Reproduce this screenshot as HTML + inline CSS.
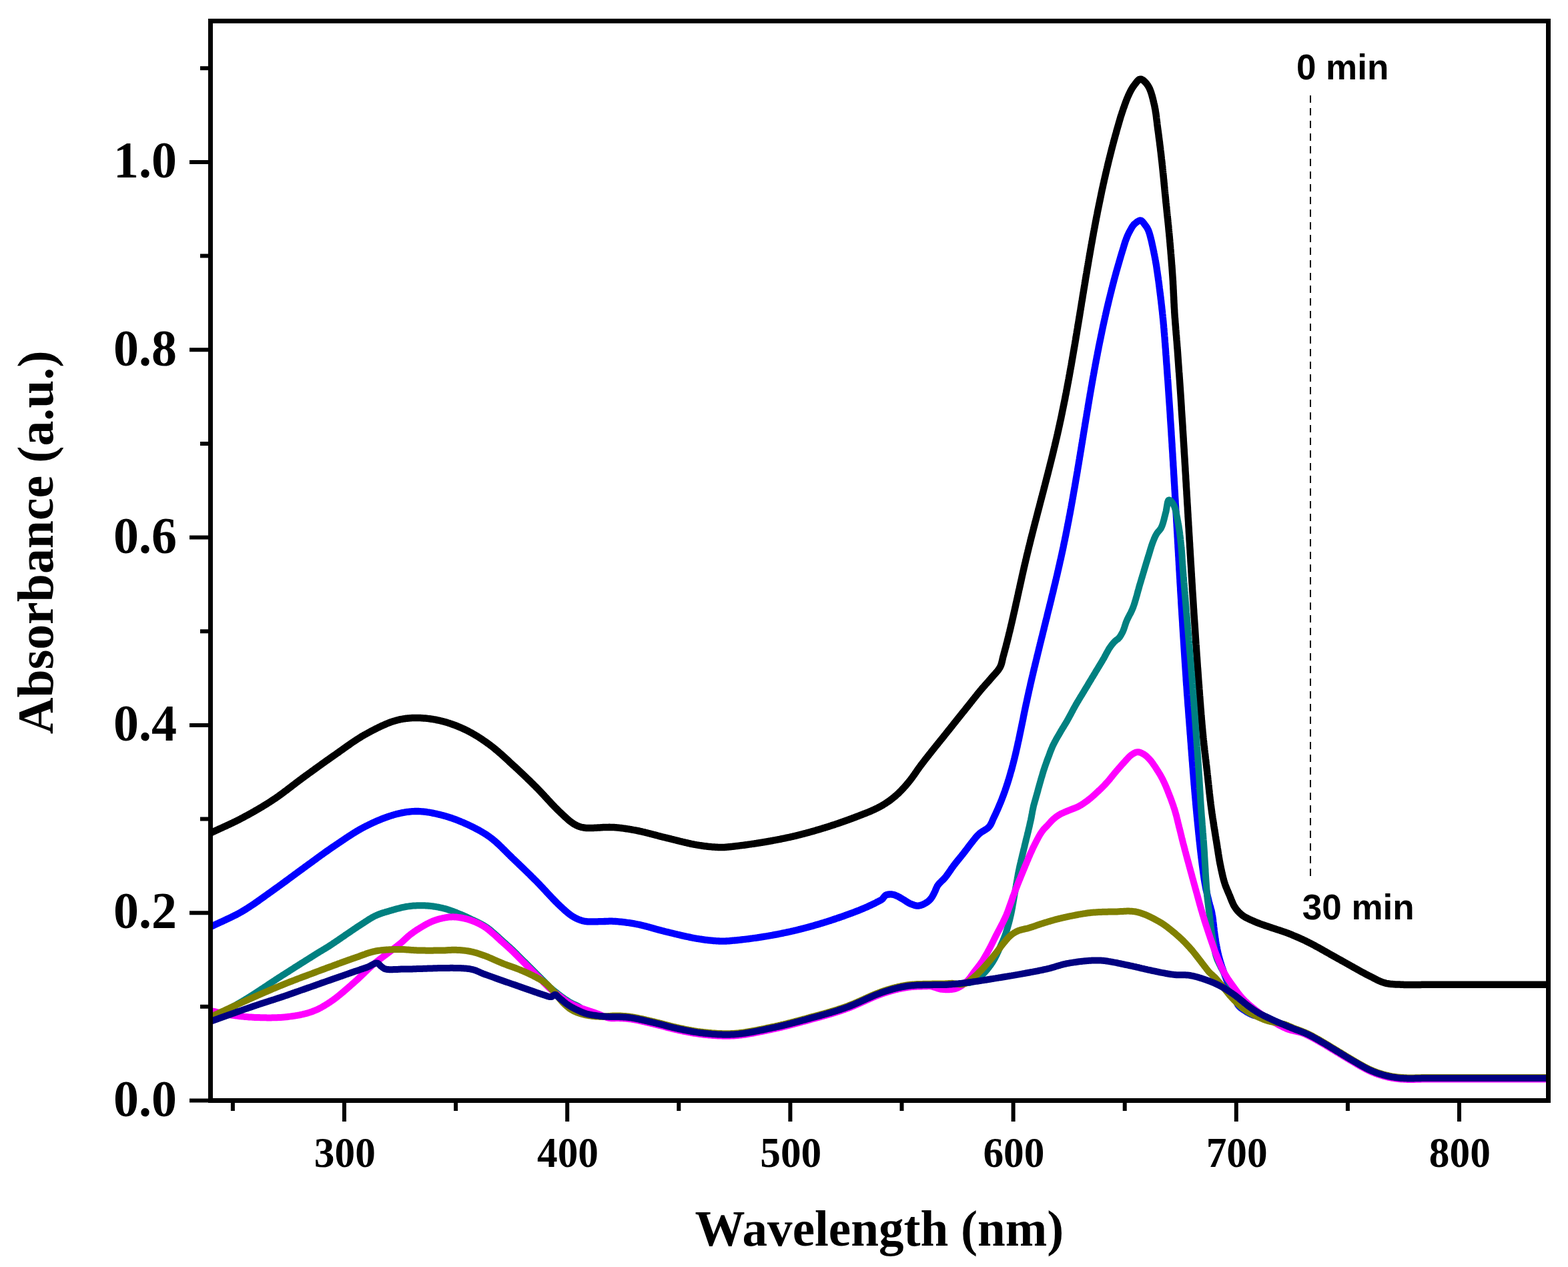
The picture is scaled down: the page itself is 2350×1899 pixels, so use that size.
<!DOCTYPE html>
<html><head><meta charset="utf-8"><title>Absorbance spectra</title>
<style>html,body{margin:0;padding:0;background:#fff;}svg{display:block;}</style>
</head><body>
<svg xmlns="http://www.w3.org/2000/svg" width="2350" height="1899" viewBox="0 0 2350 1899"><defs><clipPath id="pc"><rect x="316" y="32" width="2004" height="1617"/></clipPath></defs><g clip-path="url(#pc)" fill="none" stroke-linejoin="round" stroke-linecap="butt"><path d="M316.0 1248.4L317.3 1247.8 318.7 1247.1 320.0 1246.5 321.4 1245.9 322.7 1245.2 324.1 1244.6 325.4 1244.0 326.8 1243.4 328.1 1242.7 329.5 1242.1 330.8 1241.5 332.2 1240.9 333.5 1240.3 334.9 1239.6 336.2 1239.0 337.6 1238.4 338.9 1237.8 340.3 1237.2 341.6 1236.5 343.0 1235.9 344.3 1235.3 345.7 1234.6 347.0 1234.0 348.3 1233.4 349.7 1232.7 351.0 1232.1 352.4 1231.4 353.7 1230.8 355.0 1230.1 356.4 1229.4 357.7 1228.8 359.0 1228.1 360.4 1227.4 361.7 1226.7 363.0 1226.0 364.3 1225.3 365.6 1224.6 366.9 1223.9 368.2 1223.2 369.5 1222.5 370.8 1221.8 372.1 1221.1 373.4 1220.4 374.6 1219.7 375.9 1219.0 377.2 1218.3 378.5 1217.5 379.8 1216.8 381.1 1216.1 382.4 1215.3 383.6 1214.6 384.9 1213.9 386.2 1213.1 387.5 1212.4 388.7 1211.6 390.0 1210.9 391.3 1210.1 392.6 1209.4 393.8 1208.6 395.1 1207.8 396.4 1207.0 397.6 1206.3 398.9 1205.5 400.2 1204.7 401.4 1203.9 402.7 1203.1 404.0 1202.3 405.2 1201.5 406.5 1200.6 407.7 1199.8 409.0 1199.0 410.2 1198.2 411.4 1197.4 412.6 1196.6 413.8 1195.8 415.0 1194.9 416.2 1194.1 417.4 1193.3 418.5 1192.4 419.7 1191.6 420.9 1190.7 422.1 1189.8 423.3 1189.0 424.4 1188.1 425.6 1187.2 426.8 1186.3 428.0 1185.4 429.2 1184.6 430.3 1183.7 431.5 1182.8 432.7 1181.9 433.8 1181.0 435.0 1180.1 436.2 1179.2 437.4 1178.3 438.5 1177.4 439.7 1176.5 440.9 1175.6 442.1 1174.7 443.2 1173.8 444.4 1172.9 445.6 1172.0 446.8 1171.1 447.9 1170.2 449.1 1169.4 450.3 1168.5 451.5 1167.6 452.6 1166.7 453.8 1165.9 455.0 1165.0 456.2 1164.1 457.4 1163.2 458.6 1162.4 459.8 1161.5 461.0 1160.6 462.2 1159.7 463.5 1158.8 464.7 1158.0 465.9 1157.1 467.1 1156.2 468.3 1155.3 469.5 1154.5 470.7 1153.6 471.9 1152.7 473.1 1151.8 474.3 1151.0 475.5 1150.1 476.7 1149.2 478.0 1148.3 479.2 1147.5 480.4 1146.6 481.6 1145.7 482.8 1144.9 484.0 1144.0 485.2 1143.1 486.4 1142.3 487.6 1141.4 488.9 1140.5 490.1 1139.7 491.3 1138.8 492.5 1138.0 493.7 1137.1 494.9 1136.3 496.1 1135.4 497.4 1134.5 498.6 1133.7 499.8 1132.8 501.0 1132.0 502.2 1131.1 503.5 1130.3 504.7 1129.4 505.9 1128.5 507.2 1127.7 508.4 1126.8 509.6 1125.9 510.9 1125.0 512.1 1124.1 513.3 1123.3 514.6 1122.4 515.8 1121.5 517.0 1120.6 518.3 1119.7 519.5 1118.9 520.7 1118.0 522.0 1117.1 523.2 1116.3 524.5 1115.4 525.7 1114.5 526.9 1113.7 528.2 1112.8 529.4 1112.0 530.7 1111.1 531.9 1110.3 533.1 1109.5 534.4 1108.7 535.6 1107.9 536.9 1107.1 538.2 1106.3 539.4 1105.5 540.7 1104.7 541.9 1103.9 543.2 1103.2 544.5 1102.5 545.7 1101.7 547.0 1101.0 548.3 1100.3 549.7 1099.5 551.0 1098.8 552.4 1098.0 553.7 1097.3 555.1 1096.6 556.4 1095.8 557.8 1095.1 559.2 1094.4 560.6 1093.7 561.9 1093.0 563.3 1092.3 564.7 1091.6 566.1 1090.9 567.5 1090.2 568.9 1089.5 570.2 1088.9 571.6 1088.2 573.0 1087.6 574.4 1087.0 575.7 1086.4 577.1 1085.8 578.5 1085.2 579.8 1084.6 581.2 1084.1 582.5 1083.5 583.9 1083.0 585.2 1082.5 586.5 1082.1 587.8 1081.6 589.1 1081.2 590.4 1080.8 591.7 1080.4 593.0 1080.0 594.5 1079.6 596.0 1079.2 597.5 1078.8 598.9 1078.5 600.4 1078.2 601.8 1077.9 603.3 1077.7 604.7 1077.4 606.1 1077.2 607.5 1077.0 608.9 1076.8 610.3 1076.7 611.7 1076.5 613.1 1076.4 614.5 1076.3 615.9 1076.2 617.4 1076.1 618.8 1076.1 620.2 1076.0 621.6 1076.0 623.1 1076.0 624.5 1076.0 626.0 1076.0 627.4 1076.0 628.9 1076.1 630.3 1076.1 631.8 1076.2 633.3 1076.3 634.8 1076.4 636.2 1076.5 637.7 1076.6 639.2 1076.7 640.7 1076.9 642.2 1077.1 643.7 1077.3 645.2 1077.5 646.7 1077.7 648.2 1077.9 649.7 1078.2 651.2 1078.4 652.7 1078.7 654.1 1079.0 655.6 1079.3 657.1 1079.6 658.6 1079.9 660.1 1080.3 661.5 1080.6 663.0 1081.0 664.4 1081.4 665.8 1081.7 667.2 1082.1 668.6 1082.5 670.0 1082.9 671.4 1083.4 672.7 1083.8 674.1 1084.3 675.5 1084.7 676.9 1085.2 678.3 1085.7 679.7 1086.2 681.1 1086.7 682.4 1087.2 683.8 1087.8 685.2 1088.3 686.6 1088.9 687.9 1089.5 689.3 1090.0 690.6 1090.6 692.0 1091.2 693.3 1091.8 694.7 1092.4 696.0 1093.1 697.4 1093.7 698.7 1094.3 700.0 1095.0 701.3 1095.6 702.6 1096.3 703.8 1097.0 705.1 1097.7 706.4 1098.3 707.7 1099.1 708.9 1099.8 710.2 1100.5 711.4 1101.2 712.7 1102.0 713.9 1102.7 715.1 1103.5 716.4 1104.2 717.6 1105.0 718.8 1105.8 720.1 1106.6 721.3 1107.4 722.5 1108.2 723.7 1109.1 724.9 1109.9 726.2 1110.7 727.4 1111.6 728.6 1112.4 729.8 1113.3 731.0 1114.2 732.2 1115.0 733.4 1115.9 734.6 1116.8 735.7 1117.7 736.9 1118.5 738.0 1119.4 739.2 1120.3 740.3 1121.2 741.4 1122.1 742.5 1123.0 743.6 1124.0 744.8 1124.9 745.9 1125.9 747.0 1126.8 748.1 1127.8 749.2 1128.8 750.3 1129.7 751.4 1130.7 752.5 1131.7 753.6 1132.7 754.7 1133.7 755.8 1134.7 756.9 1135.7 758.0 1136.7 759.1 1137.7 760.2 1138.7 761.3 1139.7 762.4 1140.7 763.5 1141.8 764.6 1142.8 765.7 1143.8 766.8 1144.8 767.9 1145.8 769.0 1146.8 770.1 1147.8 771.1 1148.7 772.2 1149.7 773.2 1150.7 774.3 1151.7 775.4 1152.7 776.4 1153.6 777.5 1154.6 778.5 1155.6 779.6 1156.6 780.6 1157.6 781.7 1158.6 782.8 1159.6 783.8 1160.6 784.9 1161.6 785.9 1162.6 787.0 1163.6 788.0 1164.6 789.1 1165.6 790.1 1166.6 791.2 1167.7 792.2 1168.7 793.3 1169.7 794.3 1170.7 795.4 1171.7 796.4 1172.8 797.5 1173.8 798.5 1174.8 799.5 1175.9 800.6 1176.9 801.6 1177.9 802.7 1179.0 803.7 1180.0 804.7 1181.0 805.8 1182.1 806.8 1183.1 807.8 1184.2 808.8 1185.3 809.9 1186.4 810.9 1187.5 812.0 1188.6 813.0 1189.7 814.0 1190.8 815.1 1191.9 816.1 1193.0 817.1 1194.2 818.2 1195.3 819.2 1196.4 820.2 1197.5 821.2 1198.6 822.3 1199.7 823.3 1200.8 824.3 1201.9 825.3 1203.0 826.3 1204.1 827.3 1205.2 828.3 1206.2 829.3 1207.3 830.3 1208.3 831.3 1209.4 832.3 1210.4 833.3 1211.3 834.2 1212.3 835.2 1213.3 836.1 1214.2 837.1 1215.1 838.0 1216.0 839.2 1217.1 840.3 1218.2 841.5 1219.3 842.6 1220.4 843.8 1221.5 844.9 1222.5 846.0 1223.6 847.2 1224.6 848.3 1225.6 849.4 1226.6 850.5 1227.6 851.6 1228.6 852.6 1229.5 853.7 1230.4 854.8 1231.2 855.8 1232.0 856.9 1232.8 857.9 1233.5 859.0 1234.2 860.0 1234.9 861.0 1235.5 862.4 1236.3 863.8 1237.0 865.1 1237.6 866.3 1238.2 867.6 1238.7 868.9 1239.1 870.2 1239.5 871.7 1239.9 873.3 1240.2 875.0 1240.5 876.1 1240.7 877.2 1240.8 878.4 1240.9 879.6 1241.0 880.9 1241.0 882.3 1241.0 883.7 1241.0 885.1 1241.0 886.5 1241.0 888.0 1241.0 889.5 1240.9 891.1 1240.8 892.6 1240.8 894.2 1240.7 895.8 1240.6 897.4 1240.5 899.0 1240.4 900.6 1240.3 902.2 1240.2 903.8 1240.1 905.4 1240.1 907.0 1240.0 908.6 1239.9 910.2 1239.9 911.7 1239.9 913.2 1239.8 914.7 1239.9 916.2 1239.9 917.6 1239.9 919.0 1240.0 920.5 1240.1 922.0 1240.2 923.5 1240.3 925.0 1240.4 926.4 1240.6 927.8 1240.7 929.2 1240.9 930.7 1241.0 932.1 1241.2 933.5 1241.4 934.8 1241.6 936.2 1241.8 937.6 1242.0 939.0 1242.2 940.4 1242.4 941.8 1242.6 943.2 1242.8 944.7 1243.1 946.1 1243.3 947.5 1243.6 949.0 1243.9 950.5 1244.1 952.0 1244.4 953.5 1244.7 954.8 1245.0 956.2 1245.2 957.6 1245.5 959.0 1245.8 960.3 1246.1 961.7 1246.4 963.1 1246.8 964.6 1247.1 966.0 1247.4 967.4 1247.8 968.8 1248.1 970.3 1248.5 971.7 1248.9 973.2 1249.2 974.6 1249.6 976.1 1250.0 977.6 1250.4 979.0 1250.8 980.5 1251.2 982.0 1251.5 983.4 1251.9 984.9 1252.3 986.4 1252.7 987.8 1253.1 989.3 1253.5 990.8 1253.8 992.2 1254.2 993.7 1254.6 995.2 1254.9 996.6 1255.3 998.1 1255.7 999.5 1256.0 1000.9 1256.3 1002.4 1256.7 1003.8 1257.0 1005.3 1257.4 1006.8 1257.8 1008.2 1258.1 1009.7 1258.5 1011.2 1258.9 1012.6 1259.2 1014.1 1259.6 1015.6 1260.0 1017.1 1260.3 1018.5 1260.7 1020.0 1261.1 1021.5 1261.4 1022.9 1261.8 1024.4 1262.1 1025.9 1262.5 1027.3 1262.8 1028.8 1263.2 1030.2 1263.5 1031.7 1263.8 1033.1 1264.2 1034.5 1264.5 1035.9 1264.8 1037.3 1265.1 1038.7 1265.3 1040.1 1265.6 1041.5 1265.9 1042.9 1266.1 1044.3 1266.4 1045.6 1266.6 1047.1 1266.8 1048.7 1267.1 1050.2 1267.3 1051.7 1267.5 1053.2 1267.8 1054.7 1268.0 1056.2 1268.2 1057.8 1268.3 1059.2 1268.5 1060.7 1268.7 1062.2 1268.9 1063.7 1269.0 1065.1 1269.1 1066.6 1269.3 1068.0 1269.4 1069.4 1269.5 1070.8 1269.6 1072.2 1269.7 1073.5 1269.8 1074.9 1269.8 1076.2 1269.9 1077.5 1269.9 1078.7 1270.0 1080.0 1270.0 1081.6 1270.0 1083.1 1270.0 1084.5 1270.0 1085.9 1269.9 1087.2 1269.8 1088.5 1269.7 1089.8 1269.6 1091.1 1269.5 1092.5 1269.3 1093.9 1269.2 1095.3 1269.0 1096.8 1268.9 1098.3 1268.7 1100.0 1268.5 1101.2 1268.4 1102.4 1268.2 1103.7 1268.1 1105.0 1267.9 1106.4 1267.8 1107.7 1267.6 1109.1 1267.4 1110.5 1267.2 1112.0 1267.1 1113.5 1266.9 1114.9 1266.7 1116.5 1266.5 1118.0 1266.3 1119.5 1266.1 1121.1 1265.8 1122.6 1265.6 1124.2 1265.4 1125.8 1265.2 1127.3 1264.9 1128.9 1264.7 1130.5 1264.5 1132.1 1264.2 1133.7 1264.0 1135.3 1263.7 1136.8 1263.5 1138.4 1263.3 1139.9 1263.0 1141.5 1262.8 1143.0 1262.5 1144.5 1262.3 1146.0 1262.0 1147.4 1261.8 1148.9 1261.5 1150.3 1261.3 1151.8 1261.0 1153.2 1260.7 1154.6 1260.5 1156.1 1260.2 1157.5 1260.0 1159.0 1259.7 1160.4 1259.4 1161.8 1259.2 1163.3 1258.9 1164.7 1258.6 1166.2 1258.3 1167.6 1258.1 1169.0 1257.8 1170.5 1257.5 1171.9 1257.2 1173.4 1256.9 1174.8 1256.6 1176.2 1256.3 1177.7 1256.0 1179.1 1255.7 1180.5 1255.4 1182.0 1255.1 1183.4 1254.8 1184.8 1254.5 1186.3 1254.1 1187.7 1253.8 1189.1 1253.5 1190.6 1253.1 1192.0 1252.8 1193.4 1252.5 1194.9 1252.1 1196.3 1251.7 1197.8 1251.4 1199.2 1251.0 1200.7 1250.7 1202.1 1250.3 1203.5 1249.9 1205.0 1249.5 1206.4 1249.2 1207.9 1248.8 1209.3 1248.4 1210.7 1248.0 1212.2 1247.6 1213.6 1247.2 1215.1 1246.8 1216.5 1246.4 1217.9 1246.0 1219.4 1245.6 1220.8 1245.2 1222.2 1244.8 1223.7 1244.3 1225.1 1243.9 1226.5 1243.5 1228.0 1243.1 1229.4 1242.6 1230.8 1242.2 1232.3 1241.8 1233.7 1241.3 1235.1 1240.9 1236.6 1240.4 1238.0 1240.0 1239.4 1239.6 1240.8 1239.1 1242.2 1238.7 1243.6 1238.2 1245.1 1237.8 1246.5 1237.3 1247.9 1236.8 1249.3 1236.4 1250.8 1235.9 1252.2 1235.4 1253.6 1234.9 1255.0 1234.5 1256.5 1234.0 1257.9 1233.5 1259.3 1233.0 1260.7 1232.5 1262.2 1232.0 1263.6 1231.5 1265.0 1231.0 1266.4 1230.5 1267.8 1230.0 1269.2 1229.5 1270.6 1229.0 1272.0 1228.5 1273.3 1228.0 1274.7 1227.5 1276.1 1227.0 1277.4 1226.5 1278.7 1226.0 1280.1 1225.5 1281.4 1225.0 1282.7 1224.5 1284.0 1224.0 1285.4 1223.4 1286.9 1222.9 1288.3 1222.3 1289.8 1221.8 1291.2 1221.2 1292.6 1220.7 1294.0 1220.1 1295.5 1219.6 1296.9 1219.0 1298.3 1218.5 1299.6 1217.9 1301.0 1217.4 1302.4 1216.8 1303.7 1216.2 1305.1 1215.7 1306.4 1215.1 1307.7 1214.5 1309.1 1213.9 1310.4 1213.3 1311.6 1212.7 1312.9 1212.1 1314.2 1211.5 1315.4 1210.9 1316.6 1210.3 1317.8 1209.6 1319.0 1209.0 1320.4 1208.2 1321.7 1207.5 1323.0 1206.7 1324.3 1205.9 1325.6 1205.1 1326.9 1204.3 1328.1 1203.5 1329.3 1202.7 1330.5 1201.9 1331.7 1201.1 1332.9 1200.2 1334.0 1199.4 1335.2 1198.5 1336.3 1197.6 1337.5 1196.7 1338.6 1195.8 1339.8 1194.9 1340.9 1194.0 1342.0 1193.0 1343.1 1192.1 1344.1 1191.1 1345.2 1190.1 1346.3 1189.2 1347.3 1188.2 1348.3 1187.1 1349.4 1186.1 1350.4 1185.1 1351.4 1184.0 1352.4 1183.0 1353.4 1181.9 1354.3 1180.9 1355.3 1179.8 1356.3 1178.7 1357.3 1177.6 1358.2 1176.5 1359.2 1175.4 1360.1 1174.2 1361.1 1173.1 1362.0 1172.0 1362.9 1170.9 1363.8 1169.8 1364.7 1168.6 1365.6 1167.4 1366.5 1166.3 1367.3 1165.1 1368.2 1163.9 1369.1 1162.7 1369.9 1161.5 1370.8 1160.3 1371.6 1159.0 1372.5 1157.8 1373.3 1156.6 1374.1 1155.4 1375.0 1154.2 1375.8 1153.0 1376.6 1151.8 1377.5 1150.6 1378.3 1149.5 1379.2 1148.3 1380.0 1147.2 1380.9 1146.0 1381.8 1144.8 1382.7 1143.6 1383.6 1142.5 1384.5 1141.3 1385.4 1140.2 1386.2 1139.0 1387.1 1137.9 1388.0 1136.8 1388.9 1135.6 1389.8 1134.5 1390.7 1133.4 1391.5 1132.3 1392.4 1131.1 1393.3 1130.0 1394.3 1128.8 1395.2 1127.7 1396.1 1126.5 1397.0 1125.4 1397.9 1124.2 1398.8 1123.1 1399.7 1122.0 1400.6 1120.8 1401.5 1119.7 1402.5 1118.5 1403.4 1117.4 1404.3 1116.2 1405.3 1115.1 1406.2 1113.9 1407.1 1112.8 1408.1 1111.6 1409.0 1110.4 1409.9 1109.3 1410.9 1108.1 1411.8 1107.0 1412.7 1105.8 1413.7 1104.7 1414.6 1103.5 1415.5 1102.3 1416.4 1101.2 1417.4 1100.0 1418.3 1098.9 1419.2 1097.7 1420.1 1096.6 1421.0 1095.4 1422.0 1094.3 1422.9 1093.1 1423.8 1092.0 1424.7 1090.8 1425.6 1089.6 1426.6 1088.5 1427.5 1087.3 1428.4 1086.2 1429.3 1085.0 1430.2 1083.9 1431.2 1082.7 1432.1 1081.6 1433.0 1080.4 1433.9 1079.2 1434.8 1078.1 1435.8 1076.9 1436.7 1075.8 1437.6 1074.6 1438.5 1073.5 1439.4 1072.3 1440.4 1071.2 1441.3 1070.0 1442.2 1068.9 1443.1 1067.7 1444.0 1066.6 1445.0 1065.5 1445.9 1064.3 1446.8 1063.2 1447.7 1062.0 1448.6 1060.9 1449.6 1059.7 1450.5 1058.6 1451.4 1057.4 1452.3 1056.2 1453.3 1055.1 1454.2 1053.9 1455.1 1052.7 1456.0 1051.6 1457.0 1050.4 1457.9 1049.2 1458.8 1048.0 1459.8 1046.8 1460.7 1045.7 1461.6 1044.5 1462.6 1043.3 1463.5 1042.2 1464.4 1041.0 1465.3 1039.9 1466.3 1038.7 1467.2 1037.6 1468.1 1036.5 1469.0 1035.4 1469.9 1034.3 1470.9 1033.2 1471.8 1032.0 1472.8 1030.9 1473.8 1029.8 1474.8 1028.7 1475.7 1027.6 1476.7 1026.5 1477.6 1025.4 1478.6 1024.4 1479.6 1023.3 1480.5 1022.2 1481.4 1021.2 1482.4 1020.1 1483.3 1019.1 1484.2 1018.0 1485.1 1017.0 1486.0 1015.9 1487.0 1014.7 1488.0 1013.6 1489.0 1012.4 1490.1 1011.3 1491.1 1010.2 1492.1 1009.0 1493.1 1007.9 1494.0 1006.8 1495.0 1005.7 1495.9 1004.5 1496.7 1003.4 1497.5 1002.2 1498.2 1001.0 1498.9 999.8 1499.5 998.5 1500.1 997.2 1500.5 995.9 1501.0 994.6 1501.3 993.2 1501.7 991.9 1502.0 990.5 1502.3 989.1 1502.6 987.8 1502.9 986.4 1503.2 985.0 1503.6 983.6 1504.0 982.2 1504.4 980.9 1504.7 979.5 1505.1 978.1 1505.5 976.7 1505.9 975.3 1506.2 973.9 1506.6 972.5 1507.0 971.1 1507.4 969.6 1507.8 968.2 1508.1 966.7 1508.5 965.2 1508.9 963.8 1509.2 962.5 1509.6 961.1 1509.9 959.6 1510.3 958.2 1510.7 956.8 1511.0 955.3 1511.4 953.9 1511.7 952.4 1512.1 951.0 1512.4 949.5 1512.8 948.0 1513.2 946.6 1513.5 945.1 1513.9 943.6 1514.2 942.2 1514.6 940.8 1514.9 939.3 1515.2 937.9 1515.6 936.4 1515.9 935.0 1516.3 933.5 1516.6 932.1 1516.9 930.6 1517.3 929.1 1517.6 927.7 1517.9 926.2 1518.3 924.8 1518.6 923.3 1518.9 921.9 1519.2 920.4 1519.6 919.0 1519.9 917.6 1520.2 916.1 1520.6 914.6 1520.9 913.2 1521.2 911.7 1521.5 910.2 1521.9 908.8 1522.2 907.3 1522.5 905.8 1522.8 904.4 1523.1 903.0 1523.5 901.5 1523.8 900.1 1524.1 898.8 1524.4 897.4 1524.7 896.1 1525.0 894.5 1525.3 893.0 1525.7 891.5 1526.0 890.0 1526.3 888.6 1526.6 887.2 1526.9 885.7 1527.2 884.3 1527.6 882.9 1527.9 881.5 1528.2 880.0 1528.5 878.7 1528.8 877.3 1529.1 876.0 1529.4 874.6 1529.7 873.3 1530.0 872.0 1530.3 870.6 1530.6 869.3 1530.9 867.9 1531.2 866.5 1531.5 865.1 1531.8 863.7 1532.1 862.4 1532.4 861.1 1532.7 859.7 1533.0 858.3 1533.3 857.0 1533.6 855.6 1534.0 854.2 1534.3 852.7 1534.6 851.3 1534.9 849.9 1535.3 848.5 1535.6 847.1 1535.9 845.7 1536.2 844.3 1536.6 842.9 1536.9 841.5 1537.2 840.1 1537.5 838.8 1537.9 837.4 1538.2 836.0 1538.5 834.6 1538.8 833.2 1539.2 831.9 1539.5 830.5 1539.8 829.1 1540.2 827.7 1540.5 826.3 1540.8 825.0 1541.2 823.6 1541.5 822.2 1541.8 820.8 1542.2 819.4 1542.5 818.1 1542.9 816.7 1543.2 815.3 1543.6 813.9 1543.9 812.5 1544.2 811.2 1544.6 809.8 1544.9 808.4 1545.3 807.0 1545.6 805.6 1546.0 804.3 1546.3 802.9 1546.7 801.5 1547.0 800.1 1547.4 798.7 1547.7 797.3 1548.1 796.0 1548.4 794.6 1548.8 793.2 1549.1 791.8 1549.5 790.4 1549.9 789.0 1550.2 787.6 1550.6 786.2 1550.9 784.9 1551.3 783.5 1551.6 782.1 1552.0 780.7 1552.4 779.3 1552.7 778.0 1553.1 776.6 1553.4 775.2 1553.8 773.9 1554.1 772.5 1554.5 771.2 1554.8 769.8 1555.2 768.5 1555.5 767.1 1555.9 765.7 1556.3 764.3 1556.6 762.9 1557.0 761.5 1557.4 760.0 1557.7 758.7 1558.1 757.4 1558.4 756.0 1558.8 754.7 1559.1 753.3 1559.5 751.9 1559.9 750.5 1560.2 749.1 1560.6 747.7 1561.0 746.3 1561.3 744.9 1561.7 743.5 1562.1 742.1 1562.4 740.7 1562.8 739.3 1563.2 737.8 1563.6 736.4 1563.9 735.0 1564.3 733.6 1564.6 732.2 1565.0 730.9 1565.4 729.5 1565.7 728.1 1566.1 726.7 1566.4 725.3 1566.8 724.0 1567.1 722.6 1567.5 721.2 1567.9 719.8 1568.2 718.4 1568.6 717.0 1568.9 715.6 1569.3 714.2 1569.7 712.8 1570.0 711.4 1570.4 710.1 1570.7 708.7 1571.1 707.3 1571.4 705.9 1571.8 704.4 1572.2 703.0 1572.5 701.5 1572.9 700.1 1573.3 698.6 1573.6 697.2 1574.0 695.7 1574.4 694.3 1574.7 692.8 1575.1 691.4 1575.5 689.9 1575.8 688.5 1576.2 687.0 1576.5 685.6 1576.9 684.1 1577.3 682.7 1577.6 681.2 1578.0 679.8 1578.3 678.3 1578.7 676.8 1579.0 675.4 1579.4 673.9 1579.7 672.5 1580.1 671.0 1580.4 669.6 1580.8 668.1 1581.1 666.6 1581.5 665.2 1581.8 663.7 1582.2 662.3 1582.5 660.8 1582.8 659.4 1583.2 657.9 1583.5 656.4 1583.9 655.0 1584.2 653.5 1584.5 652.1 1584.9 650.6 1585.2 649.1 1585.5 647.7 1585.9 646.2 1586.2 644.8 1586.5 643.3 1586.8 641.9 1587.1 640.4 1587.5 639.0 1587.8 637.5 1588.1 636.1 1588.4 634.6 1588.7 633.2 1589.0 631.7 1589.4 630.3 1589.7 628.8 1590.0 627.4 1590.3 625.9 1590.6 624.5 1590.9 623.0 1591.2 621.5 1591.5 620.1 1591.8 618.6 1592.1 617.1 1592.4 615.7 1592.7 614.2 1593.0 612.7 1593.3 611.3 1593.6 609.8 1593.9 608.3 1594.2 606.9 1594.5 605.4 1594.8 603.9 1595.1 602.5 1595.4 601.0 1595.7 599.6 1596.0 598.2 1596.3 596.7 1596.5 595.3 1596.8 593.8 1597.1 592.3 1597.4 590.9 1597.7 589.4 1598.0 588.0 1598.2 586.5 1598.5 585.1 1598.8 583.7 1599.1 582.2 1599.3 580.8 1599.6 579.4 1599.9 577.9 1600.1 576.5 1600.4 575.0 1600.7 573.6 1601.0 572.1 1601.2 570.6 1601.5 569.2 1601.8 567.8 1602.0 566.3 1602.3 564.9 1602.6 563.4 1602.8 562.0 1603.1 560.5 1603.3 559.0 1603.6 557.6 1603.9 556.1 1604.1 554.6 1604.4 553.2 1604.7 551.7 1604.9 550.2 1605.2 548.8 1605.5 547.3 1605.7 545.8 1606.0 544.4 1606.2 542.9 1606.5 541.4 1606.7 540.0 1607.0 538.5 1607.2 537.1 1607.5 535.6 1607.7 534.2 1608.0 532.7 1608.2 531.3 1608.5 529.8 1608.7 528.4 1609.0 526.9 1609.2 525.5 1609.5 524.0 1609.7 522.6 1610.0 521.1 1610.2 519.7 1610.5 518.2 1610.7 516.8 1611.0 515.3 1611.2 513.8 1611.5 512.4 1611.7 510.9 1612.0 509.5 1612.2 508.0 1612.4 506.6 1612.7 505.1 1612.9 503.6 1613.2 502.2 1613.4 500.7 1613.7 499.3 1613.9 497.8 1614.1 496.3 1614.4 494.9 1614.6 493.4 1614.9 492.0 1615.1 490.5 1615.3 489.1 1615.6 487.6 1615.8 486.1 1616.1 484.7 1616.3 483.2 1616.6 481.6 1616.8 480.1 1617.1 478.6 1617.3 477.1 1617.6 475.6 1617.8 474.1 1618.1 472.6 1618.3 471.1 1618.5 469.6 1618.8 468.1 1619.0 466.7 1619.2 465.3 1619.5 463.9 1619.7 462.6 1619.9 461.3 1620.1 460.0 1620.4 458.4 1620.6 457.0 1620.8 455.6 1621.0 454.3 1621.2 453.0 1621.4 451.7 1621.7 450.4 1621.9 449.1 1622.1 447.6 1622.4 446.1 1622.6 444.4 1622.8 443.3 1623.0 442.1 1623.2 440.8 1623.4 439.5 1623.7 438.2 1623.9 436.8 1624.1 435.4 1624.3 434.0 1624.6 432.6 1624.8 431.1 1625.1 429.6 1625.3 428.0 1625.6 426.5 1625.8 424.9 1626.1 423.4 1626.4 421.8 1626.6 420.2 1626.9 418.6 1627.1 417.0 1627.4 415.4 1627.7 413.8 1627.9 412.2 1628.2 410.7 1628.5 409.1 1628.7 407.5 1629.0 406.0 1629.2 404.5 1629.5 403.0 1629.7 401.6 1630.0 400.1 1630.2 398.7 1630.5 397.2 1630.7 395.7 1631.0 394.3 1631.2 392.8 1631.5 391.3 1631.7 389.8 1632.0 388.3 1632.2 386.8 1632.5 385.4 1632.8 383.9 1633.0 382.4 1633.3 380.9 1633.5 379.5 1633.8 378.0 1634.0 376.6 1634.3 375.1 1634.5 373.7 1634.8 372.3 1635.0 370.9 1635.3 369.5 1635.5 368.1 1635.7 366.7 1636.0 365.4 1636.2 364.1 1636.5 362.8 1636.7 361.5 1637.0 359.9 1637.3 358.3 1637.5 356.7 1637.8 355.2 1638.1 353.7 1638.4 352.2 1638.6 350.8 1638.9 349.3 1639.1 347.9 1639.4 346.5 1639.7 345.1 1639.9 343.7 1640.2 342.2 1640.5 340.8 1640.7 339.4 1641.0 337.9 1641.3 336.5 1641.6 335.0 1641.8 333.6 1642.1 332.1 1642.4 330.7 1642.7 329.2 1642.9 327.8 1643.2 326.3 1643.5 324.9 1643.8 323.4 1644.1 322.0 1644.4 320.5 1644.6 319.0 1644.9 317.6 1645.2 316.1 1645.5 314.7 1645.8 313.2 1646.1 311.8 1646.4 310.3 1646.7 308.9 1647.0 307.4 1647.3 305.9 1647.6 304.5 1647.9 303.0 1648.2 301.6 1648.5 300.1 1648.8 298.7 1649.1 297.2 1649.4 295.7 1649.7 294.3 1650.0 292.8 1650.3 291.4 1650.6 289.9 1650.9 288.4 1651.2 287.0 1651.5 285.5 1651.8 284.1 1652.1 282.6 1652.5 281.2 1652.8 279.7 1653.1 278.2 1653.4 276.8 1653.7 275.3 1654.1 273.9 1654.4 272.4 1654.7 270.9 1655.0 269.5 1655.4 268.0 1655.7 266.6 1656.0 265.1 1656.4 263.7 1656.7 262.2 1657.0 260.7 1657.4 259.3 1657.7 257.8 1658.1 256.4 1658.4 254.9 1658.7 253.5 1659.1 252.0 1659.4 250.5 1659.8 249.1 1660.1 247.6 1660.5 246.2 1660.8 244.7 1661.2 243.3 1661.5 241.8 1661.9 240.4 1662.2 238.9 1662.6 237.5 1663.0 236.0 1663.3 234.6 1663.7 233.1 1664.1 231.7 1664.4 230.2 1664.8 228.8 1665.2 227.3 1665.5 225.9 1665.9 224.4 1666.3 223.0 1666.6 221.6 1667.0 220.3 1667.3 218.9 1667.7 217.5 1668.1 216.1 1668.4 214.7 1668.8 213.4 1669.2 212.0 1669.5 210.6 1669.9 209.2 1670.3 207.8 1670.7 206.5 1671.0 205.1 1671.4 203.7 1671.8 202.3 1672.2 200.9 1672.6 199.6 1673.0 198.2 1673.3 196.8 1673.7 195.4 1674.1 194.0 1674.5 192.6 1674.9 191.3 1675.3 189.9 1675.7 188.5 1676.1 187.1 1676.5 185.7 1676.9 184.3 1677.3 182.9 1677.7 181.5 1678.1 180.2 1678.5 178.8 1678.9 177.4 1679.3 176.0 1679.7 174.6 1680.2 173.2 1680.6 171.9 1681.1 170.5 1681.5 169.1 1682.0 167.7 1682.5 166.3 1683.0 164.8 1683.4 163.4 1683.9 161.9 1684.5 160.5 1685.0 159.0 1685.5 157.6 1686.0 156.1 1686.5 154.7 1687.1 153.2 1687.6 151.8 1688.1 150.4 1688.7 149.0 1689.2 147.7 1689.7 146.4 1690.3 145.1 1690.8 143.9 1691.4 142.7 1691.9 141.5 1692.6 140.0 1693.3 138.6 1694.0 137.2 1694.7 135.8 1695.4 134.5 1696.1 133.3 1696.9 132.0 1697.6 130.9 1698.4 129.7 1699.2 128.6 1700.0 127.5 1700.9 126.3 1701.9 125.0 1702.9 123.7 1703.9 122.4 1704.9 121.3 1706.0 120.2 1707.0 119.4 1708.1 118.9 1709.2 118.7 1710.3 118.8 1711.4 119.2 1712.6 119.9 1713.8 120.7 1715.0 121.8 1716.2 123.0 1717.4 124.2 1718.5 125.6 1719.5 127.0 1720.5 128.4 1721.1 129.4 1721.7 130.5 1722.3 131.6 1722.9 132.8 1723.4 134.0 1723.9 135.3 1724.4 136.6 1724.9 138.0 1725.4 139.4 1725.8 140.8 1726.3 142.3 1726.7 143.8 1727.1 145.3 1727.5 146.8 1727.9 148.3 1728.2 149.9 1728.6 151.4 1729.0 152.9 1729.3 154.5 1729.7 156.0 1730.0 157.3 1730.3 158.7 1730.6 160.0 1730.8 161.4 1731.1 162.8 1731.4 164.1 1731.6 165.5 1731.8 167.0 1732.0 168.4 1732.3 169.8 1732.5 171.3 1732.7 172.7 1732.9 174.2 1733.1 175.7 1733.2 177.1 1733.4 178.6 1733.6 180.1 1733.8 181.6 1734.0 183.1 1734.2 184.6 1734.3 186.1 1734.5 187.6 1734.7 189.1 1734.9 190.7 1735.1 192.2 1735.3 193.7 1735.5 195.2 1735.7 196.6 1735.9 198.1 1736.1 199.5 1736.3 200.9 1736.5 202.4 1736.6 203.8 1736.8 205.2 1737.0 206.7 1737.2 208.1 1737.4 209.6 1737.6 211.1 1737.8 212.5 1738.0 214.0 1738.1 215.5 1738.3 216.9 1738.5 218.4 1738.7 219.9 1738.9 221.4 1739.1 222.9 1739.2 224.4 1739.4 225.9 1739.6 227.4 1739.8 228.9 1740.0 230.5 1740.1 232.0 1740.3 233.5 1740.5 235.1 1740.7 236.6 1740.8 238.2 1741.0 239.7 1741.2 241.3 1741.4 242.7 1741.5 244.1 1741.7 245.5 1741.8 246.9 1742.0 248.4 1742.1 249.8 1742.3 251.3 1742.4 252.7 1742.6 254.2 1742.7 255.6 1742.9 257.1 1743.0 258.6 1743.2 260.1 1743.3 261.5 1743.5 263.0 1743.6 264.5 1743.8 266.0 1743.9 267.5 1744.1 269.0 1744.2 270.5 1744.4 272.0 1744.5 273.5 1744.6 275.0 1744.8 276.5 1744.9 278.0 1745.1 279.5 1745.2 281.0 1745.4 282.5 1745.5 284.1 1745.7 285.6 1745.8 287.1 1746.0 288.6 1746.1 290.1 1746.3 291.6 1746.4 293.1 1746.6 294.5 1746.7 296.0 1746.9 297.5 1747.0 299.0 1747.1 300.5 1747.3 302.0 1747.4 303.4 1747.6 304.9 1747.8 306.4 1747.9 307.9 1748.1 309.3 1748.2 310.8 1748.4 312.3 1748.5 313.7 1748.7 315.2 1748.8 316.7 1749.0 318.2 1749.1 319.6 1749.3 321.1 1749.4 322.6 1749.6 324.1 1749.7 325.5 1749.9 327.0 1750.1 328.5 1750.2 330.0 1750.4 331.4 1750.5 332.9 1750.7 334.4 1750.8 335.9 1751.0 337.3 1751.1 338.8 1751.3 340.3 1751.4 341.8 1751.5 343.2 1751.7 344.7 1751.8 346.2 1752.0 347.7 1752.1 349.1 1752.3 350.6 1752.4 352.1 1752.5 353.6 1752.7 355.0 1752.8 356.5 1752.9 358.0 1753.1 359.4 1753.2 360.9 1753.3 362.4 1753.5 363.9 1753.6 365.4 1753.7 366.8 1753.8 368.3 1754.0 369.8 1754.1 371.3 1754.2 372.7 1754.4 374.2 1754.5 375.7 1754.6 377.2 1754.7 378.6 1754.8 380.1 1755.0 381.6 1755.1 383.1 1755.2 384.6 1755.3 386.0 1755.4 387.5 1755.6 389.0 1755.7 390.5 1755.8 391.9 1755.9 393.4 1756.0 394.9 1756.1 396.4 1756.2 397.8 1756.4 399.3 1756.5 400.8 1756.6 402.3 1756.7 403.7 1756.8 405.2 1756.9 406.7 1757.0 408.1 1757.1 409.6 1757.2 411.1 1757.3 412.5 1757.4 414.0 1757.5 415.5 1757.6 417.0 1757.7 418.5 1757.8 419.9 1757.9 421.4 1758.0 422.9 1758.0 424.4 1758.1 425.9 1758.2 427.4 1758.3 428.9 1758.4 430.4 1758.4 431.8 1758.5 433.3 1758.6 434.8 1758.7 436.3 1758.7 437.8 1758.8 439.3 1758.9 440.8 1758.9 442.2 1759.0 443.7 1759.1 445.2 1759.2 446.7 1759.2 448.2 1759.3 449.6 1759.4 451.1 1759.4 452.6 1759.5 454.0 1759.6 455.5 1759.7 457.0 1759.7 458.4 1759.8 459.9 1759.9 461.3 1760.0 462.8 1760.1 464.2 1760.2 465.7 1760.2 467.1 1760.3 468.6 1760.4 470.0 1760.5 471.5 1760.6 473.0 1760.7 474.5 1760.8 476.0 1761.0 477.5 1761.1 479.0 1761.2 480.5 1761.3 482.0 1761.4 483.5 1761.5 485.0 1761.6 486.5 1761.8 488.0 1761.9 489.4 1762.0 490.9 1762.1 492.4 1762.2 493.9 1762.4 495.3 1762.5 496.8 1762.6 498.3 1762.7 499.7 1762.8 501.2 1763.0 502.7 1763.1 504.1 1763.2 505.6 1763.3 507.0 1763.4 508.5 1763.5 509.9 1763.7 511.4 1763.8 512.8 1763.9 514.3 1764.0 515.7 1764.1 517.1 1764.2 518.6 1764.3 520.0 1764.4 521.5 1764.6 523.0 1764.7 524.4 1764.8 525.9 1764.9 527.3 1765.0 528.8 1765.1 530.2 1765.2 531.6 1765.3 533.1 1765.4 534.5 1765.5 535.9 1765.6 537.3 1765.7 538.8 1765.8 540.2 1765.9 541.6 1766.0 543.0 1766.1 544.4 1766.2 545.9 1766.3 547.3 1766.4 548.7 1766.5 550.2 1766.6 551.6 1766.7 553.0 1766.8 554.5 1766.9 556.0 1767.0 557.4 1767.2 558.9 1767.3 560.4 1767.4 561.9 1767.5 563.5 1767.6 565.0 1767.7 566.4 1767.8 567.8 1767.9 569.2 1768.0 570.6 1768.1 572.1 1768.2 573.5 1768.3 574.9 1768.4 576.4 1768.5 577.8 1768.6 579.3 1768.7 580.8 1768.8 582.3 1768.9 583.7 1769.0 585.2 1769.1 586.7 1769.2 588.2 1769.3 589.7 1769.4 591.2 1769.5 592.7 1769.6 594.2 1769.7 595.7 1769.8 597.2 1769.9 598.7 1770.0 600.2 1770.1 601.8 1770.2 603.3 1770.3 604.8 1770.4 606.3 1770.5 607.8 1770.6 609.3 1770.7 610.8 1770.7 612.3 1770.8 613.8 1770.9 615.3 1771.0 616.8 1771.1 618.3 1771.2 619.8 1771.3 621.3 1771.4 622.8 1771.5 624.3 1771.6 625.8 1771.7 627.2 1771.8 628.7 1771.9 630.2 1772.0 631.7 1772.1 633.1 1772.2 634.6 1772.3 636.1 1772.4 637.6 1772.5 639.1 1772.6 640.5 1772.6 642.0 1772.7 643.5 1772.8 645.0 1772.9 646.4 1773.0 647.9 1773.1 649.4 1773.2 650.9 1773.3 652.3 1773.4 653.8 1773.5 655.3 1773.6 656.8 1773.7 658.2 1773.7 659.7 1773.8 661.2 1773.9 662.7 1774.0 664.2 1774.1 665.6 1774.2 667.1 1774.3 668.6 1774.4 670.1 1774.5 671.5 1774.6 673.0 1774.7 674.5 1774.7 676.0 1774.8 677.4 1774.9 678.9 1775.0 680.4 1775.1 681.9 1775.2 683.4 1775.3 684.8 1775.4 686.3 1775.5 687.8 1775.6 689.3 1775.6 690.7 1775.7 692.2 1775.8 693.7 1775.9 695.2 1776.0 696.6 1776.1 698.1 1776.2 699.6 1776.3 701.1 1776.4 702.6 1776.4 704.0 1776.5 705.5 1776.6 707.0 1776.7 708.5 1776.8 709.9 1776.9 711.4 1777.0 712.9 1777.1 714.4 1777.1 715.8 1777.2 717.3 1777.3 718.8 1777.4 720.3 1777.5 721.8 1777.6 723.2 1777.7 724.7 1777.8 726.2 1777.8 727.7 1777.9 729.1 1778.0 730.6 1778.1 732.1 1778.2 733.6 1778.3 735.0 1778.4 736.5 1778.5 738.0 1778.5 739.5 1778.6 741.0 1778.7 742.4 1778.8 743.9 1778.9 745.4 1779.0 746.9 1779.1 748.4 1779.2 749.8 1779.2 751.3 1779.3 752.8 1779.4 754.3 1779.5 755.8 1779.6 757.3 1779.7 758.7 1779.8 760.2 1779.9 761.7 1779.9 763.2 1780.0 764.7 1780.1 766.2 1780.2 767.6 1780.3 769.1 1780.4 770.6 1780.5 772.1 1780.5 773.6 1780.6 775.0 1780.7 776.5 1780.8 778.0 1780.9 779.5 1781.0 780.9 1781.1 782.4 1781.2 783.9 1781.2 785.4 1781.3 786.8 1781.4 788.3 1781.5 789.8 1781.6 791.2 1781.7 792.7 1781.8 794.1 1781.8 795.6 1781.9 797.1 1782.0 798.6 1782.1 800.1 1782.2 801.5 1782.3 803.0 1782.4 804.5 1782.5 805.9 1782.5 807.4 1782.6 808.9 1782.7 810.3 1782.8 811.8 1782.9 813.2 1783.0 814.7 1783.1 816.1 1783.1 817.6 1783.2 819.1 1783.3 820.5 1783.4 822.0 1783.5 823.4 1783.6 824.9 1783.7 826.3 1783.7 827.8 1783.8 829.2 1783.9 830.7 1784.0 832.2 1784.1 833.6 1784.2 835.1 1784.3 836.6 1784.4 838.0 1784.4 839.5 1784.5 841.0 1784.6 842.5 1784.7 844.0 1784.8 845.5 1784.9 847.0 1785.0 848.5 1785.1 850.0 1785.2 851.4 1785.3 852.8 1785.3 854.2 1785.4 855.7 1785.5 857.1 1785.6 858.5 1785.7 859.8 1785.8 861.2 1785.8 862.6 1785.9 864.0 1786.0 865.4 1786.1 866.8 1786.2 868.2 1786.3 869.6 1786.3 871.0 1786.4 872.4 1786.5 873.8 1786.6 875.2 1786.7 876.6 1786.8 878.0 1786.9 879.5 1787.0 880.9 1787.0 882.3 1787.1 883.8 1787.2 885.2 1787.3 886.7 1787.4 888.2 1787.5 889.6 1787.6 891.1 1787.7 892.6 1787.8 894.1 1787.9 895.7 1788.0 897.2 1788.1 898.8 1788.2 900.3 1788.3 901.9 1788.4 903.5 1788.5 905.1 1788.6 906.7 1788.7 908.4 1788.8 910.0 1788.9 911.7 1789.0 913.0 1789.1 914.3 1789.2 915.6 1789.2 916.9 1789.3 918.2 1789.4 919.6 1789.5 921.0 1789.6 922.3 1789.7 923.7 1789.8 925.1 1789.9 926.5 1790.0 928.0 1790.1 929.4 1790.2 930.8 1790.3 932.3 1790.4 933.8 1790.5 935.2 1790.6 936.7 1790.7 938.2 1790.8 939.7 1790.9 941.2 1791.0 942.7 1791.1 944.2 1791.2 945.8 1791.3 947.3 1791.4 948.8 1791.5 950.4 1791.6 951.9 1791.7 953.5 1791.8 955.1 1791.9 956.6 1792.0 958.2 1792.1 959.8 1792.2 961.3 1792.3 962.9 1792.4 964.5 1792.5 966.1 1792.7 967.7 1792.8 969.2 1792.9 970.8 1793.0 972.4 1793.1 974.0 1793.2 975.6 1793.3 977.1 1793.4 978.7 1793.5 980.3 1793.6 981.9 1793.7 983.4 1793.9 985.0 1794.0 986.6 1794.1 988.1 1794.2 989.7 1794.3 991.3 1794.4 992.8 1794.5 994.3 1794.6 995.9 1794.7 997.4 1794.8 998.9 1794.9 1000.5 1795.1 1002.0 1795.2 1003.5 1795.3 1005.0 1795.4 1006.5 1795.5 1007.9 1795.6 1009.4 1795.7 1010.9 1795.8 1012.3 1795.9 1013.7 1796.0 1015.2 1796.1 1016.6 1796.2 1018.0 1796.3 1019.4 1796.4 1020.8 1796.5 1022.1 1796.6 1023.5 1796.7 1025.1 1796.9 1026.7 1797.0 1028.3 1797.1 1029.9 1797.2 1031.5 1797.3 1033.1 1797.5 1034.6 1797.6 1036.2 1797.7 1037.8 1797.8 1039.3 1797.9 1040.9 1798.0 1042.4 1798.2 1043.9 1798.3 1045.5 1798.4 1047.0 1798.5 1048.5 1798.6 1050.0 1798.7 1051.5 1798.8 1053.0 1799.0 1054.5 1799.1 1056.0 1799.2 1057.5 1799.3 1059.0 1799.4 1060.5 1799.5 1062.0 1799.7 1063.4 1799.8 1064.9 1799.9 1066.4 1800.0 1067.8 1800.1 1069.3 1800.2 1070.7 1800.4 1072.1 1800.5 1073.6 1800.6 1075.0 1800.7 1076.4 1800.8 1077.9 1800.9 1079.3 1801.1 1080.7 1801.2 1082.1 1801.3 1083.5 1801.4 1084.9 1801.5 1086.3 1801.7 1087.7 1801.8 1089.1 1801.9 1090.4 1802.0 1091.8 1802.2 1093.2 1802.3 1094.6 1802.4 1095.9 1802.5 1097.3 1802.7 1098.6 1802.8 1100.0 1803.0 1101.6 1803.1 1103.1 1803.3 1104.7 1803.4 1106.2 1803.6 1107.7 1803.7 1109.2 1803.9 1110.7 1804.1 1112.2 1804.2 1113.7 1804.4 1115.2 1804.5 1116.7 1804.7 1118.1 1804.9 1119.6 1805.0 1121.0 1805.2 1122.5 1805.3 1123.9 1805.5 1125.4 1805.7 1126.8 1805.8 1128.2 1806.0 1129.6 1806.2 1131.1 1806.3 1132.5 1806.5 1133.9 1806.7 1135.3 1806.8 1136.7 1807.0 1138.1 1807.2 1139.6 1807.3 1141.0 1807.5 1142.4 1807.7 1143.8 1807.8 1145.2 1808.0 1146.7 1808.2 1148.1 1808.3 1149.5 1808.5 1151.0 1808.7 1152.4 1808.8 1153.8 1809.0 1155.3 1809.2 1156.8 1809.3 1158.2 1809.5 1159.7 1809.6 1161.1 1809.8 1162.6 1810.0 1164.0 1810.1 1165.5 1810.3 1166.9 1810.4 1168.4 1810.6 1169.8 1810.7 1171.3 1810.9 1172.7 1811.1 1174.2 1811.2 1175.6 1811.4 1177.1 1811.5 1178.5 1811.7 1180.0 1811.8 1181.5 1812.0 1182.9 1812.2 1184.4 1812.3 1185.8 1812.5 1187.3 1812.6 1188.7 1812.8 1190.2 1813.0 1191.6 1813.1 1193.1 1813.3 1194.5 1813.5 1196.0 1813.6 1197.5 1813.8 1198.9 1814.0 1200.4 1814.2 1201.8 1814.4 1203.3 1814.5 1204.7 1814.7 1206.2 1814.9 1207.7 1815.1 1209.1 1815.3 1210.6 1815.5 1212.1 1815.7 1213.5 1815.9 1215.0 1816.1 1216.5 1816.3 1218.0 1816.5 1219.5 1816.8 1221.1 1817.0 1222.6 1817.2 1224.1 1817.4 1225.7 1817.7 1227.2 1817.9 1228.8 1818.2 1230.3 1818.4 1231.9 1818.6 1233.4 1818.9 1234.9 1819.1 1236.5 1819.3 1238.0 1819.6 1239.6 1819.8 1241.1 1820.1 1242.6 1820.3 1244.1 1820.6 1245.6 1820.8 1247.1 1821.0 1248.6 1821.3 1250.1 1821.5 1251.5 1821.7 1253.0 1822.0 1254.4 1822.2 1255.8 1822.4 1257.2 1822.6 1258.6 1822.9 1259.9 1823.1 1261.3 1823.3 1262.6 1823.5 1263.9 1823.7 1265.1 1823.9 1266.4 1824.1 1267.6 1824.4 1269.3 1824.6 1270.9 1824.9 1272.5 1825.1 1274.1 1825.4 1275.6 1825.6 1277.1 1825.8 1278.5 1826.0 1280.0 1826.3 1281.4 1826.5 1282.8 1826.7 1284.2 1826.9 1285.5 1827.2 1286.9 1827.4 1288.3 1827.6 1289.7 1827.9 1291.0 1828.1 1292.4 1828.4 1293.9 1828.7 1295.3 1829.0 1296.8 1829.3 1298.2 1829.6 1299.7 1829.9 1301.2 1830.2 1302.7 1830.5 1304.2 1830.9 1305.7 1831.2 1307.2 1831.5 1308.7 1831.9 1310.2 1832.2 1311.7 1832.5 1313.2 1832.9 1314.6 1833.3 1316.1 1833.6 1317.5 1834.0 1318.9 1834.4 1320.2 1834.8 1321.6 1835.2 1322.9 1835.7 1324.4 1836.1 1325.8 1836.6 1327.1 1837.1 1328.5 1837.6 1329.8 1838.2 1331.1 1838.7 1332.4 1839.2 1333.7 1839.8 1335.0 1840.3 1336.3 1840.8 1337.5 1841.4 1338.8 1841.9 1340.1 1842.5 1341.4 1843.1 1342.7 1843.6 1344.1 1844.1 1345.5 1844.7 1346.8 1845.2 1348.2 1845.8 1349.6 1846.3 1350.9 1846.9 1352.3 1847.5 1353.6 1848.1 1354.9 1848.7 1356.2 1849.4 1357.5 1850.1 1358.7 1850.8 1359.8 1851.7 1361.1 1852.6 1362.3 1853.5 1363.5 1854.4 1364.6 1855.4 1365.8 1856.4 1366.9 1857.4 1367.9 1858.5 1368.9 1859.6 1369.9 1860.7 1370.9 1861.9 1371.8 1863.1 1372.6 1864.3 1373.5 1865.5 1374.2 1866.8 1375.0 1868.2 1375.7 1869.5 1376.4 1870.9 1377.0 1872.3 1377.7 1873.6 1378.3 1875.0 1378.9 1876.3 1379.5 1877.6 1380.1 1879.0 1380.7 1880.4 1381.3 1881.7 1381.9 1883.1 1382.5 1884.4 1383.0 1885.8 1383.5 1887.2 1384.0 1888.6 1384.6 1890.0 1385.1 1891.4 1385.6 1892.7 1386.1 1894.0 1386.5 1895.4 1387.0 1896.7 1387.5 1898.1 1387.9 1899.4 1388.4 1900.8 1388.8 1902.2 1389.3 1903.6 1389.7 1905.1 1390.2 1906.5 1390.7 1908.0 1391.2 1909.3 1391.6 1910.6 1392.1 1911.9 1392.5 1913.2 1392.9 1914.6 1393.4 1915.9 1393.8 1917.3 1394.2 1918.6 1394.7 1920.0 1395.1 1921.4 1395.6 1922.8 1396.1 1924.2 1396.6 1925.7 1397.1 1927.1 1397.6 1928.5 1398.1 1930.0 1398.7 1931.3 1399.2 1932.5 1399.7 1933.8 1400.2 1935.1 1400.7 1936.4 1401.2 1937.7 1401.8 1939.0 1402.3 1940.3 1402.8 1941.6 1403.4 1942.9 1404.0 1944.2 1404.5 1945.6 1405.1 1946.9 1405.7 1948.3 1406.3 1949.7 1407.0 1951.1 1407.6 1952.5 1408.2 1953.9 1408.9 1955.3 1409.6 1956.8 1410.3 1958.2 1411.0 1959.7 1411.7 1960.9 1412.3 1962.0 1412.9 1963.2 1413.5 1964.4 1414.1 1965.7 1414.7 1966.9 1415.4 1968.1 1416.0 1969.4 1416.7 1970.7 1417.4 1971.9 1418.1 1973.2 1418.8 1974.5 1419.5 1975.8 1420.2 1977.1 1420.9 1978.4 1421.6 1979.7 1422.4 1981.0 1423.1 1982.4 1423.9 1983.7 1424.6 1985.0 1425.4 1986.3 1426.1 1987.7 1426.9 1989.0 1427.6 1990.3 1428.4 1991.7 1429.1 1993.0 1429.9 1994.3 1430.7 1995.7 1431.4 1997.0 1432.2 1998.3 1432.9 1999.7 1433.7 2001.0 1434.4 2002.3 1435.1 2003.6 1435.9 2004.9 1436.6 2006.2 1437.3 2007.5 1438.0 2008.8 1438.7 2010.1 1439.5 2011.5 1440.2 2012.8 1441.0 2014.1 1441.7 2015.5 1442.5 2016.8 1443.2 2018.2 1444.0 2019.6 1444.8 2020.9 1445.6 2022.3 1446.3 2023.7 1447.1 2025.0 1447.9 2026.4 1448.6 2027.8 1449.4 2029.1 1450.2 2030.5 1450.9 2031.8 1451.7 2033.1 1452.4 2034.5 1453.2 2035.8 1453.9 2037.1 1454.6 2038.4 1455.4 2039.7 1456.1 2041.0 1456.8 2042.2 1457.5 2043.5 1458.1 2044.7 1458.8 2045.9 1459.4 2047.1 1460.1 2048.3 1460.7 2049.5 1461.3 2050.6 1461.9 2051.7 1462.5 2052.8 1463.0 2054.4 1463.8 2055.9 1464.5 2057.3 1465.3 2058.7 1466.0 2060.1 1466.7 2061.5 1467.4 2062.8 1468.1 2064.1 1468.8 2065.4 1469.4 2066.7 1470.0 2068.0 1470.6 2069.3 1471.1 2070.6 1471.6 2071.9 1472.1 2073.3 1472.6 2074.6 1473.0 2076.0 1473.4 2077.4 1473.8 2078.8 1474.1 2080.2 1474.3 2081.5 1474.5 2082.9 1474.7 2084.3 1474.9 2085.6 1475.0 2087.0 1475.1 2088.4 1475.2 2089.9 1475.3 2091.3 1475.4 2092.8 1475.4 2094.4 1475.5 2095.9 1475.6 2097.6 1475.6 2099.3 1475.7 2100.5 1475.8 2101.7 1475.8 2103.0 1475.8 2104.2 1475.9 2105.4 1475.9 2106.7 1475.9 2108.0 1476.0 2109.2 1476.0 2110.5 1476.0 2111.9 1476.0 2113.2 1476.0 2114.5 1476.0 2115.9 1476.0 2117.3 1476.0 2118.7 1476.0 2120.1 1476.0 2121.6 1476.0 2123.0 1475.9 2124.5 1475.9 2126.0 1475.9 2127.5 1475.9 2129.1 1475.9 2130.7 1475.8 2132.3 1475.8 2133.9 1475.8 2135.6 1475.8 2137.3 1475.8 2139.0 1475.8 2140.8 1475.7 2142.5 1475.7 2144.4 1475.7 2146.2 1475.7 2148.1 1475.7 2150.0 1475.7 2151.1 1475.7 2152.1 1475.7 2153.2 1475.7 2154.3 1475.7 2155.5 1475.7 2156.6 1475.7 2157.7 1475.7 2158.9 1475.7 2160.1 1475.7 2161.3 1475.7 2162.5 1475.7 2163.7 1475.7 2164.9 1475.7 2166.2 1475.7 2167.4 1475.7 2168.7 1475.7 2170.0 1475.7 2171.2 1475.7 2172.6 1475.7 2173.9 1475.7 2175.2 1475.7 2176.5 1475.7 2177.9 1475.7 2179.2 1475.7 2180.6 1475.7 2182.0 1475.7 2183.4 1475.7 2184.8 1475.7 2186.2 1475.7 2187.6 1475.7 2189.0 1475.7 2190.5 1475.7 2191.9 1475.7 2193.4 1475.7 2194.8 1475.7 2196.3 1475.7 2197.8 1475.7 2199.3 1475.7 2200.8 1475.7 2202.3 1475.7 2203.8 1475.7 2205.3 1475.7 2206.8 1475.7 2208.4 1475.7 2209.9 1475.7 2211.5 1475.7 2213.0 1475.7 2214.6 1475.7 2216.1 1475.7 2217.7 1475.7 2219.3 1475.7 2220.9 1475.7 2222.4 1475.7 2224.0 1475.7 2225.6 1475.7 2227.2 1475.7 2228.8 1475.7 2230.4 1475.7 2232.0 1475.7 2233.7 1475.7 2235.3 1475.7 2236.9 1475.7 2238.5 1475.7 2240.1 1475.7 2241.8 1475.7 2243.4 1475.7 2245.0 1475.7 2246.7 1475.7 2248.3 1475.7 2249.9 1475.7 2251.6 1475.7 2253.2 1475.7 2254.9 1475.7 2256.5 1475.7 2258.2 1475.7 2259.8 1475.7 2261.4 1475.7 2263.1 1475.7 2264.7 1475.7 2266.4 1475.7 2268.0 1475.7 2269.7 1475.7 2271.3 1475.7 2272.9 1475.7 2274.6 1475.7 2276.2 1475.7 2277.8 1475.7 2279.5 1475.7 2281.1 1475.7 2282.7 1475.7 2284.3 1475.7 2286.0 1475.7 2287.6 1475.7 2289.2 1475.7 2290.8 1475.7 2292.4 1475.7 2294.0 1475.7 2295.6 1475.7 2297.2 1475.7 2298.8 1475.7 2300.4 1475.7 2302.0 1475.7 2303.6 1475.7 2305.1 1475.7 2306.7 1475.7 2308.3 1475.7 2309.8 1475.7 2311.4 1475.7 2312.9 1475.7 2314.4 1475.7 2316.0 1475.7 2317.5 1475.7 2319.0 1475.7 2320.5 1475.7 2322.0 1475.7" stroke="#000000" stroke-width="10.5"/><path d="M316.0 1389.0L317.3 1388.3 318.7 1387.7 320.0 1387.1 321.4 1386.4 322.7 1385.8 324.1 1385.1 325.4 1384.5 326.8 1383.9 328.1 1383.3 329.5 1382.6 330.9 1382.0 332.2 1381.4 333.6 1380.8 334.9 1380.2 336.3 1379.5 337.6 1378.9 339.0 1378.3 340.3 1377.6 341.7 1377.0 343.0 1376.4 344.4 1375.7 345.7 1375.1 347.1 1374.4 348.4 1373.8 349.7 1373.1 351.1 1372.4 352.4 1371.8 353.8 1371.1 355.1 1370.4 356.4 1369.7 357.7 1369.0 359.1 1368.2 360.4 1367.5 361.7 1366.8 363.0 1366.0 364.2 1365.3 365.5 1364.5 366.7 1363.8 368.0 1363.0 369.2 1362.3 370.4 1361.5 371.6 1360.7 372.9 1359.9 374.1 1359.1 375.3 1358.3 376.5 1357.5 377.7 1356.7 378.9 1355.9 380.2 1355.1 381.4 1354.3 382.6 1353.4 383.8 1352.6 385.0 1351.7 386.2 1350.9 387.4 1350.1 388.6 1349.2 389.8 1348.3 391.0 1347.5 392.2 1346.6 393.4 1345.8 394.6 1344.9 395.8 1344.1 397.0 1343.2 398.2 1342.3 399.4 1341.5 400.6 1340.6 401.8 1339.7 403.0 1338.9 404.2 1338.0 405.4 1337.2 406.6 1336.3 407.8 1335.5 409.0 1334.6 410.2 1333.7 411.4 1332.9 412.6 1332.0 413.9 1331.1 415.1 1330.3 416.3 1329.4 417.5 1328.5 418.7 1327.6 419.9 1326.8 421.1 1325.9 422.3 1325.0 423.6 1324.1 424.8 1323.2 426.0 1322.3 427.2 1321.4 428.4 1320.6 429.6 1319.7 430.8 1318.8 432.0 1317.9 433.2 1317.0 434.4 1316.1 435.6 1315.2 436.9 1314.3 438.1 1313.4 439.3 1312.5 440.5 1311.6 441.7 1310.7 442.9 1309.9 444.1 1309.0 445.3 1308.1 446.5 1307.2 447.7 1306.3 448.9 1305.4 450.2 1304.5 451.4 1303.6 452.6 1302.8 453.8 1301.9 455.0 1301.0 456.2 1300.1 457.4 1299.2 458.6 1298.4 459.8 1297.5 461.0 1296.6 462.2 1295.7 463.5 1294.8 464.7 1294.0 465.9 1293.1 467.1 1292.2 468.3 1291.3 469.5 1290.4 470.7 1289.5 471.9 1288.7 473.1 1287.8 474.3 1286.9 475.5 1286.0 476.7 1285.1 477.9 1284.3 479.1 1283.4 480.3 1282.5 481.6 1281.6 482.8 1280.8 484.0 1279.9 485.2 1279.0 486.4 1278.1 487.6 1277.3 488.8 1276.4 490.0 1275.6 491.3 1274.7 492.5 1273.9 493.7 1273.0 494.9 1272.2 496.1 1271.3 497.3 1270.5 498.6 1269.7 499.8 1268.8 501.0 1268.0 502.2 1267.2 503.5 1266.3 504.7 1265.5 505.9 1264.7 507.2 1263.8 508.4 1263.0 509.6 1262.2 510.8 1261.3 512.1 1260.5 513.3 1259.7 514.5 1258.8 515.8 1258.0 517.0 1257.2 518.2 1256.3 519.5 1255.5 520.7 1254.7 521.9 1253.9 523.2 1253.1 524.4 1252.3 525.7 1251.5 526.9 1250.7 528.1 1249.9 529.4 1249.1 530.6 1248.3 531.9 1247.6 533.1 1246.8 534.4 1246.0 535.6 1245.3 536.9 1244.6 538.1 1243.8 539.4 1243.1 540.7 1242.4 541.9 1241.7 543.2 1241.0 544.5 1240.3 545.7 1239.7 547.0 1239.0 548.3 1238.3 549.7 1237.7 551.0 1237.0 552.4 1236.3 553.7 1235.7 555.1 1235.0 556.4 1234.4 557.8 1233.7 559.2 1233.1 560.6 1232.5 562.0 1231.8 563.3 1231.2 564.7 1230.6 566.1 1230.0 567.5 1229.4 568.9 1228.9 570.3 1228.3 571.6 1227.7 573.0 1227.2 574.4 1226.7 575.8 1226.1 577.1 1225.6 578.5 1225.1 579.9 1224.6 581.2 1224.1 582.6 1223.7 583.9 1223.2 585.2 1222.8 586.6 1222.4 587.9 1222.0 589.2 1221.6 590.5 1221.2 591.7 1220.8 593.0 1220.5 594.5 1220.1 596.0 1219.7 597.5 1219.4 599.0 1219.0 600.4 1218.7 601.9 1218.4 603.3 1218.1 604.7 1217.8 606.1 1217.6 607.5 1217.3 608.9 1217.1 610.4 1216.9 611.8 1216.8 613.2 1216.6 614.6 1216.5 616.0 1216.3 617.4 1216.2 618.8 1216.1 620.2 1216.1 621.6 1216.0 623.1 1216.0 624.5 1216.0 626.0 1216.0 627.4 1216.0 628.9 1216.1 630.4 1216.2 631.8 1216.3 633.3 1216.4 634.8 1216.5 636.2 1216.7 637.7 1216.9 639.2 1217.0 640.7 1217.3 642.2 1217.5 643.7 1217.7 645.2 1218.0 646.7 1218.3 648.2 1218.6 649.7 1218.9 651.2 1219.2 652.6 1219.5 654.1 1219.8 655.6 1220.2 657.1 1220.5 658.6 1220.9 660.1 1221.2 661.5 1221.6 663.0 1222.0 664.4 1222.4 665.8 1222.7 667.2 1223.1 668.6 1223.5 669.9 1224.0 671.3 1224.4 672.7 1224.8 674.1 1225.3 675.5 1225.7 676.9 1226.2 678.3 1226.7 679.6 1227.2 681.0 1227.7 682.4 1228.2 683.8 1228.7 685.2 1229.2 686.5 1229.7 687.9 1230.3 689.3 1230.8 690.6 1231.4 692.0 1232.0 693.3 1232.5 694.7 1233.1 696.0 1233.7 697.3 1234.3 698.7 1234.9 700.0 1235.5 701.3 1236.1 702.7 1236.7 704.0 1237.4 705.3 1238.0 706.6 1238.6 707.9 1239.3 709.2 1239.9 710.5 1240.5 711.8 1241.2 713.1 1241.9 714.4 1242.6 715.7 1243.2 717.0 1243.9 718.3 1244.6 719.6 1245.4 720.8 1246.1 722.1 1246.8 723.4 1247.6 724.6 1248.3 725.9 1249.1 727.2 1249.9 728.4 1250.7 729.7 1251.5 730.9 1252.4 732.1 1253.2 733.4 1254.1 734.6 1255.0 735.7 1255.8 736.8 1256.7 738.0 1257.6 739.1 1258.5 740.2 1259.4 741.3 1260.3 742.4 1261.2 743.4 1262.2 744.5 1263.1 745.6 1264.1 746.7 1265.1 747.8 1266.1 748.8 1267.1 749.9 1268.2 751.0 1269.2 752.0 1270.2 753.1 1271.3 754.1 1272.3 755.2 1273.4 756.3 1274.4 757.3 1275.5 758.4 1276.5 759.4 1277.6 760.5 1278.7 761.6 1279.7 762.6 1280.8 763.7 1281.8 764.7 1282.9 765.8 1283.9 766.9 1284.9 767.9 1286.0 769.0 1287.0 770.1 1288.0 771.1 1289.0 772.2 1290.0 773.2 1291.0 774.3 1292.0 775.3 1293.0 776.4 1294.0 777.4 1295.0 778.5 1296.1 779.6 1297.1 780.6 1298.1 781.7 1299.1 782.7 1300.1 783.8 1301.1 784.8 1302.1 785.9 1303.2 786.9 1304.2 788.0 1305.2 789.0 1306.2 790.1 1307.2 791.2 1308.3 792.2 1309.3 793.3 1310.3 794.3 1311.4 795.3 1312.4 796.4 1313.4 797.4 1314.5 798.5 1315.5 799.5 1316.5 800.6 1317.6 801.6 1318.6 802.7 1319.7 803.7 1320.7 804.7 1321.7 805.8 1322.8 806.8 1323.8 807.8 1324.9 808.9 1326.0 809.9 1327.1 810.9 1328.2 812.0 1329.3 813.0 1330.4 814.1 1331.5 815.1 1332.7 816.2 1333.8 817.2 1334.9 818.3 1336.0 819.3 1337.2 820.3 1338.3 821.4 1339.4 822.4 1340.5 823.4 1341.6 824.5 1342.7 825.5 1343.8 826.5 1344.9 827.5 1345.9 828.5 1347.0 829.5 1348.0 830.5 1349.0 831.4 1350.0 832.4 1351.0 833.4 1352.0 834.3 1352.9 835.3 1353.9 836.2 1354.8 837.1 1355.6 838.0 1356.5 839.2 1357.6 840.4 1358.8 841.6 1359.9 842.8 1361.0 843.9 1362.0 845.1 1363.1 846.2 1364.1 847.3 1365.1 848.4 1366.1 849.5 1367.0 850.6 1367.9 851.7 1368.8 852.8 1369.7 853.9 1370.5 855.0 1371.3 856.1 1372.1 857.2 1372.8 858.3 1373.5 859.6 1374.3 860.8 1375.0 862.1 1375.7 863.3 1376.3 864.5 1376.9 865.8 1377.5 867.0 1378.0 868.3 1378.5 869.6 1379.0 870.9 1379.4 872.2 1379.8 873.6 1380.2 875.0 1380.5 876.3 1380.8 877.7 1381.0 879.1 1381.1 880.6 1381.3 882.0 1381.3 883.5 1381.4 885.1 1381.4 886.6 1381.4 888.1 1381.4 889.7 1381.4 891.2 1381.4 892.7 1381.3 894.2 1381.3 895.7 1381.3 897.2 1381.2 898.6 1381.2 900.0 1381.2 901.5 1381.2 903.0 1381.2 904.4 1381.1 905.9 1381.0 907.2 1381.0 908.6 1380.9 910.0 1380.8 911.4 1380.8 912.8 1380.7 914.3 1380.7 915.8 1380.7 917.4 1380.7 919.0 1380.8 920.2 1380.9 921.5 1380.9 922.8 1381.0 924.1 1381.1 925.4 1381.2 926.8 1381.3 928.2 1381.5 929.6 1381.6 931.0 1381.7 932.4 1381.9 933.9 1382.0 935.3 1382.2 936.8 1382.4 938.3 1382.6 939.8 1382.8 941.3 1383.0 942.8 1383.2 944.3 1383.4 945.8 1383.7 947.4 1383.9 948.9 1384.2 950.4 1384.4 952.0 1384.7 953.5 1385.0 954.8 1385.3 956.2 1385.5 957.6 1385.8 959.0 1386.1 960.3 1386.4 961.7 1386.8 963.2 1387.1 964.6 1387.5 966.0 1387.8 967.4 1388.2 968.9 1388.6 970.3 1389.0 971.7 1389.3 973.2 1389.7 974.6 1390.1 976.1 1390.5 977.6 1390.9 979.0 1391.3 980.5 1391.8 982.0 1392.2 983.4 1392.6 984.9 1393.0 986.4 1393.4 987.8 1393.8 989.3 1394.2 990.8 1394.6 992.2 1395.0 993.7 1395.3 995.2 1395.7 996.6 1396.1 998.1 1396.5 999.5 1396.8 1000.9 1397.1 1002.4 1397.5 1003.8 1397.8 1005.3 1398.2 1006.8 1398.5 1008.2 1398.9 1009.7 1399.3 1011.2 1399.6 1012.6 1400.0 1014.1 1400.3 1015.6 1400.7 1017.1 1401.0 1018.5 1401.4 1020.0 1401.7 1021.5 1402.1 1022.9 1402.4 1024.4 1402.7 1025.9 1403.1 1027.3 1403.4 1028.8 1403.7 1030.2 1404.0 1031.7 1404.3 1033.1 1404.6 1034.5 1404.9 1035.9 1405.2 1037.3 1405.5 1038.7 1405.8 1040.1 1406.0 1041.5 1406.3 1042.9 1406.5 1044.3 1406.8 1045.6 1407.0 1047.1 1407.2 1048.7 1407.5 1050.2 1407.7 1051.7 1407.9 1053.2 1408.2 1054.7 1408.4 1056.3 1408.6 1057.8 1408.8 1059.2 1408.9 1060.7 1409.1 1062.2 1409.3 1063.7 1409.4 1065.1 1409.6 1066.6 1409.7 1068.0 1409.9 1069.4 1410.0 1070.8 1410.1 1072.2 1410.2 1073.5 1410.3 1074.9 1410.4 1076.2 1410.4 1077.5 1410.5 1078.7 1410.6 1080.0 1410.6 1081.6 1410.6 1083.1 1410.6 1084.5 1410.6 1085.9 1410.6 1087.2 1410.6 1088.5 1410.5 1089.8 1410.4 1091.1 1410.4 1092.5 1410.3 1093.9 1410.1 1095.3 1410.0 1096.8 1409.9 1098.3 1409.7 1100.0 1409.6 1101.2 1409.5 1102.4 1409.4 1103.7 1409.3 1105.0 1409.1 1106.4 1409.0 1107.7 1408.8 1109.1 1408.7 1110.5 1408.5 1112.0 1408.4 1113.5 1408.2 1114.9 1408.0 1116.5 1407.8 1118.0 1407.7 1119.5 1407.5 1121.1 1407.3 1122.6 1407.1 1124.2 1406.9 1125.8 1406.7 1127.4 1406.5 1128.9 1406.2 1130.5 1406.0 1132.1 1405.8 1133.7 1405.6 1135.3 1405.4 1136.8 1405.1 1138.4 1404.9 1139.9 1404.7 1141.5 1404.4 1143.0 1404.2 1144.5 1403.9 1146.0 1403.7 1147.4 1403.5 1148.9 1403.2 1150.3 1403.0 1151.8 1402.7 1153.2 1402.5 1154.6 1402.2 1156.1 1402.0 1157.5 1401.7 1159.0 1401.4 1160.4 1401.2 1161.8 1400.9 1163.3 1400.6 1164.7 1400.4 1166.2 1400.1 1167.6 1399.8 1169.0 1399.5 1170.5 1399.2 1171.9 1398.9 1173.4 1398.6 1174.8 1398.3 1176.2 1398.0 1177.7 1397.7 1179.1 1397.4 1180.5 1397.1 1182.0 1396.8 1183.4 1396.5 1184.8 1396.2 1186.3 1395.8 1187.7 1395.5 1189.1 1395.2 1190.6 1394.8 1192.0 1394.5 1193.4 1394.2 1194.9 1393.8 1196.3 1393.5 1197.8 1393.1 1199.2 1392.7 1200.7 1392.4 1202.1 1392.0 1203.5 1391.6 1205.0 1391.3 1206.4 1390.9 1207.9 1390.5 1209.3 1390.1 1210.7 1389.7 1212.2 1389.4 1213.6 1389.0 1215.1 1388.6 1216.5 1388.2 1217.9 1387.8 1219.4 1387.4 1220.8 1386.9 1222.2 1386.5 1223.7 1386.1 1225.1 1385.7 1226.5 1385.3 1228.0 1384.9 1229.4 1384.4 1230.8 1384.0 1232.3 1383.6 1233.7 1383.1 1235.1 1382.7 1236.6 1382.2 1238.0 1381.8 1239.4 1381.4 1240.8 1380.9 1242.3 1380.4 1243.7 1380.0 1245.2 1379.5 1246.6 1379.0 1248.1 1378.5 1249.6 1378.0 1251.1 1377.5 1252.6 1377.0 1254.0 1376.5 1255.5 1376.0 1257.0 1375.5 1258.5 1375.0 1260.0 1374.5 1261.4 1374.0 1262.9 1373.5 1264.4 1373.0 1265.8 1372.4 1267.2 1371.9 1268.6 1371.4 1270.0 1370.9 1271.4 1370.4 1272.8 1369.9 1274.1 1369.4 1275.5 1368.9 1276.8 1368.5 1278.0 1368.0 1279.3 1367.5 1280.5 1367.0 1281.7 1366.6 1282.9 1366.1 1284.0 1365.7 1285.6 1365.1 1287.1 1364.5 1288.5 1363.9 1290.0 1363.3 1291.4 1362.7 1292.8 1362.2 1294.1 1361.6 1295.4 1361.0 1296.7 1360.5 1297.9 1359.9 1299.1 1359.4 1300.3 1358.9 1301.5 1358.3 1302.7 1357.8 1303.8 1357.3 1304.9 1356.8 1306.3 1356.1 1307.7 1355.5 1309.0 1354.8 1310.3 1354.2 1311.6 1353.6 1312.8 1352.9 1313.9 1352.3 1315.0 1351.8 1316.1 1351.2 1317.4 1350.5 1318.7 1349.9 1319.8 1349.3 1320.9 1348.7 1322.0 1347.9 1322.9 1347.0 1323.7 1345.9 1324.5 1344.8 1325.4 1343.7 1326.2 1342.7 1327.2 1341.9 1328.4 1341.3 1329.8 1340.9 1331.1 1340.6 1332.6 1340.5 1334.0 1340.4 1335.3 1340.4 1336.6 1340.5 1338.0 1340.8 1339.3 1341.1 1340.7 1341.4 1342.1 1341.9 1343.3 1342.4 1344.5 1342.9 1345.7 1343.5 1347.0 1344.2 1348.3 1344.9 1349.5 1345.7 1350.8 1346.4 1352.1 1347.2 1353.3 1347.9 1354.5 1348.6 1355.8 1349.4 1357.0 1350.2 1358.2 1351.0 1359.5 1351.8 1360.7 1352.6 1362.0 1353.3 1363.2 1354.0 1364.5 1354.6 1365.9 1355.2 1367.3 1355.7 1368.7 1356.2 1370.1 1356.7 1371.5 1357.1 1373.0 1357.4 1374.3 1357.6 1375.7 1357.6 1377.1 1357.5 1378.5 1357.2 1379.9 1356.9 1381.3 1356.4 1382.7 1355.9 1384.0 1355.2 1385.3 1354.6 1386.5 1354.0 1387.7 1353.2 1388.9 1352.5 1390.1 1351.7 1391.2 1350.8 1392.3 1349.9 1393.3 1348.9 1394.3 1347.9 1395.2 1346.8 1396.0 1345.7 1396.8 1344.5 1397.5 1343.3 1398.2 1342.0 1398.9 1340.8 1399.5 1339.5 1400.2 1338.2 1400.8 1337.0 1401.4 1335.8 1401.9 1334.5 1402.4 1333.3 1402.9 1332.0 1403.5 1330.7 1404.1 1329.5 1404.7 1328.2 1405.5 1327.0 1406.3 1325.9 1407.2 1324.8 1408.1 1323.8 1409.1 1322.7 1410.2 1321.7 1411.2 1320.7 1412.3 1319.6 1413.4 1318.6 1414.5 1317.5 1415.6 1316.3 1416.6 1315.1 1417.4 1314.1 1418.3 1313.0 1419.1 1311.9 1419.9 1310.8 1420.7 1309.6 1421.6 1308.4 1422.4 1307.3 1423.2 1306.0 1424.1 1304.8 1424.9 1303.6 1425.7 1302.4 1426.6 1301.2 1427.4 1300.0 1428.3 1298.8 1429.1 1297.6 1430.0 1296.5 1430.9 1295.3 1431.8 1294.1 1432.8 1292.9 1433.7 1291.8 1434.6 1290.6 1435.6 1289.4 1436.5 1288.3 1437.5 1287.1 1438.4 1286.0 1439.3 1284.8 1440.3 1283.7 1441.2 1282.5 1442.1 1281.3 1443.1 1280.2 1444.0 1279.0 1444.9 1277.8 1445.8 1276.6 1446.8 1275.4 1447.7 1274.2 1448.6 1273.0 1449.5 1271.8 1450.4 1270.6 1451.3 1269.4 1452.2 1268.2 1453.1 1267.0 1454.0 1265.8 1454.9 1264.7 1455.8 1263.5 1456.6 1262.5 1457.5 1261.4 1458.4 1260.2 1459.3 1259.1 1460.2 1258.0 1461.1 1256.9 1461.9 1255.8 1462.8 1254.8 1463.7 1253.8 1464.6 1252.8 1465.5 1251.8 1466.5 1250.8 1467.5 1249.8 1468.5 1248.9 1469.6 1248.1 1470.8 1247.3 1472.0 1246.5 1473.3 1245.7 1474.5 1245.0 1475.8 1244.2 1477.0 1243.4 1478.2 1242.7 1479.4 1241.8 1480.5 1241.0 1481.5 1240.1 1482.4 1239.1 1483.3 1238.0 1484.1 1236.8 1484.8 1235.6 1485.5 1234.4 1486.1 1233.1 1486.7 1231.8 1487.2 1230.5 1487.8 1229.2 1488.3 1227.9 1488.9 1226.6 1489.5 1225.3 1490.1 1224.1 1490.7 1222.8 1491.3 1221.6 1491.9 1220.3 1492.5 1219.0 1493.1 1217.8 1493.6 1216.5 1494.2 1215.3 1494.8 1214.0 1495.3 1212.8 1495.9 1211.5 1496.4 1210.2 1496.9 1209.0 1497.5 1207.7 1498.0 1206.5 1498.5 1205.2 1499.1 1203.9 1499.6 1202.7 1500.1 1201.4 1500.6 1200.1 1501.1 1198.9 1501.6 1197.6 1502.1 1196.2 1502.6 1194.8 1503.2 1193.5 1503.7 1192.1 1504.2 1190.7 1504.7 1189.3 1505.2 1187.9 1505.7 1186.6 1506.2 1185.2 1506.6 1183.8 1507.1 1182.4 1507.6 1181.1 1508.0 1179.8 1508.5 1178.4 1508.9 1177.1 1509.4 1175.7 1509.8 1174.4 1510.3 1173.0 1510.7 1171.5 1511.2 1170.0 1511.6 1168.7 1512.0 1167.4 1512.4 1166.1 1512.8 1164.7 1513.2 1163.4 1513.6 1162.0 1514.0 1160.5 1514.4 1159.1 1514.8 1157.7 1515.2 1156.2 1515.7 1154.8 1516.1 1153.3 1516.5 1151.9 1516.9 1150.4 1517.2 1149.0 1517.6 1147.6 1518.0 1146.2 1518.3 1144.8 1518.7 1143.4 1519.1 1142.0 1519.4 1140.6 1519.8 1139.2 1520.1 1137.8 1520.5 1136.4 1520.8 1135.0 1521.1 1133.6 1521.5 1132.2 1521.8 1130.8 1522.2 1129.3 1522.5 1127.9 1522.8 1126.5 1523.2 1125.1 1523.5 1123.6 1523.8 1122.2 1524.1 1120.8 1524.5 1119.3 1524.8 1117.9 1525.1 1116.5 1525.4 1115.0 1525.7 1113.6 1526.0 1112.1 1526.4 1110.7 1526.7 1109.3 1527.0 1107.8 1527.3 1106.4 1527.6 1104.9 1527.9 1103.5 1528.2 1102.1 1528.5 1100.6 1528.8 1099.2 1529.1 1097.7 1529.4 1096.3 1529.7 1094.8 1530.0 1093.4 1530.3 1092.0 1530.6 1090.5 1530.9 1089.1 1531.2 1087.6 1531.5 1086.2 1531.8 1084.7 1532.1 1083.3 1532.4 1081.8 1532.7 1080.4 1533.0 1079.0 1533.3 1077.5 1533.6 1076.1 1533.8 1074.6 1534.1 1073.2 1534.4 1071.7 1534.7 1070.3 1535.0 1068.8 1535.3 1067.4 1535.6 1066.0 1535.9 1064.5 1536.2 1063.1 1536.5 1061.6 1536.8 1060.2 1537.1 1058.7 1537.4 1057.3 1537.7 1055.9 1538.0 1054.4 1538.4 1053.0 1538.7 1051.5 1539.0 1050.1 1539.3 1048.7 1539.6 1047.2 1539.9 1045.8 1540.2 1044.4 1540.5 1042.9 1540.9 1041.5 1541.2 1040.0 1541.5 1038.6 1541.8 1037.2 1542.1 1035.7 1542.4 1034.3 1542.8 1032.9 1543.1 1031.4 1543.4 1030.0 1543.8 1028.5 1544.1 1027.1 1544.4 1025.6 1544.7 1024.2 1545.1 1022.7 1545.4 1021.3 1545.7 1019.9 1546.1 1018.4 1546.4 1017.0 1546.7 1015.5 1547.1 1014.1 1547.4 1012.6 1547.8 1011.2 1548.1 1009.8 1548.4 1008.3 1548.8 1006.9 1549.1 1005.4 1549.5 1004.0 1549.8 1002.6 1550.1 1001.1 1550.5 999.7 1550.8 998.3 1551.2 996.8 1551.5 995.4 1551.9 993.9 1552.2 992.5 1552.6 991.1 1552.9 989.6 1553.3 988.2 1553.6 986.8 1554.0 985.3 1554.3 983.9 1554.7 982.4 1555.0 981.0 1555.4 979.6 1555.7 978.1 1556.1 976.7 1556.4 975.3 1556.8 973.8 1557.1 972.4 1557.5 970.9 1557.8 969.5 1558.2 968.1 1558.5 966.6 1558.9 965.2 1559.2 963.8 1559.6 962.4 1559.9 961.0 1560.3 959.6 1560.6 958.3 1560.9 956.9 1561.3 955.6 1561.6 954.2 1562.0 952.8 1562.3 951.4 1562.7 950.0 1563.0 948.5 1563.4 947.0 1563.8 945.5 1564.2 943.9 1564.6 942.2 1564.9 941.0 1565.2 939.7 1565.5 938.4 1565.9 937.0 1566.2 935.6 1566.6 934.2 1566.9 932.7 1567.3 931.2 1567.7 929.7 1568.1 928.1 1568.5 926.6 1568.9 925.0 1569.3 923.4 1569.6 921.8 1570.0 920.2 1570.4 918.6 1570.8 917.0 1571.2 915.4 1571.6 913.8 1572.0 912.3 1572.4 910.7 1572.8 909.2 1573.1 907.7 1573.5 906.2 1573.9 904.8 1574.2 903.4 1574.5 902.1 1574.9 900.7 1575.2 899.5 1575.5 898.3 1575.7 897.1 1576.0 896.0 1576.4 894.2 1576.8 892.6 1577.2 891.0 1577.6 889.6 1577.9 888.2 1578.3 886.8 1578.6 885.5 1578.9 884.2 1579.2 882.8 1579.5 881.4 1579.9 880.0 1580.2 878.7 1580.5 877.3 1580.8 876.0 1581.2 874.7 1581.5 873.3 1581.8 872.0 1582.1 870.6 1582.4 869.3 1582.8 867.9 1583.1 866.5 1583.4 865.1 1583.8 863.7 1584.1 862.4 1584.4 861.1 1584.7 859.7 1585.0 858.3 1585.3 857.0 1585.6 855.6 1586.0 854.2 1586.3 852.8 1586.6 851.3 1586.9 849.9 1587.3 848.5 1587.6 847.1 1587.9 845.7 1588.2 844.3 1588.5 842.9 1588.8 841.5 1589.1 840.1 1589.5 838.8 1589.8 837.4 1590.1 836.0 1590.4 834.6 1590.7 833.2 1591.0 831.9 1591.3 830.5 1591.6 829.1 1591.9 827.7 1592.2 826.3 1592.5 825.0 1592.8 823.6 1593.1 822.2 1593.4 820.8 1593.7 819.4 1593.9 818.1 1594.2 816.7 1594.5 815.3 1594.8 813.9 1595.1 812.5 1595.4 811.2 1595.7 809.8 1596.0 808.4 1596.2 807.0 1596.5 805.6 1596.8 804.3 1597.1 802.9 1597.4 801.5 1597.6 800.1 1597.9 798.7 1598.2 797.3 1598.5 796.0 1598.7 794.6 1599.0 793.2 1599.3 791.8 1599.6 790.4 1599.8 789.0 1600.1 787.6 1600.4 786.2 1600.6 784.9 1600.9 783.5 1601.2 782.1 1601.5 780.7 1601.7 779.3 1602.0 778.0 1602.2 776.6 1602.5 775.2 1602.7 773.9 1603.0 772.5 1603.3 771.2 1603.5 769.8 1603.8 768.5 1604.0 767.1 1604.3 765.7 1604.5 764.3 1604.8 762.9 1605.1 761.5 1605.3 760.0 1605.6 758.6 1605.8 757.2 1606.1 755.8 1606.3 754.4 1606.6 752.9 1606.9 751.5 1607.1 750.0 1607.4 748.5 1607.7 747.0 1607.9 745.6 1608.2 744.1 1608.5 742.6 1608.7 741.1 1609.0 739.6 1609.2 738.1 1609.5 736.6 1609.8 735.1 1610.0 733.6 1610.3 732.2 1610.5 730.7 1610.8 729.3 1611.0 727.8 1611.3 726.4 1611.5 724.9 1611.8 723.4 1612.0 722.0 1612.3 720.5 1612.5 719.1 1612.8 717.6 1613.0 716.1 1613.3 714.7 1613.5 713.2 1613.8 711.7 1614.0 710.3 1614.3 708.8 1614.5 707.4 1614.8 705.9 1615.0 704.4 1615.2 703.0 1615.5 701.5 1615.7 700.1 1616.0 698.6 1616.2 697.2 1616.5 695.7 1616.7 694.3 1616.9 692.8 1617.2 691.4 1617.4 689.9 1617.7 688.5 1617.9 687.0 1618.1 685.6 1618.4 684.1 1618.6 682.7 1618.9 681.2 1619.1 679.8 1619.3 678.3 1619.6 676.8 1619.8 675.4 1620.1 673.9 1620.3 672.5 1620.5 671.0 1620.8 669.6 1621.0 668.1 1621.2 666.6 1621.5 665.2 1621.7 663.7 1622.0 662.3 1622.2 660.8 1622.4 659.3 1622.7 657.9 1622.9 656.4 1623.2 655.0 1623.4 653.5 1623.6 652.1 1623.9 650.6 1624.1 649.1 1624.3 647.7 1624.6 646.2 1624.8 644.8 1625.1 643.3 1625.3 641.9 1625.5 640.4 1625.8 639.0 1626.0 637.5 1626.2 636.1 1626.5 634.6 1626.7 633.2 1627.0 631.7 1627.2 630.3 1627.4 628.8 1627.7 627.4 1627.9 625.9 1628.2 624.5 1628.4 623.0 1628.6 621.5 1628.9 620.1 1629.1 618.6 1629.4 617.1 1629.6 615.7 1629.9 614.2 1630.1 612.7 1630.4 611.3 1630.6 609.8 1630.8 608.3 1631.1 606.9 1631.3 605.4 1631.6 603.9 1631.8 602.5 1632.1 601.0 1632.3 599.6 1632.6 598.1 1632.8 596.7 1633.0 595.3 1633.3 593.8 1633.5 592.3 1633.8 590.9 1634.0 589.4 1634.3 588.0 1634.5 586.5 1634.8 585.1 1635.0 583.7 1635.3 582.2 1635.5 580.8 1635.8 579.4 1636.0 577.9 1636.3 576.5 1636.5 575.0 1636.8 573.6 1637.1 572.1 1637.3 570.6 1637.6 569.2 1637.8 567.7 1638.1 566.3 1638.3 564.9 1638.6 563.4 1638.9 562.0 1639.1 560.5 1639.4 559.0 1639.7 557.6 1639.9 556.1 1640.2 554.6 1640.5 553.2 1640.7 551.7 1641.0 550.2 1641.3 548.8 1641.5 547.3 1641.8 545.8 1642.1 544.4 1642.4 542.9 1642.6 541.4 1642.9 540.0 1643.2 538.5 1643.5 537.1 1643.7 535.6 1644.0 534.2 1644.3 532.7 1644.6 531.3 1644.8 529.8 1645.1 528.4 1645.4 526.9 1645.7 525.5 1646.0 524.0 1646.3 522.6 1646.5 521.1 1646.8 519.7 1647.1 518.2 1647.4 516.8 1647.7 515.3 1648.0 513.8 1648.3 512.4 1648.6 510.9 1648.9 509.5 1649.2 508.0 1649.5 506.6 1649.8 505.1 1650.1 503.6 1650.4 502.2 1650.7 500.7 1651.0 499.3 1651.3 497.8 1651.6 496.3 1651.9 494.9 1652.2 493.4 1652.5 492.0 1652.8 490.5 1653.1 489.1 1653.4 487.6 1653.8 486.1 1654.1 484.7 1654.4 483.2 1654.7 481.6 1655.1 480.1 1655.4 478.6 1655.8 477.1 1656.1 475.6 1656.4 474.1 1656.8 472.6 1657.1 471.1 1657.4 469.6 1657.8 468.1 1658.1 466.7 1658.4 465.3 1658.7 463.9 1659.0 462.6 1659.4 461.3 1659.6 460.0 1660.0 458.4 1660.4 456.9 1660.7 455.4 1661.1 454.0 1661.4 452.6 1661.7 451.3 1662.0 449.9 1662.4 448.6 1662.7 447.2 1663.0 445.8 1663.4 444.4 1663.7 443.0 1664.1 441.6 1664.4 440.2 1664.8 438.8 1665.2 437.3 1665.5 435.9 1665.9 434.5 1666.2 433.0 1666.6 431.6 1667.0 430.2 1667.3 428.8 1667.7 427.5 1668.0 426.1 1668.4 424.6 1668.8 423.3 1669.1 421.9 1669.5 420.5 1669.8 419.2 1670.2 417.8 1670.6 416.4 1670.9 415.1 1671.3 413.7 1671.7 412.3 1672.1 410.9 1672.5 409.5 1672.8 408.1 1673.2 406.7 1673.6 405.4 1674.0 404.0 1674.4 402.6 1674.8 401.2 1675.2 399.8 1675.6 398.4 1676.0 397.0 1676.4 395.7 1676.8 394.3 1677.2 392.9 1677.6 391.5 1678.0 390.1 1678.4 388.8 1678.8 387.4 1679.2 386.0 1679.6 384.6 1680.0 383.2 1680.4 381.9 1680.8 380.5 1681.3 379.1 1681.7 377.7 1682.1 376.3 1682.5 375.0 1683.0 373.6 1683.4 372.2 1683.8 370.8 1684.2 369.4 1684.6 368.0 1685.0 366.7 1685.5 365.3 1685.9 363.9 1686.3 362.5 1686.8 361.1 1687.3 359.8 1687.8 358.4 1688.3 357.1 1688.8 355.8 1689.4 354.5 1689.9 353.2 1690.5 351.9 1691.1 350.6 1691.7 349.3 1692.3 348.1 1693.0 346.9 1693.6 345.7 1694.2 344.6 1695.0 343.2 1695.7 341.9 1696.5 340.6 1697.3 339.3 1698.1 338.2 1699.0 337.0 1700.0 336.0 1701.0 335.1 1702.2 334.1 1703.4 333.1 1704.6 332.2 1705.9 331.5 1707.1 330.9 1708.3 330.5 1709.4 330.5 1710.5 330.8 1711.5 331.5 1712.5 332.4 1713.4 333.5 1714.3 334.7 1715.2 335.9 1716.0 337.0 1716.9 338.2 1717.8 339.3 1718.6 340.5 1719.4 341.8 1720.1 343.2 1720.8 344.6 1721.3 345.8 1721.8 347.1 1722.2 348.4 1722.7 349.8 1723.1 351.2 1723.5 352.6 1723.9 354.1 1724.3 355.6 1724.6 357.0 1725.0 358.4 1725.4 359.8 1725.7 361.2 1726.0 362.5 1726.3 363.9 1726.6 365.3 1726.9 366.7 1727.2 368.1 1727.5 369.4 1727.8 370.8 1728.1 372.2 1728.4 373.6 1728.7 375.0 1729.0 376.3 1729.3 377.7 1729.5 379.1 1729.8 380.5 1730.1 381.9 1730.4 383.2 1730.6 384.6 1730.9 386.0 1731.2 387.4 1731.4 388.8 1731.7 390.1 1731.9 391.5 1732.1 392.9 1732.4 394.3 1732.6 395.7 1732.9 397.0 1733.1 398.4 1733.3 399.8 1733.5 401.2 1733.7 402.6 1733.9 404.0 1734.1 405.4 1734.3 406.7 1734.5 408.1 1734.7 409.5 1734.9 410.9 1735.1 412.3 1735.3 413.7 1735.5 415.0 1735.7 416.3 1735.9 417.6 1736.0 418.8 1736.2 420.0 1736.4 421.3 1736.6 422.7 1736.8 424.2 1737.0 425.8 1737.2 427.5 1737.3 428.5 1737.5 429.6 1737.6 430.6 1737.7 431.8 1737.9 432.9 1738.0 434.1 1738.2 435.4 1738.3 436.6 1738.5 437.9 1738.7 439.3 1738.8 440.6 1739.0 442.0 1739.2 443.4 1739.4 444.9 1739.5 446.3 1739.7 447.8 1739.9 449.3 1740.1 450.8 1740.3 452.4 1740.4 453.9 1740.6 455.5 1740.8 457.1 1741.0 458.7 1741.2 460.3 1741.3 461.9 1741.5 463.6 1741.7 465.2 1741.9 466.8 1742.1 468.5 1742.2 470.1 1742.4 471.8 1742.6 473.4 1742.7 475.1 1742.9 476.7 1743.1 478.4 1743.2 480.0 1743.4 481.3 1743.5 482.7 1743.6 484.0 1743.7 485.4 1743.9 486.7 1744.0 488.1 1744.1 489.5 1744.2 490.9 1744.4 492.4 1744.5 493.8 1744.6 495.2 1744.7 496.7 1744.8 498.2 1745.0 499.6 1745.1 501.1 1745.2 502.6 1745.3 504.1 1745.5 505.6 1745.6 507.1 1745.7 508.7 1745.8 510.2 1745.9 511.7 1746.0 513.2 1746.2 514.8 1746.3 516.3 1746.4 517.9 1746.5 519.4 1746.6 521.0 1746.8 522.5 1746.9 524.1 1747.0 525.7 1747.1 527.2 1747.2 528.8 1747.3 530.3 1747.4 531.9 1747.6 533.4 1747.7 535.0 1747.8 536.5 1747.9 538.1 1748.0 539.6 1748.1 541.2 1748.2 542.7 1748.3 544.3 1748.4 545.8 1748.6 547.3 1748.7 548.8 1748.8 550.3 1748.9 551.8 1749.0 553.3 1749.1 554.8 1749.2 556.3 1749.3 557.8 1749.4 559.3 1749.5 560.7 1749.6 562.1 1749.7 563.6 1749.8 565.0 1749.9 566.5 1750.0 568.1 1750.2 569.6 1750.3 571.1 1750.4 572.7 1750.5 574.2 1750.6 575.7 1750.7 577.2 1750.8 578.7 1750.9 580.2 1751.0 581.7 1751.1 583.2 1751.2 584.7 1751.3 586.2 1751.4 587.6 1751.5 589.1 1751.6 590.6 1751.7 592.1 1751.8 593.5 1751.9 595.0 1752.0 596.4 1752.1 597.9 1752.2 599.4 1752.3 600.8 1752.4 602.3 1752.5 603.7 1752.6 605.2 1752.7 606.6 1752.8 608.1 1752.9 609.5 1753.0 611.0 1753.1 612.4 1753.2 613.9 1753.3 615.3 1753.4 616.8 1753.5 618.2 1753.6 619.7 1753.7 621.1 1753.8 622.6 1753.8 624.0 1753.9 625.5 1754.0 627.0 1754.1 628.4 1754.2 629.9 1754.3 631.4 1754.4 632.8 1754.5 634.3 1754.6 635.8 1754.7 637.2 1754.8 638.7 1754.9 640.2 1755.0 641.7 1755.1 643.1 1755.2 644.6 1755.3 646.1 1755.4 647.6 1755.5 649.0 1755.5 650.5 1755.6 652.0 1755.7 653.4 1755.8 654.9 1755.9 656.4 1756.0 657.9 1756.1 659.3 1756.2 660.8 1756.3 662.3 1756.4 663.8 1756.5 665.2 1756.6 666.7 1756.6 668.2 1756.7 669.6 1756.8 671.1 1756.9 672.6 1757.0 674.1 1757.1 675.5 1757.2 677.0 1757.3 678.5 1757.4 679.9 1757.5 681.4 1757.5 682.9 1757.6 684.4 1757.7 685.8 1757.8 687.3 1757.9 688.8 1758.0 690.3 1758.1 691.7 1758.2 693.2 1758.3 694.7 1758.3 696.1 1758.4 697.6 1758.5 699.1 1758.6 700.6 1758.7 702.0 1758.8 703.5 1758.9 705.0 1759.0 706.4 1759.0 707.9 1759.1 709.4 1759.2 710.9 1759.3 712.4 1759.4 713.9 1759.5 715.3 1759.6 716.8 1759.7 718.3 1759.7 719.8 1759.8 721.3 1759.9 722.8 1760.0 724.3 1760.1 725.8 1760.2 727.3 1760.3 728.8 1760.4 730.3 1760.4 731.7 1760.5 733.2 1760.6 734.7 1760.7 736.2 1760.8 737.7 1760.9 739.2 1761.0 740.7 1761.0 742.2 1761.1 743.6 1761.2 745.1 1761.3 746.6 1761.4 748.1 1761.5 749.6 1761.6 751.0 1761.6 752.5 1761.7 754.0 1761.8 755.4 1761.9 756.9 1762.0 758.3 1762.1 759.8 1762.1 761.2 1762.2 762.7 1762.3 764.1 1762.4 765.5 1762.5 766.9 1762.6 768.4 1762.6 769.8 1762.7 771.2 1762.8 772.6 1762.9 774.1 1763.0 775.7 1763.1 777.2 1763.1 778.7 1763.2 780.1 1763.3 781.6 1763.4 783.1 1763.5 784.6 1763.6 786.0 1763.6 787.4 1763.7 788.9 1763.8 790.3 1763.9 791.8 1764.0 793.2 1764.0 794.6 1764.1 796.0 1764.2 797.4 1764.3 798.9 1764.4 800.3 1764.5 801.7 1764.5 803.1 1764.6 804.6 1764.7 806.0 1764.8 807.4 1764.9 808.9 1764.9 810.3 1765.0 811.8 1765.1 813.2 1765.2 814.7 1765.3 816.2 1765.4 817.7 1765.4 819.2 1765.5 820.7 1765.6 822.2 1765.7 823.7 1765.8 825.3 1765.9 826.8 1766.0 828.4 1766.1 830.0 1766.1 831.4 1766.2 832.7 1766.3 834.1 1766.4 835.5 1766.5 836.8 1766.5 838.2 1766.6 839.6 1766.7 841.0 1766.8 842.4 1766.9 843.8 1766.9 845.2 1767.0 846.6 1767.1 848.0 1767.2 849.5 1767.3 850.9 1767.3 852.3 1767.4 853.8 1767.5 855.2 1767.6 856.7 1767.7 858.1 1767.8 859.6 1767.8 861.0 1767.9 862.5 1768.0 864.0 1768.1 865.4 1768.2 866.9 1768.3 868.4 1768.4 869.9 1768.4 871.4 1768.5 872.9 1768.6 874.4 1768.7 875.9 1768.8 877.4 1768.9 878.9 1769.0 880.4 1769.1 882.0 1769.1 883.5 1769.2 885.0 1769.3 886.6 1769.4 888.1 1769.5 889.7 1769.6 891.2 1769.7 892.8 1769.8 894.3 1769.9 895.9 1770.0 897.4 1770.1 899.0 1770.2 900.6 1770.2 902.2 1770.3 903.7 1770.4 905.3 1770.5 906.9 1770.6 908.5 1770.7 910.1 1770.8 911.7 1770.9 913.1 1771.0 914.5 1771.1 915.9 1771.2 917.3 1771.3 918.7 1771.3 920.1 1771.4 921.5 1771.5 923.0 1771.6 924.4 1771.7 925.9 1771.8 927.4 1771.9 928.8 1772.0 930.3 1772.1 931.8 1772.2 933.3 1772.3 934.8 1772.3 936.3 1772.4 937.8 1772.5 939.3 1772.6 940.8 1772.7 942.3 1772.8 943.9 1772.9 945.4 1773.0 946.9 1773.1 948.5 1773.2 950.0 1773.3 951.5 1773.4 953.1 1773.5 954.6 1773.6 956.2 1773.7 957.7 1773.8 959.3 1773.9 960.8 1774.0 962.4 1774.1 963.9 1774.2 965.5 1774.3 967.1 1774.4 968.6 1774.5 970.2 1774.6 971.7 1774.7 973.3 1774.8 974.8 1774.9 976.4 1775.0 977.9 1775.1 979.5 1775.2 981.0 1775.3 982.6 1775.4 984.1 1775.5 985.6 1775.6 987.2 1775.7 988.7 1775.8 990.2 1775.9 991.7 1776.0 993.2 1776.1 994.7 1776.2 996.3 1776.3 997.8 1776.4 999.2 1776.5 1000.7 1776.6 1002.2 1776.7 1003.7 1776.8 1005.2 1776.9 1006.6 1777.0 1008.1 1777.1 1009.5 1777.2 1011.0 1777.3 1012.4 1777.4 1013.8 1777.5 1015.2 1777.6 1016.6 1777.6 1018.0 1777.7 1019.4 1777.8 1020.8 1777.9 1022.1 1778.0 1023.5 1778.1 1025.1 1778.2 1026.7 1778.4 1028.3 1778.5 1029.9 1778.6 1031.4 1778.7 1033.0 1778.8 1034.5 1778.9 1036.1 1779.0 1037.6 1779.1 1039.1 1779.2 1040.6 1779.3 1042.1 1779.5 1043.6 1779.6 1045.1 1779.7 1046.6 1779.8 1048.1 1779.9 1049.5 1780.0 1051.0 1780.1 1052.4 1780.2 1053.9 1780.3 1055.4 1780.4 1056.8 1780.5 1058.2 1780.7 1059.7 1780.8 1061.1 1780.9 1062.6 1781.0 1064.0 1781.1 1065.4 1781.2 1066.8 1781.3 1068.3 1781.4 1069.7 1781.5 1071.1 1781.6 1072.5 1781.7 1074.0 1781.8 1075.4 1782.0 1076.8 1782.1 1078.2 1782.2 1079.7 1782.3 1081.1 1782.4 1082.5 1782.5 1084.0 1782.6 1085.4 1782.7 1086.8 1782.8 1088.3 1783.0 1089.7 1783.1 1091.2 1783.2 1092.6 1783.3 1094.1 1783.4 1095.6 1783.5 1097.0 1783.6 1098.5 1783.7 1100.0 1783.9 1101.5 1784.0 1102.9 1784.1 1104.4 1784.2 1105.9 1784.3 1107.4 1784.4 1108.9 1784.5 1110.4 1784.6 1111.9 1784.8 1113.4 1784.9 1114.9 1785.0 1116.4 1785.1 1117.9 1785.2 1119.4 1785.3 1120.9 1785.4 1122.4 1785.6 1123.9 1785.7 1125.4 1785.8 1127.0 1785.9 1128.5 1786.0 1130.0 1786.1 1131.5 1786.3 1133.0 1786.4 1134.5 1786.5 1136.1 1786.6 1137.6 1786.7 1139.1 1786.8 1140.6 1787.0 1142.1 1787.1 1143.6 1787.2 1145.1 1787.3 1146.6 1787.4 1148.1 1787.5 1149.6 1787.7 1151.1 1787.8 1152.6 1787.9 1154.1 1788.0 1155.6 1788.1 1157.1 1788.2 1158.6 1788.4 1160.0 1788.5 1161.5 1788.6 1163.0 1788.7 1164.4 1788.8 1165.9 1788.9 1167.3 1789.1 1168.8 1789.2 1170.2 1789.3 1171.6 1789.4 1173.0 1789.5 1174.4 1789.6 1175.8 1789.8 1177.2 1789.9 1178.6 1790.0 1180.0 1790.1 1181.6 1790.3 1183.1 1790.4 1184.7 1790.5 1186.2 1790.7 1187.8 1790.8 1189.3 1790.9 1190.8 1791.1 1192.3 1791.2 1193.9 1791.3 1195.4 1791.5 1196.9 1791.6 1198.4 1791.7 1199.9 1791.9 1201.3 1792.0 1202.8 1792.1 1204.3 1792.2 1205.8 1792.4 1207.2 1792.5 1208.7 1792.6 1210.2 1792.8 1211.6 1792.9 1213.1 1793.0 1214.5 1793.2 1215.9 1793.3 1217.4 1793.4 1218.8 1793.6 1220.3 1793.7 1221.7 1793.8 1223.1 1794.0 1224.5 1794.1 1225.9 1794.3 1227.4 1794.4 1228.8 1794.5 1230.2 1794.7 1231.6 1794.8 1233.0 1794.9 1234.4 1795.1 1235.8 1795.2 1237.2 1795.4 1238.6 1795.5 1240.0 1795.7 1241.5 1795.8 1243.1 1796.0 1244.6 1796.1 1246.1 1796.3 1247.7 1796.4 1249.2 1796.6 1250.7 1796.8 1252.3 1796.9 1253.8 1797.1 1255.3 1797.2 1256.8 1797.4 1258.3 1797.5 1259.9 1797.7 1261.4 1797.9 1262.9 1798.0 1264.4 1798.2 1265.8 1798.4 1267.3 1798.5 1268.8 1798.7 1270.3 1798.8 1271.7 1799.0 1273.2 1799.2 1274.7 1799.3 1276.1 1799.5 1277.5 1799.7 1279.0 1799.8 1280.4 1800.0 1281.8 1800.2 1283.2 1800.3 1284.6 1800.5 1285.9 1800.7 1287.3 1800.8 1288.7 1801.0 1290.0 1801.2 1291.6 1801.4 1293.2 1801.6 1294.7 1801.8 1296.3 1802.0 1297.8 1802.2 1299.3 1802.4 1300.9 1802.6 1302.4 1802.8 1303.9 1803.0 1305.3 1803.2 1306.8 1803.4 1308.3 1803.6 1309.7 1803.8 1311.2 1804.0 1312.6 1804.2 1314.0 1804.4 1315.4 1804.6 1316.8 1804.8 1318.2 1805.1 1319.6 1805.3 1321.0 1805.5 1322.3 1805.8 1323.7 1806.0 1325.0 1806.3 1326.5 1806.6 1328.0 1806.8 1329.5 1807.1 1330.9 1807.4 1332.4 1807.7 1333.8 1808.1 1335.2 1808.4 1336.6 1808.7 1338.0 1809.0 1339.4 1809.3 1340.7 1809.6 1342.1 1809.9 1343.4 1810.2 1344.8 1810.6 1346.1 1810.9 1347.4 1811.2 1348.7 1811.5 1350.0 1811.8 1351.4 1812.2 1352.8 1812.6 1354.1 1812.9 1355.4 1813.3 1356.7 1813.6 1357.9 1814.0 1359.2 1814.4 1360.4 1814.7 1361.7 1815.1 1363.1 1815.4 1364.4 1815.8 1365.9 1816.1 1367.3 1816.4 1368.9 1816.6 1370.1 1816.8 1371.4 1817.1 1372.6 1817.3 1374.0 1817.5 1375.3 1817.7 1376.7 1817.9 1378.2 1818.1 1379.6 1818.2 1381.1 1818.4 1382.6 1818.6 1384.1 1818.8 1385.7 1819.0 1387.2 1819.1 1388.7 1819.3 1390.3 1819.5 1391.8 1819.7 1393.4 1819.8 1394.9 1820.0 1396.4 1820.2 1397.9 1820.4 1399.4 1820.6 1400.9 1820.8 1402.3 1821.0 1403.8 1821.2 1405.1 1821.4 1406.5 1821.6 1407.8 1821.9 1409.4 1822.1 1410.9 1822.4 1412.4 1822.6 1413.9 1822.9 1415.4 1823.2 1416.8 1823.4 1418.3 1823.7 1419.7 1824.0 1421.1 1824.2 1422.5 1824.5 1423.9 1824.8 1425.3 1825.1 1426.7 1825.4 1428.1 1825.8 1429.5 1826.1 1430.9 1826.4 1432.3 1826.8 1433.7 1827.2 1435.1 1827.5 1436.5 1827.9 1437.8 1828.3 1439.2 1828.7 1440.6 1829.1 1442.0 1829.6 1443.4 1830.0 1444.8 1830.4 1446.2 1830.9 1447.6 1831.3 1449.0 1831.8 1450.3 1832.3 1451.7 1832.7 1453.0 1833.2 1454.4 1833.6 1455.7 1834.1 1457.0 1834.5 1458.3 1835.0 1459.6 1835.5 1461.0 1836.0 1462.5 1836.6 1463.9 1837.1 1465.3 1837.6 1466.8 1838.1 1468.2 1838.7 1469.5 1839.2 1470.9 1839.7 1472.3 1840.3 1473.6 1840.8 1474.9 1841.4 1476.2 1841.9 1477.5 1842.5 1478.8 1843.0 1480.0 1843.6 1481.4 1844.3 1482.7 1844.9 1484.0 1845.6 1485.3 1846.2 1486.6 1846.9 1487.8 1847.5 1489.1 1848.1 1490.3 1848.8 1491.5 1849.4 1492.8 1850.0 1494.0 1850.6 1495.3 1851.2 1496.7 1851.7 1498.1 1852.2 1499.5 1852.7 1500.8 1853.3 1502.2 1853.9 1503.5 1854.5 1504.7 1855.2 1505.9 1856.0 1507.0 1856.9 1508.1 1857.9 1509.1 1858.9 1510.0 1860.0 1510.9 1861.2 1511.8 1862.3 1512.6 1863.5 1513.4 1864.8 1514.2 1866.0 1515.0 1867.2 1515.7 1868.3 1516.5 1869.5 1517.2 1870.8 1517.9 1872.1 1518.6 1873.3 1519.3 1874.7 1519.9 1876.0 1520.5 1877.3 1521.1 1878.7 1521.6 1880.0 1522.0 1881.4 1522.3 1882.8 1522.6 1884.3 1522.7 1885.8 1522.8 1887.3 1522.9 1888.8 1522.9 1890.3 1523.0 1891.8 1523.1 1893.2 1523.2 1894.6 1523.4 1895.9 1523.7 1897.3 1524.1 1898.5 1524.6 1899.8 1525.2 1900.9 1525.8 1902.1 1526.4 1903.3 1527.0 1904.4 1527.6 1905.6 1528.3 1906.9 1528.8 1908.2 1529.4 1909.5 1530.0 1910.8 1530.6 1912.2 1531.2 1913.5 1531.8 1914.9 1532.4 1916.2 1533.0 1917.6 1533.6 1918.9 1534.2 1920.3 1534.8 1921.6 1535.4 1923.0 1535.9 1924.3 1536.5 1925.7 1537.1 1927.0 1537.7 1928.4 1538.2 1929.8 1538.8 1931.1 1539.3 1932.5 1539.9 1933.8 1540.4 1935.2 1541.0 1936.6 1541.5 1937.9 1542.1 1939.3 1542.6 1940.7 1543.1 1942.0 1543.7 1943.4 1544.2 1944.7 1544.7 1946.1 1545.2 1947.5 1545.7 1948.9 1546.2 1950.2 1546.8 1951.6 1547.3 1952.9 1547.8 1954.3 1548.3 1955.6 1548.9 1957.0 1549.5 1958.3 1550.1 1959.7 1550.7 1961.0 1551.4 1962.3 1552.0 1963.6 1552.7 1964.9 1553.3 1966.2 1554.0 1967.5 1554.7 1968.8 1555.4 1970.1 1556.1 1971.4 1556.8 1972.7 1557.5 1974.0 1558.3 1975.3 1559.0 1976.6 1559.8 1977.9 1560.5 1979.1 1561.3 1980.4 1562.0 1981.7 1562.7 1982.9 1563.4 1984.1 1564.2 1985.4 1564.9 1986.6 1565.6 1987.9 1566.4 1989.1 1567.1 1990.3 1567.8 1991.6 1568.6 1992.8 1569.3 1994.0 1570.1 1995.2 1570.8 1996.4 1571.6 1997.7 1572.3 1998.9 1573.0 2000.1 1573.8 2001.3 1574.5 2002.5 1575.3 2003.8 1576.0 2005.0 1576.8 2006.2 1577.5 2007.4 1578.2 2008.7 1579.0 2009.9 1579.7 2011.1 1580.5 2012.3 1581.2 2013.5 1582.0 2014.8 1582.7 2016.0 1583.4 2017.2 1584.2 2018.4 1584.9 2019.7 1585.7 2020.9 1586.4 2022.1 1587.2 2023.3 1587.9 2024.6 1588.6 2025.8 1589.4 2027.1 1590.1 2028.3 1590.8 2029.6 1591.6 2030.9 1592.3 2032.1 1593.0 2033.4 1593.8 2034.6 1594.5 2035.9 1595.2 2037.2 1596.0 2038.5 1596.7 2039.8 1597.5 2041.1 1598.2 2042.4 1599.0 2043.6 1599.7 2045.0 1600.4 2046.3 1601.1 2047.6 1601.8 2048.9 1602.4 2050.2 1603.0 2051.5 1603.7 2052.8 1604.3 2054.2 1604.9 2055.5 1605.5 2056.8 1606.0 2058.2 1606.6 2059.5 1607.1 2060.9 1607.7 2062.3 1608.2 2063.6 1608.7 2065.0 1609.2 2066.4 1609.6 2067.7 1610.1 2069.1 1610.5 2070.5 1610.9 2071.9 1611.4 2073.2 1611.8 2074.6 1612.1 2076.0 1612.5 2077.4 1612.9 2078.7 1613.2 2080.1 1613.5 2081.5 1613.8 2082.9 1614.1 2084.4 1614.4 2085.8 1614.7 2087.3 1614.9 2088.7 1615.2 2090.2 1615.4 2091.6 1615.6 2093.1 1615.8 2094.5 1615.9 2095.9 1616.1 2097.3 1616.2 2098.6 1616.3 2100.0 1616.5 2101.3 1616.5 2102.6 1616.6 2104.0 1616.7 2105.3 1616.7 2106.6 1616.8 2108.0 1616.8 2109.3 1616.9 2110.6 1616.9 2112.0 1616.9 2113.3 1616.9 2114.7 1616.9 2116.0 1616.9 2117.4 1616.9 2118.7 1616.9 2120.1 1616.8 2121.5 1616.8 2122.8 1616.8 2124.2 1616.8 2125.5 1616.8 2126.9 1616.7 2128.2 1616.7 2129.6 1616.7 2130.9 1616.6 2132.3 1616.6 2133.6 1616.6 2135.0 1616.6 2136.3 1616.5 2137.6 1616.5 2139.0 1616.5 2140.3 1616.5 2141.7 1616.5 2143.0 1616.4 2144.4 1616.4 2145.7 1616.4 2147.1 1616.4 2148.4 1616.4 2149.8 1616.4 2151.2 1616.4 2152.5 1616.4 2153.9 1616.4 2155.2 1616.4 2156.6 1616.4 2157.9 1616.4 2159.3 1616.4 2160.6 1616.4 2161.9 1616.4 2163.3 1616.4 2164.6 1616.4 2166.0 1616.4 2167.3 1616.4 2168.7 1616.4 2170.1 1616.4 2171.6 1616.4 2173.1 1616.4 2174.6 1616.4 2176.1 1616.4 2177.5 1616.4 2179.0 1616.4 2180.5 1616.4 2182.0 1616.4 2183.4 1616.4 2184.9 1616.4 2186.3 1616.4 2187.7 1616.4 2189.2 1616.4 2190.6 1616.4 2192.0 1616.4 2193.4 1616.4 2194.8 1616.4 2196.2 1616.4 2197.5 1616.4 2198.9 1616.4 2200.2 1616.4 2201.5 1616.4 2202.8 1616.4 2204.2 1616.4 2205.5 1616.4 2206.8 1616.4 2208.2 1616.4 2209.6 1616.4 2211.0 1616.4 2212.3 1616.4 2213.7 1616.4 2215.1 1616.4 2216.5 1616.4 2217.9 1616.4 2219.3 1616.4 2220.7 1616.4 2222.1 1616.4 2223.5 1616.4 2224.9 1616.4 2226.4 1616.4 2227.8 1616.4 2229.2 1616.4 2230.6 1616.4 2232.0 1616.4 2233.5 1616.4 2234.9 1616.4 2236.4 1616.4 2237.8 1616.4 2239.3 1616.4 2240.7 1616.4 2242.1 1616.4 2243.6 1616.4 2245.0 1616.4 2246.5 1616.4 2247.9 1616.4 2249.4 1616.4 2250.9 1616.4 2252.3 1616.4 2253.8 1616.4 2255.2 1616.4 2256.7 1616.4 2258.2 1616.4 2259.6 1616.4 2261.1 1616.4 2262.5 1616.4 2264.0 1616.4 2265.5 1616.4 2266.9 1616.4 2268.4 1616.4 2269.8 1616.4 2271.3 1616.4 2272.7 1616.4 2274.2 1616.4 2275.7 1616.4 2277.1 1616.4 2278.6 1616.4 2280.0 1616.4 2281.5 1616.4 2282.9 1616.4 2284.3 1616.4 2285.8 1616.4 2287.2 1616.4 2288.7 1616.4 2290.1 1616.4 2291.5 1616.4 2292.9 1616.4 2294.4 1616.4 2295.8 1616.4 2297.2 1616.4 2298.6 1616.4 2300.0 1616.4 2301.4 1616.4 2302.8 1616.4 2304.2 1616.4 2305.6 1616.4 2307.0 1616.4 2308.4 1616.4 2309.8 1616.4 2311.2 1616.4 2312.5 1616.4 2313.9 1616.4 2315.2 1616.4 2316.6 1616.4 2317.9 1616.4 2319.3 1616.4 2320.6 1616.4 2322.0 1616.4" stroke="#0000FF" stroke-width="10.3"/><path d="M316.0 1527.0L317.3 1526.3 318.6 1525.6 319.8 1524.9 321.1 1524.2 322.4 1523.4 323.7 1522.7 325.0 1522.0 326.2 1521.3 327.5 1520.6 328.8 1520.0 330.1 1519.3 331.3 1518.6 332.6 1517.9 333.9 1517.2 335.2 1516.5 336.4 1515.8 337.7 1515.1 339.0 1514.4 340.3 1513.7 341.5 1513.0 342.8 1512.3 344.1 1511.6 345.4 1510.9 346.6 1510.2 347.9 1509.4 349.2 1508.7 350.5 1508.0 351.8 1507.3 353.1 1506.6 354.3 1505.8 355.6 1505.1 356.9 1504.3 358.2 1503.6 359.5 1502.8 360.8 1502.1 362.1 1501.3 363.4 1500.6 364.7 1499.8 366.0 1499.0 367.2 1498.3 368.4 1497.5 369.7 1496.8 370.9 1496.0 372.1 1495.3 373.3 1494.5 374.6 1493.7 375.8 1492.9 377.0 1492.2 378.2 1491.4 379.5 1490.6 380.7 1489.8 381.9 1489.0 383.2 1488.2 384.4 1487.4 385.6 1486.6 386.9 1485.8 388.1 1485.0 389.4 1484.2 390.6 1483.3 391.8 1482.5 393.1 1481.7 394.3 1480.9 395.6 1480.1 396.8 1479.2 398.1 1478.4 399.3 1477.6 400.5 1476.8 401.8 1475.9 403.0 1475.1 404.3 1474.3 405.5 1473.5 406.8 1472.6 408.0 1471.8 409.3 1471.0 410.5 1470.2 411.8 1469.4 413.0 1468.5 414.2 1467.7 415.5 1466.9 416.7 1466.1 418.0 1465.3 419.2 1464.5 420.5 1463.7 421.7 1462.9 422.9 1462.1 424.2 1461.3 425.5 1460.5 426.8 1459.7 428.1 1458.8 429.4 1458.0 430.7 1457.1 432.1 1456.3 433.4 1455.4 434.7 1454.6 436.1 1453.7 437.4 1452.8 438.8 1452.0 440.2 1451.1 441.5 1450.2 442.9 1449.4 444.3 1448.5 445.6 1447.6 447.0 1446.8 448.3 1445.9 449.7 1445.1 451.0 1444.2 452.4 1443.4 453.7 1442.5 455.0 1441.7 456.3 1440.9 457.6 1440.1 458.9 1439.2 460.2 1438.4 461.4 1437.7 462.6 1436.9 463.9 1436.1 465.1 1435.4 466.2 1434.6 467.4 1433.9 468.5 1433.2 469.6 1432.5 470.7 1431.8 471.8 1431.1 472.8 1430.5 473.9 1429.8 474.8 1429.2 475.8 1428.6 476.7 1428.1 477.6 1427.5 479.2 1426.5 480.6 1425.7 481.9 1424.9 483.1 1424.2 484.2 1423.5 485.4 1422.8 486.5 1422.2 487.6 1421.5 488.7 1420.8 489.9 1420.1 491.1 1419.3 492.5 1418.5 494.0 1417.5 494.9 1416.9 495.9 1416.3 496.9 1415.6 498.0 1414.9 499.0 1414.2 500.1 1413.4 501.3 1412.7 502.4 1411.9 503.6 1411.1 504.9 1410.3 506.1 1409.4 507.3 1408.6 508.6 1407.7 509.9 1406.8 511.2 1405.9 512.5 1405.0 513.8 1404.1 515.2 1403.2 516.5 1402.3 517.8 1401.3 519.2 1400.4 520.5 1399.5 521.8 1398.6 523.2 1397.7 524.5 1396.8 525.8 1395.9 527.1 1395.0 528.4 1394.1 529.6 1393.3 530.9 1392.4 532.1 1391.6 533.3 1390.8 534.5 1390.0 535.7 1389.2 536.8 1388.5 537.9 1387.8 539.0 1387.1 540.0 1386.4 541.4 1385.5 542.8 1384.6 544.1 1383.7 545.4 1382.9 546.7 1382.1 547.9 1381.2 549.2 1380.4 550.4 1379.7 551.6 1378.9 552.7 1378.1 553.9 1377.4 555.1 1376.7 556.3 1376.0 557.4 1375.3 558.6 1374.7 559.8 1374.0 561.0 1373.4 562.2 1372.8 563.5 1372.2 564.8 1371.6 566.2 1371.0 567.5 1370.5 568.8 1370.0 570.2 1369.5 571.5 1369.0 572.9 1368.5 574.2 1368.1 575.6 1367.7 577.0 1367.3 578.3 1366.9 579.7 1366.5 581.1 1366.1 582.4 1365.7 583.8 1365.3 585.1 1364.9 586.5 1364.5 587.9 1364.1 589.4 1363.7 590.8 1363.3 592.3 1362.8 593.8 1362.4 595.3 1362.0 596.7 1361.6 598.2 1361.3 599.7 1360.9 601.1 1360.5 602.6 1360.2 604.0 1359.9 605.4 1359.6 606.8 1359.3 608.2 1359.0 609.5 1358.8 611.0 1358.6 612.4 1358.4 613.8 1358.2 615.2 1358.0 616.5 1357.9 617.9 1357.7 619.2 1357.6 620.5 1357.5 621.9 1357.5 623.2 1357.4 624.6 1357.3 626.0 1357.3 627.4 1357.3 628.7 1357.2 630.1 1357.2 631.4 1357.2 632.8 1357.2 634.1 1357.2 635.5 1357.2 636.9 1357.3 638.3 1357.4 639.7 1357.4 641.1 1357.5 642.5 1357.7 644.0 1357.8 645.4 1357.9 646.8 1358.1 648.2 1358.3 649.6 1358.5 651.0 1358.7 652.5 1358.9 653.9 1359.2 655.4 1359.4 656.8 1359.7 658.3 1360.0 659.8 1360.3 661.2 1360.6 662.7 1360.9 664.1 1361.3 665.6 1361.6 667.0 1362.0 668.4 1362.4 669.8 1362.8 671.2 1363.2 672.6 1363.7 674.0 1364.1 675.4 1364.6 676.8 1365.1 678.2 1365.6 679.6 1366.2 680.9 1366.7 682.3 1367.2 683.6 1367.7 685.0 1368.3 686.3 1368.8 687.5 1369.3 688.8 1369.8 690.0 1370.3 691.5 1370.9 692.9 1371.5 694.3 1372.1 695.6 1372.7 696.9 1373.3 698.2 1373.9 699.5 1374.5 700.8 1375.1 702.1 1375.8 703.4 1376.4 704.7 1377.0 706.0 1377.6 707.2 1378.2 708.5 1378.8 709.8 1379.4 711.1 1380.0 712.4 1380.6 713.7 1381.2 714.9 1381.8 716.2 1382.4 717.4 1383.0 718.6 1383.6 719.8 1384.2 721.1 1385.0 722.4 1385.7 723.7 1386.4 724.9 1387.1 726.2 1387.9 727.4 1388.6 728.6 1389.4 729.8 1390.2 731.0 1391.0 732.2 1391.9 733.4 1392.8 734.5 1393.7 735.6 1394.6 736.8 1395.6 737.9 1396.6 739.0 1397.6 740.1 1398.5 741.2 1399.5 742.3 1400.5 743.4 1401.4 744.4 1402.4 745.5 1403.3 746.6 1404.3 747.6 1405.3 748.7 1406.2 749.8 1407.2 750.8 1408.2 751.9 1409.2 753.0 1410.1 754.1 1411.1 755.1 1412.1 756.2 1413.0 757.3 1414.0 758.4 1415.0 759.4 1415.9 760.5 1416.9 761.6 1417.9 762.6 1418.8 763.7 1419.8 764.8 1420.8 765.9 1421.7 766.9 1422.7 768.0 1423.7 769.1 1424.7 770.1 1425.7 771.1 1426.7 772.1 1427.6 773.2 1428.6 774.1 1429.6 775.1 1430.7 776.1 1431.7 777.1 1432.7 778.1 1433.7 779.1 1434.7 780.1 1435.7 781.1 1436.7 782.1 1437.7 783.1 1438.7 784.1 1439.7 785.1 1440.7 786.1 1441.6 787.1 1442.6 788.1 1443.6 789.1 1444.6 790.0 1445.6 791.0 1446.6 792.0 1447.6 793.0 1448.6 794.0 1449.5 795.0 1450.5 796.0 1451.5 797.0 1452.5 798.0 1453.5 799.0 1454.5 800.0 1455.5 801.0 1456.5 802.0 1457.5 803.0 1458.5 804.0 1459.5 805.0 1460.5 806.0 1461.5 807.0 1462.5 808.0 1463.5 809.0 1464.5 810.0 1465.5 811.0 1466.5 812.0 1467.5 813.0 1468.6 814.0 1469.6 815.0 1470.6 816.0 1471.6 817.0 1472.6 817.9 1473.6 818.9 1474.6 819.9 1475.6 820.9 1476.6 821.9 1477.6 822.9 1478.6 824.0 1479.6 825.1 1480.6 826.2 1481.5 827.3 1482.5 828.4 1483.5 829.6 1484.4 830.7 1485.3 831.9 1486.3 833.1 1487.2 834.2 1488.1 835.4 1489.0 836.5 1489.9 837.7 1490.8 838.8 1491.7 840.0 1492.6 841.1 1493.5 842.3 1494.3 843.5 1495.2 844.7 1496.0 845.8 1496.8 847.0 1497.6 848.2 1498.4 849.4 1499.2 850.6 1500.0 851.8 1500.8 853.0 1501.5 854.2 1502.2 855.4 1502.9 856.6 1503.6 857.9 1504.2 859.1 1504.8 860.3 1505.3 861.6 1505.9 862.9 1506.4 864.2 1507.1 865.5 1507.7 866.9 1508.5 868.0 1509.2 869.1 1509.9 870.2 1510.7 871.4 1511.6 872.5 1512.5 873.7 1513.4 874.9 1514.4 876.1 1515.3 877.4 1516.3 878.6 1517.2 879.8 1518.1 881.0 1518.9 882.2 1519.7 883.4 1520.3 884.5 1520.9 885.6 1521.4 887.1 1521.9 888.6 1522.3 890.1 1522.6 891.5 1522.8 892.9 1522.9 894.3 1523.0 895.8 1523.0 897.2 1523.1 898.6 1523.3 900.1 1523.4 901.6 1523.6 903.0 1523.7 904.5 1523.8 905.9 1524.0 907.4 1524.1 908.9 1524.2 910.3 1524.3 911.8 1524.3 913.3 1524.4 914.8 1524.4 916.3 1524.5 917.8 1524.5 919.3 1524.5 920.8 1524.5 922.3 1524.5 923.8 1524.5 925.3 1524.6 926.6 1524.6 928.0 1524.6 929.4 1524.7 930.7 1524.7 932.1 1524.7 933.4 1524.8 934.8 1524.9 936.1 1524.9 937.5 1525.1 938.9 1525.2 940.4 1525.3 941.9 1525.5 943.3 1525.7 944.8 1525.9 946.3 1526.1 947.7 1526.3 949.2 1526.6 950.6 1526.8 952.1 1527.1 953.5 1527.4 955.0 1527.6 956.4 1527.9 957.8 1528.2 959.3 1528.6 960.7 1528.9 962.1 1529.2 963.5 1529.5 965.0 1529.8 966.4 1530.2 967.8 1530.5 969.3 1530.8 970.7 1531.2 972.1 1531.5 973.6 1531.9 975.0 1532.2 976.4 1532.5 977.9 1532.9 979.3 1533.2 980.7 1533.6 982.2 1533.9 983.6 1534.3 985.0 1534.6 986.5 1535.0 987.9 1535.3 989.3 1535.7 990.8 1536.0 992.2 1536.4 993.6 1536.8 995.1 1537.2 996.5 1537.5 997.9 1537.9 999.4 1538.3 1000.8 1538.7 1002.2 1539.1 1003.7 1539.4 1005.1 1539.8 1006.5 1540.1 1008.0 1540.5 1009.4 1540.8 1010.9 1541.2 1012.3 1541.5 1013.7 1541.9 1015.2 1542.2 1016.6 1542.5 1018.0 1542.8 1019.4 1543.1 1020.8 1543.4 1022.2 1543.7 1023.6 1544.0 1025.1 1544.3 1026.5 1544.6 1027.9 1544.8 1029.3 1545.1 1030.7 1545.4 1032.1 1545.7 1033.5 1545.9 1034.9 1546.2 1036.3 1546.5 1037.8 1546.7 1039.2 1547.0 1040.6 1547.2 1042.0 1547.4 1043.5 1547.6 1045.0 1547.9 1046.4 1548.1 1047.9 1548.3 1049.4 1548.5 1050.9 1548.6 1052.3 1548.8 1053.8 1549.0 1055.2 1549.2 1056.7 1549.3 1058.1 1549.5 1059.5 1549.6 1061.0 1549.8 1062.4 1549.9 1063.8 1550.0 1065.3 1550.1 1066.7 1550.3 1068.2 1550.4 1069.7 1550.5 1071.2 1550.6 1072.7 1550.7 1074.2 1550.8 1075.6 1550.9 1077.1 1551.0 1078.6 1551.0 1080.1 1551.1 1081.4 1551.1 1082.8 1551.2 1084.2 1551.2 1085.5 1551.2 1086.9 1551.2 1088.2 1551.3 1089.6 1551.2 1090.9 1551.2 1092.3 1551.2 1093.6 1551.2 1094.9 1551.1 1096.2 1551.1 1097.6 1551.0 1098.9 1551.0 1100.2 1550.9 1101.6 1550.8 1102.9 1550.7 1104.2 1550.6 1105.7 1550.4 1107.1 1550.3 1108.6 1550.1 1110.1 1550.0 1111.5 1549.8 1113.0 1549.6 1114.4 1549.4 1115.9 1549.2 1117.3 1549.0 1118.6 1548.8 1120.0 1548.6 1121.3 1548.4 1122.6 1548.1 1123.9 1547.9 1125.2 1547.7 1126.5 1547.4 1127.8 1547.2 1129.2 1547.0 1130.5 1546.7 1131.8 1546.5 1133.1 1546.2 1134.5 1545.9 1135.8 1545.7 1137.1 1545.4 1138.4 1545.1 1139.8 1544.9 1141.1 1544.6 1142.4 1544.3 1143.7 1544.1 1145.0 1543.8 1146.3 1543.5 1147.7 1543.2 1149.0 1543.0 1150.3 1542.7 1151.6 1542.4 1153.0 1542.1 1154.4 1541.8 1155.8 1541.5 1157.3 1541.2 1158.7 1540.9 1160.2 1540.6 1161.6 1540.3 1163.1 1539.9 1164.5 1539.6 1166.0 1539.3 1167.4 1539.0 1168.8 1538.6 1170.3 1538.3 1171.7 1538.0 1173.1 1537.6 1174.6 1537.3 1176.0 1536.9 1177.4 1536.6 1178.8 1536.2 1180.3 1535.8 1181.7 1535.5 1183.1 1535.1 1184.6 1534.8 1186.0 1534.4 1187.4 1534.0 1188.9 1533.6 1190.3 1533.3 1191.7 1532.9 1193.1 1532.5 1194.6 1532.1 1196.0 1531.8 1197.4 1531.4 1198.9 1531.0 1200.3 1530.6 1201.7 1530.2 1203.1 1529.8 1204.6 1529.4 1206.0 1529.1 1207.4 1528.7 1208.9 1528.3 1210.3 1527.9 1211.7 1527.5 1213.2 1527.1 1214.6 1526.7 1216.0 1526.3 1217.4 1525.9 1218.9 1525.5 1220.3 1525.1 1221.8 1524.8 1223.2 1524.4 1224.6 1524.0 1226.1 1523.6 1227.5 1523.2 1229.0 1522.8 1230.4 1522.4 1231.8 1522.0 1233.3 1521.6 1234.7 1521.2 1236.1 1520.8 1237.6 1520.4 1239.0 1520.0 1240.5 1519.5 1241.9 1519.1 1243.3 1518.7 1244.8 1518.3 1246.2 1517.8 1247.7 1517.4 1249.1 1517.0 1250.5 1516.5 1252.0 1516.1 1253.4 1515.6 1254.8 1515.2 1256.2 1514.8 1257.5 1514.3 1258.8 1513.9 1260.0 1513.5 1261.3 1513.1 1262.5 1512.7 1263.8 1512.2 1265.1 1511.8 1266.3 1511.4 1267.6 1510.9 1269.0 1510.4 1270.4 1509.9 1271.8 1509.3 1273.2 1508.8 1274.6 1508.2 1276.0 1507.7 1277.4 1507.1 1278.8 1506.5 1280.1 1506.0 1281.4 1505.4 1282.7 1504.9 1283.9 1504.3 1285.2 1503.8 1286.4 1503.2 1287.7 1502.7 1288.9 1502.1 1290.1 1501.6 1291.4 1501.0 1292.6 1500.4 1293.8 1499.9 1295.1 1499.3 1296.3 1498.8 1297.5 1498.2 1298.7 1497.7 1300.0 1497.1 1301.2 1496.5 1302.5 1496.0 1303.8 1495.4 1305.1 1494.8 1306.5 1494.2 1307.8 1493.6 1309.2 1493.0 1310.5 1492.5 1311.9 1491.9 1313.2 1491.3 1314.6 1490.8 1315.9 1490.3 1317.2 1489.8 1318.6 1489.3 1319.9 1488.8 1321.2 1488.3 1322.6 1487.8 1323.9 1487.4 1325.2 1486.9 1326.6 1486.5 1327.9 1486.1 1329.1 1485.7 1330.4 1485.3 1331.7 1484.9 1333.0 1484.5 1334.3 1484.1 1335.6 1483.7 1336.9 1483.4 1338.2 1483.0 1339.6 1482.7 1340.9 1482.3 1342.3 1481.9 1343.7 1481.6 1345.1 1481.3 1346.5 1480.9 1347.9 1480.6 1349.3 1480.3 1350.7 1480.0 1352.2 1479.7 1353.6 1479.5 1355.0 1479.2 1356.5 1479.0 1357.9 1478.7 1359.3 1478.5 1360.8 1478.3 1362.2 1478.1 1363.6 1477.9 1365.0 1477.8 1366.3 1477.6 1367.7 1477.5 1369.0 1477.4 1370.3 1477.3 1371.7 1477.3 1373.0 1477.2 1374.4 1477.1 1375.7 1477.0 1377.0 1477.0 1378.4 1476.9 1379.7 1476.9 1381.1 1476.9 1382.4 1476.9 1383.8 1476.8 1385.1 1476.8 1386.5 1476.8 1387.8 1476.8 1389.2 1476.7 1390.5 1476.7 1391.9 1476.7 1393.2 1476.7 1394.6 1476.7 1395.9 1476.6 1397.3 1476.6 1398.6 1476.6 1400.0 1476.6 1401.4 1476.6 1402.8 1476.6 1404.2 1476.6 1405.6 1476.6 1407.0 1476.6 1408.4 1476.6 1409.9 1476.6 1411.3 1476.6 1412.7 1476.5 1414.1 1476.5 1415.5 1476.5 1416.9 1476.4 1418.3 1476.3 1419.7 1476.3 1421.1 1476.2 1422.5 1476.1 1423.9 1476.0 1425.3 1475.9 1426.8 1475.8 1428.3 1475.7 1429.8 1475.5 1431.2 1475.4 1432.7 1475.2 1434.2 1475.0 1435.7 1474.9 1437.2 1474.7 1438.7 1474.5 1440.1 1474.4 1441.6 1474.2 1443.2 1474.0 1444.7 1473.8 1446.2 1473.6 1447.6 1473.4 1448.9 1473.3 1450.1 1473.1 1451.1 1473.0 1452.2 1472.9 1453.1 1472.9 1454.2 1472.6 1455.0 1472.3 1455.9 1471.9 1457.0 1471.4 1458.1 1470.8 1459.4 1470.1 1460.6 1469.4 1462.0 1468.6 1463.3 1467.7 1464.7 1466.8 1466.1 1465.9 1467.4 1464.9 1468.7 1464.0 1469.9 1463.0 1471.1 1462.0 1472.1 1461.1 1473.1 1460.2 1474.1 1459.2 1475.0 1458.2 1476.0 1457.2 1477.0 1456.1 1477.9 1455.0 1478.9 1453.9 1479.8 1452.8 1480.7 1451.6 1481.6 1450.5 1482.5 1449.3 1483.4 1448.1 1484.3 1446.9 1485.1 1445.7 1485.9 1444.6 1486.7 1443.4 1487.5 1442.2 1488.3 1441.0 1489.0 1439.7 1489.8 1438.5 1490.5 1437.2 1491.2 1436.0 1491.8 1434.7 1492.5 1433.4 1493.1 1432.1 1493.8 1430.8 1494.4 1429.5 1495.0 1428.2 1495.6 1426.9 1496.2 1425.6 1496.7 1424.3 1497.3 1423.0 1497.9 1421.7 1498.5 1420.4 1499.1 1419.0 1499.7 1417.7 1500.3 1416.4 1500.9 1415.0 1501.5 1413.7 1502.1 1412.4 1502.7 1411.1 1503.3 1409.7 1503.8 1408.4 1504.4 1407.0 1504.9 1405.7 1505.4 1404.3 1506.0 1402.9 1506.5 1401.5 1507.0 1400.0 1507.5 1398.7 1507.9 1397.3 1508.3 1396.0 1508.8 1394.6 1509.2 1393.2 1509.6 1391.9 1510.0 1390.5 1510.4 1389.0 1510.8 1387.6 1511.2 1386.2 1511.6 1384.7 1512.0 1383.3 1512.4 1381.8 1512.8 1380.3 1513.2 1378.8 1513.5 1377.3 1513.9 1375.8 1514.2 1374.3 1514.6 1372.8 1514.9 1371.4 1515.2 1370.1 1515.5 1368.7 1515.8 1367.3 1516.1 1365.8 1516.4 1364.4 1516.6 1363.0 1516.9 1361.5 1517.2 1360.1 1517.4 1358.6 1517.7 1357.1 1517.9 1355.7 1518.2 1354.2 1518.5 1352.7 1518.7 1351.2 1519.0 1349.8 1519.2 1348.3 1519.5 1346.8 1519.7 1345.3 1520.0 1343.8 1520.2 1342.4 1520.5 1340.9 1520.7 1339.4 1521.0 1338.0 1521.3 1336.6 1521.5 1335.1 1521.8 1333.7 1522.0 1332.3 1522.3 1330.8 1522.5 1329.4 1522.8 1328.0 1523.0 1326.5 1523.3 1325.1 1523.5 1323.7 1523.7 1322.3 1524.0 1320.8 1524.2 1319.4 1524.5 1318.0 1524.7 1316.5 1525.0 1315.1 1525.3 1313.7 1525.5 1312.3 1525.8 1310.8 1526.1 1309.4 1526.3 1308.0 1526.6 1306.6 1526.9 1305.1 1527.2 1303.7 1527.5 1302.3 1527.8 1300.8 1528.1 1299.4 1528.4 1297.9 1528.8 1296.4 1529.1 1295.0 1529.4 1293.5 1529.8 1292.1 1530.1 1290.6 1530.5 1289.1 1530.8 1287.7 1531.2 1286.2 1531.5 1284.8 1531.9 1283.3 1532.2 1281.9 1532.6 1280.4 1532.9 1279.0 1533.3 1277.5 1533.6 1276.1 1534.0 1274.7 1534.3 1273.3 1534.6 1271.9 1535.0 1270.5 1535.3 1269.1 1535.7 1267.6 1536.0 1266.0 1536.4 1264.5 1536.8 1262.9 1537.2 1261.4 1537.6 1259.8 1537.9 1258.2 1538.3 1256.7 1538.7 1255.2 1539.1 1253.6 1539.5 1252.1 1539.8 1250.6 1540.2 1249.2 1540.5 1247.8 1540.9 1246.4 1541.2 1245.0 1541.5 1243.7 1541.8 1242.4 1542.1 1241.2 1542.4 1240.0 1542.8 1238.4 1543.1 1236.9 1543.4 1235.5 1543.7 1234.2 1544.0 1232.9 1544.3 1231.7 1544.6 1230.3 1544.9 1229.0 1545.2 1227.5 1545.5 1226.2 1545.7 1224.9 1546.0 1223.5 1546.2 1222.1 1546.5 1220.6 1546.8 1219.2 1547.0 1217.7 1547.3 1216.3 1547.6 1214.8 1547.9 1213.3 1548.2 1211.9 1548.5 1210.4 1548.8 1209.0 1549.1 1207.6 1549.5 1206.2 1549.9 1204.7 1550.3 1203.3 1550.7 1201.9 1551.1 1200.5 1551.5 1199.1 1551.9 1197.7 1552.3 1196.3 1552.7 1194.8 1553.1 1193.4 1553.5 1192.0 1553.9 1190.6 1554.3 1189.2 1554.7 1187.8 1555.1 1186.4 1555.5 1184.9 1555.8 1183.5 1556.2 1182.1 1556.6 1180.7 1557.0 1179.3 1557.4 1177.9 1557.8 1176.4 1558.2 1175.0 1558.6 1173.6 1559.0 1172.2 1559.4 1170.8 1559.8 1169.4 1560.2 1167.9 1560.6 1166.5 1561.0 1165.1 1561.5 1163.7 1561.9 1162.2 1562.3 1160.8 1562.7 1159.4 1563.2 1158.0 1563.6 1156.5 1564.0 1155.1 1564.5 1153.7 1564.9 1152.4 1565.4 1151.1 1565.8 1149.7 1566.3 1148.4 1566.7 1147.1 1567.2 1145.8 1567.6 1144.5 1568.1 1143.2 1568.6 1141.9 1569.1 1140.5 1569.5 1139.2 1570.0 1137.9 1570.5 1136.6 1571.0 1135.3 1571.5 1134.0 1572.0 1132.7 1572.5 1131.3 1573.0 1130.0 1573.4 1128.7 1573.9 1127.4 1574.4 1126.1 1575.0 1124.7 1575.5 1123.4 1576.0 1122.1 1576.6 1120.8 1577.1 1119.5 1577.7 1118.2 1578.3 1116.9 1578.9 1115.7 1579.5 1114.4 1580.2 1113.2 1580.8 1111.9 1581.5 1110.7 1582.2 1109.5 1582.8 1108.2 1583.5 1107.0 1584.2 1105.8 1584.9 1104.5 1585.7 1103.3 1586.4 1102.1 1587.1 1100.9 1587.8 1099.6 1588.5 1098.4 1589.2 1097.2 1589.9 1096.0 1590.6 1094.7 1591.4 1093.5 1592.1 1092.3 1592.8 1091.1 1593.6 1089.9 1594.3 1088.7 1595.0 1087.5 1595.8 1086.3 1596.5 1085.1 1597.3 1083.8 1598.0 1082.6 1598.8 1081.3 1599.5 1080.0 1600.2 1078.8 1600.9 1077.5 1601.6 1076.3 1602.3 1075.0 1603.0 1073.7 1603.7 1072.4 1604.4 1071.1 1605.1 1069.8 1605.8 1068.5 1606.5 1067.2 1607.2 1065.9 1607.9 1064.5 1608.6 1063.2 1609.3 1061.9 1610.0 1060.6 1610.7 1059.3 1611.5 1058.0 1612.2 1056.7 1612.9 1055.4 1613.7 1054.1 1614.4 1052.8 1615.2 1051.6 1616.0 1050.3 1616.7 1049.0 1617.5 1047.7 1618.3 1046.5 1619.0 1045.2 1619.8 1043.9 1620.6 1042.6 1621.4 1041.4 1622.1 1040.1 1622.9 1038.8 1623.7 1037.5 1624.5 1036.3 1625.2 1035.0 1626.0 1033.7 1626.8 1032.4 1627.5 1031.1 1628.3 1029.9 1629.1 1028.6 1629.9 1027.3 1630.6 1026.0 1631.4 1024.7 1632.2 1023.4 1632.9 1022.2 1633.7 1020.9 1634.5 1019.6 1635.3 1018.3 1636.0 1017.0 1636.8 1015.7 1637.6 1014.4 1638.4 1013.2 1639.1 1011.9 1639.9 1010.6 1640.7 1009.3 1641.5 1008.0 1642.2 1006.7 1643.0 1005.4 1643.8 1004.1 1644.6 1002.8 1645.4 1001.5 1646.2 1000.2 1647.0 998.9 1647.7 997.6 1648.5 996.3 1649.3 995.0 1650.1 993.8 1650.8 992.5 1651.6 991.3 1652.3 990.0 1653.0 988.8 1653.7 987.6 1654.5 986.3 1655.2 985.0 1655.9 983.6 1656.6 982.3 1657.3 981.0 1658.0 979.7 1658.7 978.4 1659.4 977.2 1660.1 975.9 1660.8 974.7 1661.4 973.6 1662.1 972.4 1662.8 971.3 1663.5 970.3 1664.4 969.0 1665.4 967.7 1666.3 966.4 1667.3 965.2 1668.2 964.1 1669.1 963.1 1670.1 962.0 1671.0 961.1 1672.2 960.1 1673.3 959.2 1674.5 958.4 1675.6 957.6 1676.7 956.5 1677.5 955.6 1678.3 954.6 1679.0 953.5 1679.7 952.4 1680.4 951.2 1681.1 949.9 1681.8 948.6 1682.5 947.3 1683.0 946.2 1683.5 945.0 1684.0 943.7 1684.5 942.4 1684.9 941.1 1685.4 939.7 1685.8 938.3 1686.3 936.9 1686.8 935.5 1687.2 934.1 1687.7 932.7 1688.3 931.4 1688.8 930.0 1689.4 928.7 1690.0 927.5 1690.6 926.2 1691.2 925.0 1691.8 923.8 1692.5 922.5 1693.1 921.3 1693.8 920.1 1694.5 918.8 1695.1 917.5 1695.8 916.1 1696.4 914.7 1697.1 913.2 1697.7 911.7 1698.2 910.5 1698.6 909.3 1699.0 908.0 1699.5 906.7 1699.9 905.4 1700.4 904.1 1700.8 902.7 1701.2 901.3 1701.6 899.8 1702.1 898.4 1702.5 896.9 1702.9 895.5 1703.3 894.0 1703.8 892.5 1704.2 891.0 1704.6 889.4 1705.0 887.9 1705.4 886.4 1705.8 884.9 1706.3 883.4 1706.7 881.9 1707.1 880.4 1707.5 878.9 1707.9 877.4 1708.4 875.9 1708.8 874.5 1709.2 873.1 1709.7 871.6 1710.1 870.2 1710.5 868.7 1711.0 867.2 1711.4 865.7 1711.9 864.3 1712.3 862.8 1712.7 861.3 1713.2 859.8 1713.6 858.3 1714.1 856.9 1714.5 855.4 1714.9 853.9 1715.4 852.5 1715.8 851.0 1716.2 849.6 1716.7 848.1 1717.1 846.7 1717.5 845.3 1717.9 843.9 1718.4 842.5 1718.8 841.2 1719.2 839.8 1719.6 838.5 1720.0 837.2 1720.5 835.7 1720.9 834.1 1721.4 832.6 1721.9 831.1 1722.3 829.6 1722.8 828.1 1723.2 826.6 1723.7 825.1 1724.1 823.7 1724.5 822.3 1725.0 820.9 1725.4 819.5 1725.8 818.1 1726.3 816.8 1726.7 815.6 1727.1 814.3 1727.6 813.1 1728.0 812.0 1728.6 810.5 1729.2 809.0 1729.7 807.6 1730.3 806.3 1730.9 805.0 1731.5 803.8 1732.1 802.6 1732.7 801.4 1733.4 800.2 1734.2 799.0 1735.0 797.9 1735.9 796.9 1736.8 795.8 1737.8 794.8 1738.7 793.6 1739.5 792.4 1740.3 791.0 1740.8 789.9 1741.3 788.8 1741.8 787.6 1742.2 786.3 1742.7 785.0 1743.1 783.6 1743.5 782.2 1743.9 780.8 1744.3 779.3 1744.7 777.9 1745.0 776.4 1745.4 774.9 1745.8 773.5 1746.1 772.1 1746.5 770.7 1746.8 769.3 1747.2 768.0 1747.6 766.4 1747.9 764.7 1748.2 762.9 1748.5 761.1 1748.8 759.3 1749.1 757.5 1749.4 755.7 1749.7 754.1 1750.0 752.7 1750.4 751.5 1750.8 750.5 1751.3 749.8 1751.8 749.5 1752.7 749.5 1753.6 750.1 1754.7 750.9 1755.8 752.1 1756.9 753.5 1757.9 755.0 1758.8 756.5 1759.3 757.5 1759.8 758.5 1760.3 759.7 1760.7 760.9 1761.1 762.2 1761.5 763.6 1761.9 765.0 1762.3 766.5 1762.6 768.0 1763.0 769.6 1763.3 771.2 1763.6 772.8 1763.9 774.4 1764.2 776.0 1764.5 777.6 1764.8 779.3 1765.1 780.9 1765.4 782.4 1765.7 784.0 1766.0 785.4 1766.2 786.7 1766.4 788.1 1766.7 789.6 1766.9 791.0 1767.1 792.4 1767.3 793.9 1767.6 795.3 1767.8 796.8 1768.0 798.2 1768.2 799.7 1768.3 801.2 1768.5 802.7 1768.7 804.1 1768.9 805.6 1769.1 807.1 1769.2 808.6 1769.4 810.0 1769.5 811.5 1769.7 813.0 1769.9 814.4 1770.0 815.9 1770.2 817.3 1770.3 818.7 1770.5 820.2 1770.6 821.7 1770.7 823.2 1770.8 824.6 1771.0 826.0 1771.1 827.4 1771.2 828.9 1771.3 830.3 1771.4 831.7 1771.5 833.1 1771.6 834.5 1771.6 835.9 1771.7 837.4 1771.8 838.8 1771.9 840.3 1772.0 841.9 1772.1 843.4 1772.2 845.0 1772.3 846.6 1772.5 848.3 1772.6 850.0 1772.7 851.2 1772.8 852.5 1772.9 853.7 1773.0 855.0 1773.1 856.3 1773.2 857.6 1773.3 858.9 1773.4 860.2 1773.5 861.5 1773.6 862.9 1773.7 864.2 1773.9 865.6 1774.0 867.0 1774.1 868.4 1774.2 869.8 1774.3 871.2 1774.4 872.6 1774.6 874.0 1774.7 875.5 1774.8 876.9 1774.9 878.4 1775.0 879.9 1775.2 881.4 1775.3 882.9 1775.4 884.4 1775.5 885.9 1775.7 887.5 1775.8 889.0 1775.9 890.6 1776.1 892.1 1776.2 893.7 1776.3 895.3 1776.5 896.9 1776.6 898.5 1776.7 900.1 1776.9 901.7 1777.0 903.4 1777.1 905.0 1777.3 906.7 1777.4 908.3 1777.6 910.0 1777.7 911.7 1777.8 913.0 1777.9 914.3 1778.0 915.6 1778.1 916.9 1778.2 918.2 1778.4 919.6 1778.5 921.0 1778.6 922.3 1778.7 923.7 1778.8 925.1 1778.9 926.5 1779.1 928.0 1779.2 929.4 1779.3 930.8 1779.4 932.3 1779.5 933.8 1779.7 935.2 1779.8 936.7 1779.9 938.2 1780.0 939.7 1780.2 941.2 1780.3 942.7 1780.4 944.2 1780.6 945.8 1780.7 947.3 1780.8 948.8 1781.0 950.4 1781.1 951.9 1781.2 953.5 1781.3 955.1 1781.5 956.6 1781.6 958.2 1781.7 959.8 1781.9 961.3 1782.0 962.9 1782.1 964.5 1782.3 966.1 1782.4 967.6 1782.5 969.2 1782.7 970.8 1782.8 972.4 1782.9 974.0 1783.1 975.6 1783.2 977.1 1783.3 978.7 1783.5 980.3 1783.6 981.9 1783.7 983.4 1783.9 985.0 1784.0 986.6 1784.1 988.1 1784.3 989.7 1784.4 991.2 1784.5 992.8 1784.6 994.3 1784.8 995.9 1784.9 997.4 1785.0 998.9 1785.1 1000.5 1785.3 1002.0 1785.4 1003.5 1785.5 1005.0 1785.6 1006.4 1785.8 1007.9 1785.9 1009.4 1786.0 1010.9 1786.1 1012.3 1786.2 1013.7 1786.3 1015.2 1786.5 1016.6 1786.6 1018.0 1786.7 1019.4 1786.8 1020.8 1786.9 1022.1 1787.0 1023.5 1787.1 1025.1 1787.3 1026.7 1787.4 1028.3 1787.5 1029.9 1787.6 1031.5 1787.7 1033.1 1787.9 1034.6 1788.0 1036.2 1788.1 1037.7 1788.2 1039.3 1788.3 1040.9 1788.5 1042.4 1788.6 1043.9 1788.7 1045.5 1788.8 1047.0 1788.9 1048.5 1789.0 1050.0 1789.2 1051.5 1789.3 1053.0 1789.4 1054.5 1789.5 1056.0 1789.6 1057.5 1789.7 1059.0 1789.8 1060.5 1789.9 1062.0 1790.0 1063.4 1790.1 1064.9 1790.3 1066.3 1790.4 1067.8 1790.5 1069.3 1790.6 1070.7 1790.7 1072.1 1790.8 1073.6 1790.9 1075.0 1791.0 1076.4 1791.1 1077.8 1791.2 1079.3 1791.3 1080.7 1791.4 1082.1 1791.5 1083.5 1791.6 1084.9 1791.7 1086.3 1791.8 1087.7 1791.9 1089.1 1792.0 1090.4 1792.1 1091.8 1792.2 1093.2 1792.3 1094.6 1792.4 1095.9 1792.5 1097.3 1792.6 1098.6 1792.7 1100.0 1792.8 1101.6 1792.9 1103.2 1793.0 1104.8 1793.2 1106.4 1793.3 1107.9 1793.4 1109.5 1793.5 1111.0 1793.6 1112.6 1793.7 1114.1 1793.8 1115.6 1793.9 1117.1 1794.0 1118.6 1794.2 1120.1 1794.3 1121.6 1794.4 1123.1 1794.5 1124.5 1794.6 1126.0 1794.7 1127.5 1794.8 1128.9 1794.9 1130.4 1795.0 1131.9 1795.1 1133.3 1795.2 1134.8 1795.3 1136.2 1795.4 1137.7 1795.5 1139.1 1795.6 1140.6 1795.7 1142.0 1795.8 1143.5 1795.9 1145.0 1796.0 1146.4 1796.1 1147.9 1796.2 1149.4 1796.3 1150.8 1796.4 1152.3 1796.5 1153.8 1796.6 1155.3 1796.7 1156.8 1796.8 1158.3 1796.9 1159.8 1797.0 1161.3 1797.1 1162.8 1797.2 1164.3 1797.3 1165.8 1797.4 1167.3 1797.4 1168.7 1797.5 1170.2 1797.6 1171.7 1797.7 1173.2 1797.8 1174.7 1797.9 1176.2 1798.0 1177.7 1798.1 1179.2 1798.2 1180.7 1798.2 1182.2 1798.3 1183.7 1798.4 1185.2 1798.5 1186.7 1798.6 1188.2 1798.7 1189.7 1798.8 1191.2 1798.9 1192.7 1798.9 1194.2 1799.0 1195.7 1799.1 1197.1 1799.2 1198.6 1799.3 1200.1 1799.4 1201.6 1799.5 1203.1 1799.6 1204.6 1799.7 1206.1 1799.8 1207.6 1799.9 1209.1 1800.0 1210.6 1800.1 1212.1 1800.2 1213.5 1800.3 1214.9 1800.4 1216.4 1800.5 1217.8 1800.6 1219.3 1800.7 1220.7 1800.8 1222.1 1800.9 1223.5 1801.0 1225.0 1801.2 1226.4 1801.3 1227.8 1801.4 1229.2 1801.5 1230.7 1801.6 1232.1 1801.7 1233.5 1801.8 1234.9 1801.9 1236.4 1802.1 1237.8 1802.2 1239.2 1802.3 1240.7 1802.4 1242.1 1802.5 1243.5 1802.6 1245.0 1802.7 1246.5 1802.8 1247.9 1803.0 1249.4 1803.1 1250.8 1803.2 1252.3 1803.3 1253.8 1803.4 1255.3 1803.5 1256.8 1803.6 1258.3 1803.8 1259.8 1803.9 1261.4 1804.0 1262.9 1804.1 1264.4 1804.2 1266.0 1804.3 1267.4 1804.4 1268.8 1804.5 1270.2 1804.6 1271.7 1804.7 1273.1 1804.8 1274.6 1804.9 1276.1 1805.0 1277.6 1805.1 1279.1 1805.2 1280.7 1805.2 1282.2 1805.3 1283.8 1805.4 1285.3 1805.5 1286.9 1805.6 1288.5 1805.7 1290.1 1805.8 1291.7 1805.9 1293.3 1806.0 1294.9 1806.1 1296.5 1806.2 1298.1 1806.3 1299.7 1806.4 1301.3 1806.5 1302.9 1806.6 1304.5 1806.6 1306.1 1806.7 1307.6 1806.8 1309.2 1806.9 1310.8 1807.0 1312.4 1807.1 1313.9 1807.2 1315.4 1807.3 1317.0 1807.4 1318.5 1807.5 1320.0 1807.6 1321.5 1807.7 1322.9 1807.8 1324.4 1807.9 1325.8 1808.0 1327.2 1808.1 1328.6 1808.2 1330.0 1808.3 1331.3 1808.4 1332.6 1808.5 1333.9 1808.6 1335.2 1808.7 1336.5 1808.8 1337.7 1808.9 1338.8 1809.0 1340.0 1809.2 1341.7 1809.3 1343.4 1809.5 1345.0 1809.6 1346.6 1809.8 1348.1 1810.0 1349.5 1810.1 1350.9 1810.3 1352.3 1810.5 1353.7 1810.6 1355.0 1810.8 1356.4 1811.0 1357.7 1811.1 1359.0 1811.3 1360.3 1811.5 1361.7 1811.7 1363.1 1811.8 1364.5 1812.0 1365.9 1812.2 1367.4 1812.4 1368.9 1812.6 1370.2 1812.7 1371.6 1812.9 1373.0 1813.1 1374.4 1813.3 1375.9 1813.4 1377.3 1813.6 1378.8 1813.8 1380.3 1814.0 1381.7 1814.2 1383.2 1814.4 1384.7 1814.6 1386.2 1814.7 1387.7 1814.9 1389.2 1815.1 1390.7 1815.3 1392.2 1815.5 1393.7 1815.7 1395.2 1815.9 1396.7 1816.1 1398.1 1816.3 1399.6 1816.5 1401.0 1816.7 1402.4 1817.0 1403.8 1817.2 1405.2 1817.4 1406.5 1817.6 1407.8 1817.9 1409.4 1818.1 1411.0 1818.4 1412.5 1818.6 1414.1 1818.9 1415.6 1819.2 1417.1 1819.4 1418.6 1819.7 1420.1 1819.9 1421.6 1820.2 1423.1 1820.5 1424.5 1820.8 1425.9 1821.1 1427.3 1821.4 1428.6 1821.7 1429.9 1822.1 1431.2 1822.4 1432.5 1822.8 1433.7 1823.3 1435.2 1823.8 1436.6 1824.3 1438.0 1824.9 1439.3 1825.4 1440.6 1826.0 1441.8 1826.6 1443.0 1827.2 1444.3 1827.8 1445.5 1828.4 1446.7 1829.0 1448.0 1829.6 1449.3 1830.3 1450.6 1831.0 1451.9 1831.7 1453.1 1832.4 1454.4 1833.1 1455.7 1833.8 1456.9 1834.5 1458.2 1835.2 1459.5 1835.9 1460.7 1836.6 1462.0 1837.3 1463.3 1838.0 1464.5 1838.7 1465.8 1839.4 1467.1 1840.0 1468.3 1840.7 1469.6 1841.4 1470.9 1842.1 1472.2 1842.7 1473.4 1843.4 1474.7 1844.0 1476.0 1844.6 1477.3 1845.2 1478.5 1845.7 1479.8 1846.3 1481.0 1846.8 1482.3 1847.4 1483.6 1847.9 1484.9 1848.4 1486.1 1848.9 1487.4 1849.5 1488.7 1850.0 1490.0 1850.5 1491.4 1851.0 1492.8 1851.5 1494.2 1852.0 1495.7 1852.5 1497.1 1853.0 1498.6 1853.5 1500.0 1854.0 1501.3 1854.6 1502.6 1855.3 1503.9 1856.0 1505.0 1856.8 1506.1 1857.7 1507.1 1858.6 1508.1 1859.6 1508.9 1860.6 1509.8 1861.7 1510.6 1862.8 1511.4 1863.9 1512.2 1865.0 1513.0 1866.1 1513.8 1867.2 1514.5 1868.3 1515.3 1869.4 1516.1 1870.6 1516.9 1871.8 1517.6 1873.0 1518.3 1874.3 1518.9 1875.5 1519.5 1876.7 1520.1 1878.0 1520.5 1879.4 1520.8 1880.7 1521.1 1882.2 1521.2 1883.6 1521.2 1885.0 1521.2 1886.5 1521.2 1887.9 1521.2 1889.3 1521.3 1890.7 1521.5 1892.0 1521.8 1893.4 1522.2 1894.8 1522.8 1896.2 1523.4 1897.5 1524.1 1898.8 1524.8 1900.1 1525.5 1901.4 1526.2 1902.8 1526.9 1904.1 1527.6 1905.4 1528.2 1906.8 1528.8 1908.1 1529.4 1909.5 1530.0 1910.8 1530.7 1912.2 1531.3 1913.5 1531.9 1914.8 1532.5 1916.2 1533.0 1917.6 1533.6 1918.9 1534.2 1920.3 1534.8 1921.6 1535.4 1923.0 1535.9 1924.3 1536.5 1925.7 1537.1 1927.1 1537.7 1928.4 1538.2 1929.8 1538.8 1931.1 1539.3 1932.5 1539.9 1933.8 1540.4 1935.2 1541.0 1936.5 1541.5 1937.9 1542.1 1939.3 1542.6 1940.6 1543.2 1942.0 1543.7 1943.3 1544.2 1944.7 1544.7 1946.1 1545.2 1947.5 1545.7 1948.9 1546.2 1950.2 1546.7 1951.6 1547.3 1952.9 1547.8 1954.3 1548.4 1955.6 1548.9 1957.0 1549.5 1958.3 1550.1 1959.7 1550.7 1961.0 1551.4 1962.3 1552.0 1963.6 1552.6 1964.9 1553.3 1966.2 1554.0 1967.6 1554.7 1968.9 1555.4 1970.1 1556.1 1971.4 1556.8 1972.7 1557.6 1974.0 1558.3 1975.3 1559.0 1976.6 1559.8 1977.8 1560.5 1979.1 1561.2 1980.4 1562.0 1981.6 1562.7 1982.9 1563.4 1984.2 1564.2 1985.4 1564.9 1986.7 1565.6 1987.9 1566.4 1989.1 1567.1 1990.4 1567.8 1991.6 1568.6 1992.8 1569.3 1994.0 1570.1 1995.2 1570.8 1996.4 1571.6 1997.7 1572.3 1998.9 1573.0 2000.1 1573.8 2001.3 1574.5 2002.5 1575.3 2003.8 1576.0 2005.0 1576.8 2006.2 1577.5 2007.4 1578.2 2008.7 1579.0 2009.9 1579.7 2011.1 1580.5 2012.3 1581.2 2013.5 1582.0 2014.8 1582.7 2016.0 1583.5 2017.2 1584.2 2018.4 1584.9 2019.7 1585.7 2020.9 1586.4 2022.1 1587.2 2023.4 1587.9 2024.6 1588.6 2025.8 1589.4 2027.1 1590.1 2028.3 1590.8 2029.6 1591.5 2030.8 1592.3 2032.1 1593.0 2033.3 1593.7 2034.6 1594.5 2035.9 1595.3 2037.2 1596.0 2038.5 1596.8 2039.8 1597.5 2041.1 1598.3 2042.4 1599.0 2043.7 1599.7 2045.0 1600.4 2046.3 1601.1 2047.6 1601.7 2048.9 1602.4 2050.2 1603.0 2051.5 1603.7 2052.8 1604.3 2054.2 1604.9 2055.5 1605.5 2056.8 1606.0 2058.2 1606.6 2059.5 1607.1 2060.9 1607.7 2062.2 1608.2 2063.6 1608.7 2065.0 1609.2 2066.4 1609.6 2067.7 1610.1 2069.1 1610.5 2070.5 1610.9 2071.9 1611.4 2073.2 1611.8 2074.6 1612.1 2076.0 1612.5 2077.4 1612.9 2078.8 1613.2 2080.2 1613.5 2081.6 1613.8 2083.0 1614.1 2084.4 1614.4 2085.8 1614.7 2087.2 1614.9 2088.6 1615.1 2090.0 1615.4 2091.4 1615.6 2092.8 1615.7 2094.2 1615.9 2095.6 1616.1 2097.0 1616.2 2098.4 1616.3 2099.8 1616.4 2101.2 1616.5 2102.6 1616.6 2104.0 1616.7 2105.4 1616.8 2106.9 1616.8 2108.4 1616.9 2109.8 1616.9 2111.3 1616.9 2112.8 1616.9 2114.3 1616.9 2115.8 1616.9 2117.2 1616.9 2118.7 1616.9 2120.0 1616.9 2121.4 1616.8 2122.7 1616.8 2124.0 1616.8 2125.3 1616.8 2126.6 1616.7 2128.0 1616.7 2129.3 1616.7 2130.7 1616.6 2132.0 1616.6 2133.4 1616.6 2134.7 1616.6 2136.1 1616.5 2137.5 1616.5 2138.9 1616.5 2140.3 1616.5 2141.7 1616.5 2143.0 1616.4 2144.4 1616.4 2145.7 1616.4 2147.1 1616.4 2148.5 1616.4 2149.8 1616.4 2151.2 1616.4 2152.5 1616.4 2153.9 1616.4 2155.2 1616.4 2156.6 1616.4 2157.9 1616.4 2159.3 1616.4 2160.6 1616.4 2161.9 1616.4 2163.3 1616.4 2164.6 1616.4 2166.0 1616.4 2167.3 1616.4 2168.7 1616.4 2170.1 1616.4 2171.6 1616.4 2173.1 1616.4 2174.6 1616.4 2176.1 1616.4 2177.5 1616.4 2179.0 1616.4 2180.5 1616.4 2182.0 1616.4 2183.4 1616.4 2184.9 1616.4 2186.3 1616.4 2187.7 1616.4 2189.2 1616.4 2190.6 1616.4 2192.0 1616.4 2193.4 1616.4 2194.8 1616.4 2196.2 1616.4 2197.5 1616.4 2198.9 1616.4 2200.2 1616.4 2201.5 1616.4 2202.8 1616.4 2204.2 1616.4 2205.5 1616.4 2206.8 1616.4 2208.2 1616.4 2209.6 1616.4 2211.0 1616.4 2212.3 1616.4 2213.7 1616.4 2215.1 1616.4 2216.5 1616.4 2217.9 1616.4 2219.3 1616.4 2220.7 1616.4 2222.1 1616.4 2223.5 1616.4 2224.9 1616.4 2226.4 1616.4 2227.8 1616.4 2229.2 1616.4 2230.6 1616.4 2232.0 1616.4 2233.5 1616.4 2234.9 1616.4 2236.4 1616.4 2237.8 1616.4 2239.3 1616.4 2240.7 1616.4 2242.1 1616.4 2243.6 1616.4 2245.0 1616.4 2246.5 1616.4 2247.9 1616.4 2249.4 1616.4 2250.9 1616.4 2252.3 1616.4 2253.8 1616.4 2255.2 1616.4 2256.7 1616.4 2258.2 1616.4 2259.6 1616.4 2261.1 1616.4 2262.5 1616.4 2264.0 1616.4 2265.5 1616.4 2266.9 1616.4 2268.4 1616.4 2269.8 1616.4 2271.3 1616.4 2272.7 1616.4 2274.2 1616.4 2275.7 1616.4 2277.1 1616.4 2278.6 1616.4 2280.0 1616.4 2281.5 1616.4 2282.9 1616.4 2284.3 1616.4 2285.8 1616.4 2287.2 1616.4 2288.7 1616.4 2290.1 1616.4 2291.5 1616.4 2292.9 1616.4 2294.4 1616.4 2295.8 1616.4 2297.2 1616.4 2298.6 1616.4 2300.0 1616.4 2301.4 1616.4 2302.8 1616.4 2304.2 1616.4 2305.6 1616.4 2307.0 1616.4 2308.4 1616.4 2309.8 1616.4 2311.2 1616.4 2312.5 1616.4 2313.9 1616.4 2315.2 1616.4 2316.6 1616.4 2317.9 1616.4 2319.3 1616.4 2320.6 1616.4 2322.0 1616.4" stroke="#008080" stroke-width="10"/><path d="M316.0 1515.0L317.4 1515.3 318.8 1515.6 320.2 1515.9 321.6 1516.2 323.0 1516.5 324.4 1516.9 325.8 1517.2 327.1 1517.5 328.5 1517.8 329.9 1518.1 331.3 1518.4 332.7 1518.8 334.1 1519.1 335.5 1519.4 336.9 1519.7 338.3 1520.0 339.7 1520.2 341.2 1520.5 342.6 1520.8 344.1 1521.0 345.5 1521.3 347.0 1521.5 348.4 1521.7 349.7 1521.9 351.1 1522.1 352.5 1522.3 353.9 1522.5 355.3 1522.6 356.7 1522.8 358.1 1523.0 359.5 1523.2 361.0 1523.3 362.4 1523.5 363.8 1523.6 365.3 1523.7 366.7 1523.9 368.1 1524.0 369.6 1524.1 371.1 1524.2 372.5 1524.4 374.0 1524.5 375.5 1524.6 377.0 1524.6 378.5 1524.7 380.0 1524.8 381.5 1524.9 383.0 1524.9 384.5 1525.0 385.9 1525.0 387.3 1525.1 388.7 1525.1 390.1 1525.2 391.5 1525.2 393.0 1525.2 394.4 1525.3 395.9 1525.3 397.4 1525.3 398.8 1525.3 400.3 1525.4 401.8 1525.4 403.3 1525.4 404.8 1525.4 406.3 1525.4 407.8 1525.3 409.3 1525.3 410.8 1525.3 412.3 1525.2 413.7 1525.2 415.2 1525.2 416.7 1525.1 418.2 1525.0 419.6 1524.9 421.1 1524.9 422.6 1524.8 424.0 1524.7 425.4 1524.6 426.8 1524.4 428.2 1524.3 429.6 1524.2 431.0 1524.0 432.5 1523.8 434.0 1523.6 435.6 1523.4 437.1 1523.2 438.6 1523.0 440.1 1522.8 441.6 1522.6 443.0 1522.3 444.5 1522.1 446.0 1521.8 447.5 1521.6 448.9 1521.3 450.4 1521.0 451.8 1520.7 453.3 1520.4 454.7 1520.0 456.1 1519.7 457.5 1519.3 458.9 1519.0 460.3 1518.6 461.6 1518.2 463.0 1517.8 464.3 1517.4 465.7 1516.9 467.0 1516.5 468.3 1516.0 469.7 1515.5 471.0 1514.9 472.4 1514.4 473.7 1513.8 475.0 1513.3 476.2 1512.7 477.5 1512.1 478.7 1511.5 479.9 1510.8 481.2 1510.2 482.4 1509.5 483.6 1508.8 484.8 1508.1 486.0 1507.4 487.2 1506.7 488.4 1505.9 489.7 1505.2 490.9 1504.4 492.2 1503.6 493.4 1502.7 494.7 1501.9 496.0 1501.0 497.1 1500.3 498.2 1499.5 499.3 1498.7 500.4 1497.9 501.6 1497.0 502.7 1496.2 503.9 1495.3 505.0 1494.4 506.2 1493.5 507.4 1492.5 508.5 1491.6 509.7 1490.6 510.9 1489.6 512.1 1488.7 513.3 1487.7 514.5 1486.7 515.6 1485.7 516.8 1484.7 518.0 1483.7 519.1 1482.6 520.3 1481.6 521.5 1480.6 522.6 1479.6 523.8 1478.6 524.9 1477.6 526.0 1476.6 527.1 1475.6 528.2 1474.7 529.3 1473.7 530.4 1472.8 531.4 1471.8 532.5 1470.9 533.5 1470.0 534.7 1469.0 535.8 1467.9 537.0 1466.9 538.1 1465.8 539.2 1464.8 540.2 1463.8 541.3 1462.8 542.4 1461.7 543.4 1460.7 544.4 1459.7 545.5 1458.7 546.5 1457.7 547.5 1456.7 548.5 1455.7 549.6 1454.7 550.6 1453.7 551.6 1452.7 552.6 1451.8 553.7 1450.8 554.7 1449.8 555.8 1448.9 556.8 1447.9 557.9 1446.9 559.0 1446.0 560.1 1445.0 561.3 1444.1 562.5 1443.1 563.7 1442.1 564.9 1441.1 566.1 1440.2 567.4 1439.2 568.6 1438.2 569.8 1437.3 571.1 1436.3 572.3 1435.4 573.6 1434.4 574.8 1433.5 576.0 1432.6 577.2 1431.7 578.4 1430.8 579.5 1429.9 580.7 1429.1 581.8 1428.2 582.9 1427.4 584.0 1426.6 585.0 1425.8 586.0 1425.0 587.3 1424.0 588.6 1423.0 589.8 1422.0 591.0 1421.1 592.2 1420.2 593.3 1419.4 594.4 1418.5 595.5 1417.6 596.6 1416.7 597.7 1415.9 598.9 1414.9 600.0 1414.0 601.1 1413.1 602.2 1412.1 603.2 1411.2 604.3 1410.2 605.4 1409.2 606.4 1408.2 607.5 1407.2 608.6 1406.2 609.7 1405.2 610.7 1404.3 611.8 1403.3 612.9 1402.4 614.0 1401.5 615.1 1400.6 616.3 1399.7 617.4 1398.9 618.5 1398.1 619.6 1397.3 620.7 1396.5 621.9 1395.7 623.1 1394.9 624.2 1394.1 625.5 1393.3 626.7 1392.5 628.0 1391.7 629.2 1391.0 630.4 1390.2 631.6 1389.5 632.9 1388.7 634.1 1388.0 635.4 1387.2 636.8 1386.5 638.1 1385.7 639.4 1385.0 640.8 1384.3 642.1 1383.6 643.5 1382.9 644.9 1382.3 646.2 1381.6 647.6 1381.0 648.9 1380.5 650.3 1380.0 651.7 1379.5 653.1 1379.0 654.5 1378.5 655.9 1378.1 657.4 1377.7 658.8 1377.3 660.3 1376.9 661.7 1376.6 663.1 1376.2 664.5 1375.9 665.9 1375.7 667.2 1375.4 668.5 1375.2 669.8 1375.0 671.3 1374.8 672.7 1374.6 674.1 1374.5 675.5 1374.4 676.8 1374.4 678.1 1374.3 679.5 1374.3 680.9 1374.4 682.3 1374.5 683.8 1374.6 685.1 1374.7 686.4 1374.9 687.7 1375.1 689.1 1375.3 690.5 1375.5 691.9 1375.7 693.3 1376.0 694.8 1376.3 696.2 1376.6 697.6 1377.0 699.1 1377.3 700.5 1377.7 701.9 1378.1 703.3 1378.6 704.7 1379.0 706.0 1379.5 707.4 1380.0 708.8 1380.5 710.1 1381.0 711.5 1381.6 712.9 1382.2 714.2 1382.8 715.6 1383.4 716.9 1384.1 718.3 1384.7 719.6 1385.4 720.8 1386.1 722.1 1386.8 723.3 1387.5 724.5 1388.2 725.7 1388.9 727.0 1389.7 728.3 1390.6 729.5 1391.5 730.7 1392.4 731.8 1393.3 733.0 1394.2 734.1 1395.2 735.2 1396.1 736.3 1397.1 737.4 1398.1 738.6 1399.0 739.7 1400.0 740.8 1400.9 741.9 1401.9 742.9 1402.8 744.0 1403.8 745.1 1404.8 746.1 1405.7 747.2 1406.7 748.3 1407.7 749.3 1408.7 750.4 1409.7 751.5 1410.7 752.5 1411.6 753.6 1412.6 754.7 1413.6 755.8 1414.5 756.8 1415.5 757.9 1416.4 759.0 1417.4 760.1 1418.4 761.2 1419.3 762.2 1420.3 763.3 1421.2 764.4 1422.2 765.5 1423.2 766.5 1424.2 767.6 1425.2 768.6 1426.2 769.6 1427.1 770.6 1428.1 771.6 1429.1 772.6 1430.1 773.6 1431.1 774.6 1432.1 775.6 1433.2 776.6 1434.2 777.6 1435.2 778.6 1436.2 779.6 1437.2 780.6 1438.2 781.6 1439.2 782.6 1440.2 783.6 1441.2 784.6 1442.2 785.6 1443.1 786.6 1444.1 787.6 1445.1 788.5 1446.1 789.5 1447.1 790.5 1448.1 791.5 1449.1 792.5 1450.0 793.5 1451.0 794.5 1452.0 795.5 1453.0 796.5 1454.0 797.5 1455.0 798.5 1456.0 799.5 1457.0 800.5 1458.0 801.5 1459.0 802.5 1460.0 803.5 1461.0 804.5 1462.0 805.5 1463.0 806.5 1464.0 807.5 1465.0 808.5 1466.0 809.5 1467.0 810.5 1468.0 811.5 1469.0 812.5 1470.0 813.5 1471.1 814.5 1472.1 815.5 1473.1 816.5 1474.1 817.5 1475.2 818.5 1476.2 819.5 1477.2 820.5 1478.1 821.5 1479.1 822.5 1480.1 823.5 1481.0 824.6 1482.0 825.8 1483.0 826.9 1484.0 828.1 1484.9 829.2 1485.9 830.4 1486.8 831.5 1487.7 832.7 1488.6 833.9 1489.5 835.1 1490.4 836.2 1491.3 837.4 1492.2 838.6 1493.1 839.7 1493.9 840.9 1494.8 842.0 1495.6 843.2 1496.5 844.3 1497.3 845.5 1498.2 846.7 1499.0 847.8 1499.8 849.0 1500.5 850.2 1501.3 851.4 1502.0 852.6 1502.7 853.9 1503.4 855.2 1504.1 856.4 1504.8 857.7 1505.5 859.0 1506.1 860.3 1506.7 861.5 1507.3 862.8 1507.9 864.1 1508.4 865.4 1509.0 866.8 1509.6 868.2 1510.1 869.5 1510.6 870.9 1511.1 872.3 1511.6 873.7 1512.0 875.1 1512.5 876.5 1513.0 877.9 1513.4 879.3 1513.9 880.7 1514.4 882.0 1514.8 883.3 1515.3 884.7 1515.7 886.0 1516.1 887.3 1516.6 888.7 1517.0 890.1 1517.5 891.5 1518.0 893.0 1518.5 894.2 1519.0 895.5 1519.5 896.9 1520.0 898.2 1520.5 899.6 1521.1 901.0 1521.7 902.5 1522.3 903.9 1522.9 905.3 1523.4 906.7 1524.0 908.1 1524.5 909.4 1524.9 910.7 1525.3 912.0 1525.6 913.2 1525.9 914.7 1526.1 916.1 1526.2 917.4 1526.3 918.8 1526.3 920.1 1526.2 921.3 1526.2 922.6 1526.1 923.9 1526.1 925.3 1526.1 926.6 1526.1 928.0 1526.1 929.3 1526.2 930.7 1526.2 932.0 1526.2 933.4 1526.3 934.8 1526.4 936.1 1526.4 937.5 1526.6 938.9 1526.7 940.4 1526.8 941.9 1527.0 943.3 1527.2 944.8 1527.4 946.3 1527.6 947.7 1527.8 949.2 1528.1 950.6 1528.3 952.1 1528.6 953.5 1528.9 955.0 1529.1 956.4 1529.4 957.8 1529.7 959.3 1530.1 960.7 1530.4 962.1 1530.7 963.5 1531.0 965.0 1531.3 966.4 1531.7 967.8 1532.0 969.3 1532.3 970.7 1532.7 972.1 1533.0 973.6 1533.4 975.0 1533.7 976.4 1534.0 977.9 1534.4 979.3 1534.7 980.7 1535.1 982.2 1535.4 983.6 1535.8 985.0 1536.1 986.5 1536.5 987.9 1536.8 989.3 1537.2 990.8 1537.5 992.2 1537.9 993.6 1538.3 995.1 1538.7 996.5 1539.0 997.9 1539.4 999.4 1539.8 1000.8 1540.2 1002.2 1540.6 1003.7 1540.9 1005.1 1541.3 1006.5 1541.6 1008.0 1542.0 1009.4 1542.3 1010.9 1542.7 1012.3 1543.0 1013.7 1543.4 1015.2 1543.7 1016.6 1544.0 1018.0 1544.3 1019.4 1544.6 1020.8 1544.9 1022.2 1545.2 1023.6 1545.5 1025.1 1545.8 1026.5 1546.1 1027.9 1546.3 1029.3 1546.6 1030.7 1546.9 1032.1 1547.2 1033.5 1547.4 1034.9 1547.7 1036.3 1548.0 1037.8 1548.2 1039.2 1548.5 1040.6 1548.7 1042.0 1548.9 1043.5 1549.1 1045.0 1549.4 1046.4 1549.6 1047.9 1549.8 1049.4 1550.0 1050.9 1550.1 1052.3 1550.3 1053.8 1550.5 1055.2 1550.7 1056.7 1550.8 1058.1 1551.0 1059.5 1551.1 1061.0 1551.3 1062.4 1551.4 1063.8 1551.5 1065.3 1551.6 1066.7 1551.8 1068.2 1551.9 1069.7 1552.0 1071.2 1552.1 1072.7 1552.2 1074.2 1552.3 1075.6 1552.4 1077.1 1552.5 1078.6 1552.5 1080.1 1552.6 1081.4 1552.6 1082.8 1552.7 1084.2 1552.7 1085.5 1552.7 1086.9 1552.7 1088.2 1552.8 1089.6 1552.7 1090.9 1552.7 1092.3 1552.7 1093.6 1552.7 1094.9 1552.6 1096.2 1552.6 1097.6 1552.5 1098.9 1552.5 1100.2 1552.4 1101.6 1552.3 1102.9 1552.2 1104.2 1552.1 1105.7 1551.9 1107.1 1551.8 1108.6 1551.6 1110.1 1551.5 1111.5 1551.3 1113.0 1551.1 1114.4 1550.9 1115.9 1550.7 1117.3 1550.5 1118.6 1550.3 1120.0 1550.1 1121.3 1549.9 1122.6 1549.6 1123.9 1549.4 1125.2 1549.2 1126.5 1548.9 1127.8 1548.7 1129.2 1548.5 1130.5 1548.2 1131.8 1548.0 1133.1 1547.7 1134.5 1547.4 1135.8 1547.2 1137.1 1546.9 1138.4 1546.6 1139.8 1546.4 1141.1 1546.1 1142.4 1545.8 1143.7 1545.6 1145.0 1545.3 1146.3 1545.0 1147.7 1544.7 1149.0 1544.5 1150.3 1544.2 1151.6 1543.9 1153.0 1543.6 1154.4 1543.3 1155.8 1543.0 1157.3 1542.7 1158.7 1542.4 1160.2 1542.1 1161.6 1541.8 1163.1 1541.4 1164.5 1541.1 1166.0 1540.8 1167.4 1540.5 1168.8 1540.1 1170.3 1539.8 1171.7 1539.5 1173.1 1539.1 1174.6 1538.8 1176.0 1538.4 1177.4 1538.1 1178.8 1537.7 1180.3 1537.3 1181.7 1537.0 1183.1 1536.6 1184.6 1536.3 1186.0 1535.9 1187.4 1535.5 1188.9 1535.1 1190.3 1534.8 1191.7 1534.4 1193.1 1534.0 1194.6 1533.6 1196.0 1533.3 1197.4 1532.9 1198.9 1532.5 1200.3 1532.1 1201.7 1531.7 1203.1 1531.3 1204.6 1530.9 1206.0 1530.6 1207.4 1530.2 1208.9 1529.8 1210.3 1529.4 1211.7 1529.0 1213.2 1528.6 1214.6 1528.2 1216.0 1527.8 1217.4 1527.4 1218.9 1527.0 1220.3 1526.6 1221.8 1526.3 1223.2 1525.9 1224.6 1525.5 1226.1 1525.1 1227.5 1524.7 1229.0 1524.3 1230.4 1523.9 1231.8 1523.5 1233.3 1523.1 1234.7 1522.7 1236.1 1522.3 1237.6 1521.9 1239.0 1521.5 1240.5 1521.0 1241.9 1520.6 1243.3 1520.2 1244.8 1519.8 1246.2 1519.3 1247.7 1518.9 1249.1 1518.5 1250.5 1518.0 1252.0 1517.6 1253.4 1517.1 1254.8 1516.7 1256.2 1516.3 1257.5 1515.8 1258.8 1515.4 1260.0 1515.0 1261.3 1514.6 1262.5 1514.2 1263.8 1513.7 1265.1 1513.3 1266.3 1512.9 1267.6 1512.4 1269.0 1511.9 1270.4 1511.4 1271.8 1510.8 1273.2 1510.3 1274.6 1509.7 1276.0 1509.2 1277.4 1508.6 1278.8 1508.0 1280.1 1507.5 1281.4 1506.9 1282.7 1506.4 1283.9 1505.8 1285.2 1505.3 1286.4 1504.7 1287.7 1504.2 1288.9 1503.6 1290.1 1503.1 1291.4 1502.5 1292.6 1501.9 1293.8 1501.4 1295.1 1500.8 1296.3 1500.3 1297.5 1499.7 1298.7 1499.2 1300.0 1498.6 1301.2 1498.0 1302.5 1497.5 1303.8 1496.9 1305.1 1496.3 1306.5 1495.7 1307.8 1495.1 1309.2 1494.5 1310.5 1494.0 1311.9 1493.4 1313.2 1492.8 1314.6 1492.3 1315.9 1491.8 1317.2 1491.3 1318.6 1490.8 1319.9 1490.3 1321.2 1489.8 1322.6 1489.3 1323.9 1488.9 1325.2 1488.4 1326.6 1488.0 1327.9 1487.6 1329.1 1487.2 1330.4 1486.8 1331.7 1486.4 1333.0 1486.0 1334.3 1485.6 1335.6 1485.2 1336.9 1484.9 1338.2 1484.5 1339.6 1484.2 1340.9 1483.8 1342.3 1483.4 1343.7 1483.1 1345.1 1482.8 1346.5 1482.4 1347.9 1482.1 1349.3 1481.8 1350.7 1481.5 1352.2 1481.2 1353.6 1481.0 1355.0 1480.7 1356.5 1480.5 1357.9 1480.2 1359.3 1480.0 1360.8 1479.8 1362.2 1479.6 1363.6 1479.4 1365.0 1479.3 1366.3 1479.1 1367.7 1479.0 1369.0 1478.9 1370.3 1478.8 1371.7 1478.8 1373.0 1478.7 1374.4 1478.6 1375.7 1478.5 1377.1 1478.5 1378.5 1478.4 1379.9 1478.4 1381.3 1478.4 1382.7 1478.3 1384.0 1478.3 1385.3 1478.3 1386.6 1478.3 1387.8 1478.3 1389.3 1478.2 1390.6 1478.1 1391.9 1478.1 1393.3 1478.1 1394.9 1478.2 1396.0 1478.4 1397.2 1478.7 1398.4 1479.1 1399.7 1479.5 1401.0 1479.9 1402.4 1480.4 1403.8 1480.9 1405.2 1481.4 1406.6 1481.8 1408.1 1482.2 1409.5 1482.5 1411.0 1482.7 1412.4 1482.8 1413.8 1483.0 1415.2 1483.1 1416.7 1483.2 1418.2 1483.2 1419.7 1483.2 1421.2 1483.2 1422.7 1483.2 1424.2 1483.1 1425.7 1483.0 1427.2 1482.8 1428.7 1482.6 1430.1 1482.3 1431.5 1482.0 1432.8 1481.6 1434.1 1481.1 1435.4 1480.6 1436.7 1480.0 1437.9 1479.3 1439.2 1478.6 1440.4 1477.8 1441.6 1477.0 1442.7 1476.2 1443.9 1475.3 1445.0 1474.4 1446.1 1473.5 1447.2 1472.6 1448.2 1471.6 1449.2 1470.7 1450.3 1469.6 1451.3 1468.5 1452.3 1467.4 1453.2 1466.2 1454.1 1465.1 1455.0 1463.8 1455.9 1462.6 1456.7 1461.4 1457.6 1460.1 1458.4 1458.9 1459.3 1457.7 1460.2 1456.5 1461.1 1455.3 1462.0 1454.2 1463.0 1453.0 1463.9 1451.8 1464.8 1450.7 1465.7 1449.5 1466.6 1448.3 1467.5 1447.2 1468.4 1446.0 1469.3 1444.7 1470.2 1443.5 1471.1 1442.2 1471.9 1441.1 1472.6 1439.9 1473.4 1438.7 1474.1 1437.5 1474.8 1436.3 1475.6 1435.1 1476.3 1433.8 1477.0 1432.6 1477.7 1431.3 1478.4 1430.0 1479.2 1428.8 1479.9 1427.5 1480.6 1426.2 1481.3 1424.9 1482.0 1423.6 1482.7 1422.4 1483.3 1421.1 1484.0 1419.9 1484.6 1418.7 1485.2 1417.4 1485.9 1416.2 1486.5 1414.9 1487.1 1413.7 1487.8 1412.4 1488.4 1411.1 1489.0 1409.8 1489.7 1408.5 1490.3 1407.2 1491.0 1405.9 1491.6 1404.5 1492.3 1403.2 1493.0 1401.8 1493.6 1400.6 1494.3 1399.3 1494.9 1398.1 1495.6 1396.8 1496.2 1395.6 1496.9 1394.3 1497.6 1393.0 1498.3 1391.7 1499.0 1390.4 1499.6 1389.1 1500.3 1387.8 1501.0 1386.4 1501.7 1385.1 1502.4 1383.8 1503.1 1382.4 1503.7 1381.1 1504.4 1379.7 1505.1 1378.3 1505.7 1377.0 1506.4 1375.6 1507.0 1374.2 1507.6 1372.8 1508.2 1371.5 1508.7 1370.2 1509.3 1368.8 1509.8 1367.5 1510.3 1366.1 1510.8 1364.8 1511.3 1363.4 1511.8 1362.0 1512.3 1360.6 1512.8 1359.2 1513.3 1357.8 1513.8 1356.4 1514.3 1355.0 1514.8 1353.6 1515.3 1352.2 1515.8 1350.8 1516.3 1349.4 1516.8 1348.0 1517.2 1346.6 1517.7 1345.2 1518.2 1343.8 1518.7 1342.4 1519.3 1341.0 1519.8 1339.6 1520.3 1338.2 1520.8 1336.8 1521.4 1335.4 1521.9 1334.0 1522.4 1332.7 1523.0 1331.3 1523.5 1329.9 1524.1 1328.5 1524.6 1327.1 1525.1 1325.8 1525.7 1324.4 1526.2 1323.0 1526.8 1321.6 1527.3 1320.2 1527.9 1318.9 1528.5 1317.5 1529.0 1316.1 1529.6 1314.7 1530.1 1313.3 1530.7 1312.0 1531.3 1310.6 1531.8 1309.2 1532.4 1307.8 1533.0 1306.5 1533.5 1305.1 1534.1 1303.7 1534.7 1302.4 1535.2 1301.0 1535.8 1299.7 1536.3 1298.3 1536.9 1296.9 1537.5 1295.5 1538.1 1294.2 1538.6 1292.8 1539.2 1291.4 1539.8 1290.0 1540.4 1288.7 1540.9 1287.3 1541.5 1285.9 1542.1 1284.5 1542.7 1283.2 1543.3 1281.8 1543.8 1280.5 1544.4 1279.2 1545.0 1277.9 1545.6 1276.6 1546.2 1275.3 1546.8 1274.0 1547.4 1272.7 1547.9 1271.5 1548.5 1270.3 1549.1 1269.1 1549.8 1267.7 1550.5 1266.2 1551.2 1264.8 1551.9 1263.4 1552.6 1262.0 1553.4 1260.6 1554.1 1259.2 1554.8 1257.9 1555.5 1256.5 1556.2 1255.2 1556.9 1254.0 1557.6 1252.7 1558.3 1251.5 1559.0 1250.3 1559.7 1249.2 1560.4 1248.1 1561.1 1247.1 1561.8 1246.1 1562.7 1244.9 1563.6 1243.7 1564.5 1242.7 1565.4 1241.7 1566.3 1240.8 1567.2 1239.9 1568.1 1238.9 1569.1 1238.0 1570.0 1237.0 1570.9 1236.0 1571.8 1235.0 1572.7 1234.0 1573.6 1233.0 1574.6 1231.9 1575.5 1230.9 1576.4 1229.9 1577.4 1229.0 1578.3 1228.1 1579.3 1227.2 1580.4 1226.3 1581.5 1225.4 1582.6 1224.5 1583.8 1223.7 1584.9 1222.9 1586.1 1222.1 1587.3 1221.4 1588.6 1220.6 1589.8 1219.9 1591.1 1219.3 1592.4 1218.7 1593.7 1218.1 1595.1 1217.5 1596.4 1216.9 1597.8 1216.3 1599.2 1215.8 1600.6 1215.2 1602.0 1214.6 1603.3 1214.1 1604.6 1213.5 1606.0 1213.0 1607.3 1212.5 1608.6 1212.0 1610.0 1211.5 1611.3 1211.0 1612.7 1210.4 1614.0 1209.9 1615.3 1209.3 1616.6 1208.6 1617.8 1207.9 1619.0 1207.3 1620.2 1206.6 1621.3 1205.8 1622.5 1205.1 1623.7 1204.3 1624.8 1203.5 1626.0 1202.7 1627.1 1201.9 1628.2 1201.1 1629.4 1200.3 1630.5 1199.4 1631.6 1198.6 1632.7 1197.7 1633.8 1196.8 1634.9 1195.9 1636.0 1195.0 1637.0 1194.1 1638.1 1193.1 1639.2 1192.2 1640.2 1191.2 1641.3 1190.2 1642.4 1189.3 1643.4 1188.3 1644.5 1187.3 1645.5 1186.4 1646.5 1185.4 1647.5 1184.4 1648.6 1183.5 1649.6 1182.5 1650.6 1181.5 1651.6 1180.5 1652.6 1179.5 1653.6 1178.5 1654.6 1177.5 1655.6 1176.5 1656.5 1175.4 1657.5 1174.4 1658.5 1173.3 1659.4 1172.2 1660.4 1171.2 1661.3 1170.1 1662.3 1169.0 1663.2 1167.9 1664.1 1166.7 1665.0 1165.6 1665.9 1164.5 1666.9 1163.3 1667.8 1162.2 1668.7 1161.1 1669.6 1159.9 1670.5 1158.8 1671.5 1157.7 1672.4 1156.6 1673.3 1155.5 1674.3 1154.4 1675.2 1153.3 1676.2 1152.2 1677.1 1151.1 1678.1 1150.0 1679.1 1148.9 1680.0 1147.8 1681.0 1146.7 1681.9 1145.6 1682.8 1144.6 1683.8 1143.6 1684.7 1142.6 1685.5 1141.6 1686.4 1140.7 1687.5 1139.5 1688.5 1138.3 1689.6 1137.2 1690.6 1136.1 1691.6 1135.0 1692.6 1134.0 1693.6 1133.1 1694.6 1132.2 1695.7 1131.4 1697.0 1130.5 1698.3 1129.7 1699.6 1128.9 1700.9 1128.3 1702.3 1127.7 1703.7 1127.4 1705.0 1127.2 1706.3 1127.3 1707.7 1127.5 1709.0 1127.9 1710.4 1128.4 1711.7 1129.1 1713.0 1129.8 1714.3 1130.5 1715.4 1131.2 1716.5 1132.0 1717.5 1132.8 1718.6 1133.7 1719.6 1134.7 1720.6 1135.7 1721.6 1136.7 1722.6 1137.8 1723.6 1138.9 1724.5 1139.9 1725.4 1141.0 1726.2 1142.1 1727.1 1143.3 1727.9 1144.5 1728.8 1145.7 1729.6 1146.9 1730.4 1148.1 1731.3 1149.4 1732.1 1150.6 1732.9 1151.9 1733.6 1153.0 1734.4 1154.2 1735.1 1155.4 1735.9 1156.5 1736.6 1157.7 1737.3 1158.9 1738.1 1160.1 1738.8 1161.3 1739.5 1162.6 1740.2 1163.8 1740.9 1165.1 1741.6 1166.4 1742.3 1167.7 1742.9 1168.9 1743.5 1170.2 1744.1 1171.4 1744.7 1172.7 1745.3 1174.0 1745.9 1175.3 1746.5 1176.7 1747.1 1178.0 1747.7 1179.4 1748.2 1180.7 1748.8 1182.1 1749.4 1183.5 1749.9 1184.9 1750.5 1186.3 1751.0 1187.7 1751.6 1189.1 1752.1 1190.4 1752.6 1191.7 1753.1 1193.1 1753.7 1194.4 1754.2 1195.8 1754.7 1197.1 1755.2 1198.5 1755.7 1199.9 1756.2 1201.3 1756.7 1202.7 1757.2 1204.1 1757.7 1205.5 1758.2 1206.9 1758.7 1208.3 1759.1 1209.7 1759.6 1211.1 1760.0 1212.4 1760.5 1213.8 1760.9 1215.2 1761.3 1216.6 1761.7 1218.0 1762.1 1219.4 1762.5 1220.8 1762.9 1222.2 1763.3 1223.6 1763.6 1225.0 1764.0 1226.4 1764.3 1227.8 1764.7 1229.2 1765.0 1230.6 1765.3 1232.0 1765.7 1233.4 1766.0 1234.8 1766.4 1236.2 1766.7 1237.6 1767.0 1239.0 1767.4 1240.4 1767.8 1241.8 1768.1 1243.2 1768.4 1244.5 1768.8 1245.8 1769.1 1247.1 1769.4 1248.4 1769.7 1249.7 1770.0 1251.0 1770.4 1252.4 1770.7 1253.7 1771.0 1255.1 1771.4 1256.5 1771.7 1257.9 1772.1 1259.4 1772.5 1261.0 1772.9 1262.6 1773.3 1264.3 1773.8 1266.0 1774.1 1267.1 1774.4 1268.2 1774.7 1269.3 1775.0 1270.5 1775.3 1271.8 1775.6 1273.0 1776.0 1274.3 1776.3 1275.6 1776.7 1277.0 1777.1 1278.3 1777.4 1279.7 1777.8 1281.2 1778.2 1282.6 1778.6 1284.1 1779.0 1285.6 1779.4 1287.1 1779.8 1288.6 1780.2 1290.1 1780.7 1291.7 1781.1 1293.2 1781.5 1294.8 1781.9 1296.4 1782.4 1298.0 1782.8 1299.6 1783.2 1301.1 1783.7 1302.7 1784.1 1304.3 1784.5 1305.9 1785.0 1307.5 1785.4 1309.1 1785.9 1310.7 1786.3 1312.3 1786.7 1313.9 1787.1 1315.4 1787.6 1317.0 1788.0 1318.5 1788.4 1320.0 1788.8 1321.5 1789.2 1323.0 1789.6 1324.5 1790.0 1325.9 1790.4 1327.3 1790.8 1328.7 1791.2 1330.1 1791.5 1331.5 1791.9 1332.8 1792.3 1334.1 1792.6 1335.3 1792.9 1336.5 1793.3 1337.7 1793.6 1338.9 1793.9 1340.0 1794.4 1341.7 1794.8 1343.3 1795.2 1344.8 1795.6 1346.3 1796.0 1347.8 1796.4 1349.2 1796.8 1350.6 1797.2 1351.9 1797.5 1353.2 1797.9 1354.5 1798.2 1355.8 1798.6 1357.1 1799.0 1358.4 1799.3 1359.7 1799.7 1360.9 1800.0 1362.2 1800.4 1363.5 1800.8 1364.8 1801.2 1366.1 1801.6 1367.5 1802.0 1368.9 1802.4 1370.3 1802.8 1371.7 1803.3 1373.0 1803.7 1374.4 1804.1 1375.8 1804.6 1377.2 1805.0 1378.6 1805.4 1380.1 1805.9 1381.5 1806.3 1382.9 1806.8 1384.3 1807.2 1385.7 1807.7 1387.1 1808.2 1388.6 1808.6 1390.0 1809.1 1391.4 1809.6 1392.8 1810.0 1394.2 1810.5 1395.7 1811.0 1397.1 1811.4 1398.5 1811.9 1399.9 1812.4 1401.3 1812.9 1402.7 1813.4 1404.1 1813.8 1405.6 1814.3 1407.0 1814.8 1408.4 1815.3 1409.9 1815.8 1411.3 1816.3 1412.7 1816.8 1414.2 1817.3 1415.6 1817.8 1417.1 1818.3 1418.5 1818.8 1419.9 1819.3 1421.3 1819.8 1422.7 1820.3 1424.1 1820.8 1425.5 1821.4 1426.9 1821.9 1428.3 1822.4 1429.7 1822.9 1431.0 1823.5 1432.4 1824.0 1433.7 1824.6 1435.1 1825.2 1436.6 1825.8 1438.0 1826.3 1439.5 1826.9 1440.9 1827.5 1442.3 1828.1 1443.7 1828.7 1445.1 1829.3 1446.5 1829.9 1447.8 1830.5 1449.2 1831.1 1450.5 1831.8 1451.9 1832.4 1453.2 1833.0 1454.5 1833.7 1455.8 1834.3 1457.1 1835.0 1458.4 1835.7 1459.6 1836.4 1460.9 1837.2 1462.2 1838.0 1463.5 1838.8 1464.7 1839.5 1466.0 1840.3 1467.2 1841.2 1468.4 1842.0 1469.6 1842.8 1470.8 1843.6 1472.0 1844.5 1473.2 1845.3 1474.3 1846.1 1475.5 1847.0 1476.7 1847.8 1477.8 1848.7 1479.0 1849.5 1480.2 1850.4 1481.3 1851.2 1482.5 1852.1 1483.7 1852.9 1484.8 1853.8 1486.0 1854.6 1487.1 1855.5 1488.3 1856.4 1489.4 1857.2 1490.5 1858.2 1491.7 1859.1 1492.8 1860.0 1493.9 1861.0 1495.0 1862.0 1496.1 1863.0 1497.2 1864.0 1498.2 1864.9 1499.2 1865.9 1500.2 1866.9 1501.2 1868.0 1502.1 1869.0 1503.1 1870.1 1504.1 1871.2 1505.1 1872.2 1506.0 1873.3 1507.0 1874.5 1507.9 1875.6 1508.9 1876.7 1509.8 1877.9 1510.7 1879.0 1511.7 1880.2 1512.6 1881.3 1513.5 1882.5 1514.4 1883.7 1515.3 1884.8 1516.2 1886.0 1517.0 1887.2 1517.9 1888.4 1518.7 1889.6 1519.6 1890.9 1520.5 1892.1 1521.3 1893.4 1522.1 1894.6 1523.0 1895.9 1523.8 1897.2 1524.6 1898.4 1525.5 1899.7 1526.3 1901.0 1527.0 1902.3 1527.8 1903.5 1528.6 1904.8 1529.3 1906.0 1530.1 1907.2 1530.8 1908.4 1531.5 1909.6 1532.2 1910.9 1533.0 1912.2 1533.7 1913.5 1534.4 1914.8 1535.2 1916.1 1535.9 1917.3 1536.6 1918.6 1537.2 1919.9 1537.9 1921.1 1538.5 1922.4 1539.2 1923.6 1539.8 1924.9 1540.4 1926.2 1540.9 1927.4 1541.5 1928.7 1542.0 1930.0 1542.5 1931.4 1543.0 1932.9 1543.5 1934.4 1543.9 1935.9 1544.3 1937.4 1544.6 1938.9 1545.0 1940.4 1545.3 1941.9 1545.6 1943.4 1546.0 1944.8 1546.3 1946.2 1546.6 1947.6 1547.0 1949.0 1547.3 1950.2 1547.8 1951.7 1548.3 1953.2 1548.8 1954.5 1549.4 1955.9 1549.9 1957.2 1550.5 1958.5 1551.1 1959.7 1551.7 1961.0 1552.3 1962.3 1553.0 1963.6 1553.6 1965.0 1554.3 1966.3 1555.0 1967.6 1555.7 1968.8 1556.4 1970.1 1557.1 1971.4 1557.8 1972.7 1558.6 1974.0 1559.3 1975.3 1560.0 1976.6 1560.7 1977.8 1561.5 1979.1 1562.2 1980.4 1563.0 1981.7 1563.7 1982.9 1564.4 1984.2 1565.2 1985.5 1565.9 1986.7 1566.7 1987.9 1567.4 1989.1 1568.1 1990.4 1568.9 1991.6 1569.6 1992.8 1570.3 1994.0 1571.1 1995.2 1571.8 1996.4 1572.6 1997.7 1573.3 1998.9 1574.0 2000.1 1574.8 2001.3 1575.5 2002.5 1576.3 2003.8 1577.0 2005.0 1577.8 2006.2 1578.5 2007.4 1579.2 2008.6 1580.0 2009.9 1580.7 2011.1 1581.5 2012.3 1582.2 2013.5 1583.0 2014.8 1583.7 2016.0 1584.5 2017.2 1585.2 2018.4 1585.9 2019.7 1586.7 2020.9 1587.4 2022.1 1588.1 2023.3 1588.9 2024.6 1589.6 2025.8 1590.3 2027.0 1591.0 2028.3 1591.8 2029.5 1592.5 2030.8 1593.3 2032.0 1594.0 2033.3 1594.8 2034.6 1595.5 2035.9 1596.3 2037.2 1597.0 2038.5 1597.8 2039.8 1598.5 2041.1 1599.2 2042.4 1599.9 2043.7 1600.6 2045.0 1601.3 2046.2 1602.0 2047.5 1602.7 2048.8 1603.4 2050.2 1604.0 2051.5 1604.7 2052.8 1605.3 2054.1 1605.9 2055.5 1606.5 2056.8 1607.0 2058.2 1607.6 2059.5 1608.1 2060.9 1608.7 2062.3 1609.2 2063.6 1609.7 2065.0 1610.2 2066.4 1610.6 2067.7 1611.1 2069.1 1611.5 2070.5 1611.9 2071.9 1612.4 2073.3 1612.8 2074.6 1613.1 2076.0 1613.5 2077.4 1613.9 2078.8 1614.2 2080.2 1614.5 2081.5 1614.8 2082.9 1615.1 2084.3 1615.4 2085.7 1615.7 2087.1 1615.9 2088.5 1616.1 2089.9 1616.3 2091.3 1616.6 2092.7 1616.7 2094.2 1616.9 2095.7 1617.1 2097.1 1617.2 2098.6 1617.3 2100.0 1617.5 2101.5 1617.6 2102.9 1617.6 2104.4 1617.7 2105.8 1617.8 2107.3 1617.8 2108.7 1617.9 2110.1 1617.9 2111.6 1617.9 2113.0 1617.9 2114.4 1617.9 2115.9 1617.9 2117.4 1617.9 2118.8 1617.9 2120.3 1617.9 2121.7 1617.8 2123.2 1617.8 2124.7 1617.8 2126.1 1617.7 2127.6 1617.7 2129.1 1617.7 2130.6 1617.6 2132.1 1617.6 2133.6 1617.6 2135.1 1617.6 2136.6 1617.5 2138.1 1617.5 2139.6 1617.5 2141.1 1617.5 2142.5 1617.4 2144.0 1617.4 2145.4 1617.4 2146.9 1617.4 2148.3 1617.4 2149.7 1617.4 2151.1 1617.4 2152.6 1617.4 2154.0 1617.4 2155.5 1617.4 2156.9 1617.4 2158.4 1617.4 2159.8 1617.4 2161.3 1617.4 2162.8 1617.4 2164.3 1617.4 2165.7 1617.4 2167.2 1617.4 2168.7 1617.4 2170.2 1617.4 2171.6 1617.4 2173.1 1617.4 2174.6 1617.4 2176.1 1617.4 2177.6 1617.4 2179.0 1617.4 2180.5 1617.4 2182.0 1617.4 2183.4 1617.4 2184.9 1617.4 2186.3 1617.4 2187.7 1617.4 2189.2 1617.4 2190.6 1617.4 2192.0 1617.4 2193.4 1617.4 2194.8 1617.4 2196.2 1617.4 2197.5 1617.4 2198.9 1617.4 2200.2 1617.4 2201.5 1617.4 2202.8 1617.4 2204.2 1617.4 2205.5 1617.4 2206.8 1617.4 2208.2 1617.4 2209.6 1617.4 2211.0 1617.4 2212.3 1617.4 2213.7 1617.4 2215.1 1617.4 2216.5 1617.4 2217.9 1617.4 2219.3 1617.4 2220.7 1617.4 2222.1 1617.4 2223.5 1617.4 2224.9 1617.4 2226.4 1617.4 2227.8 1617.4 2229.2 1617.4 2230.6 1617.4 2232.0 1617.4 2233.5 1617.4 2234.9 1617.4 2236.4 1617.4 2237.8 1617.4 2239.3 1617.4 2240.7 1617.4 2242.1 1617.4 2243.6 1617.4 2245.0 1617.4 2246.5 1617.4 2247.9 1617.4 2249.4 1617.4 2250.9 1617.4 2252.3 1617.4 2253.8 1617.4 2255.2 1617.4 2256.7 1617.4 2258.2 1617.4 2259.6 1617.4 2261.1 1617.4 2262.5 1617.4 2264.0 1617.4 2265.5 1617.4 2266.9 1617.4 2268.4 1617.4 2269.8 1617.4 2271.3 1617.4 2272.7 1617.4 2274.2 1617.4 2275.7 1617.4 2277.1 1617.4 2278.6 1617.4 2280.0 1617.4 2281.5 1617.4 2282.9 1617.4 2284.3 1617.4 2285.8 1617.4 2287.2 1617.4 2288.7 1617.4 2290.1 1617.4 2291.5 1617.4 2292.9 1617.4 2294.4 1617.4 2295.8 1617.4 2297.2 1617.4 2298.6 1617.4 2300.0 1617.4 2301.4 1617.4 2302.8 1617.4 2304.2 1617.4 2305.6 1617.4 2307.0 1617.4 2308.4 1617.4 2309.8 1617.4 2311.2 1617.4 2312.5 1617.4 2313.9 1617.4 2315.2 1617.4 2316.6 1617.4 2317.9 1617.4 2319.3 1617.4 2320.6 1617.4 2322.0 1617.4" stroke="#FF00FF" stroke-width="10"/><path d="M316.0 1524.0L317.4 1523.4 318.7 1522.8 320.0 1522.1 321.4 1521.5 322.7 1520.9 324.1 1520.3 325.4 1519.6 326.8 1519.0 328.1 1518.4 329.4 1517.8 330.8 1517.2 332.1 1516.5 333.4 1515.9 334.8 1515.3 336.1 1514.7 337.5 1514.1 338.8 1513.4 340.1 1512.8 341.5 1512.2 342.8 1511.6 344.2 1510.9 345.5 1510.3 346.9 1509.7 348.2 1509.1 349.6 1508.5 350.9 1507.8 352.3 1507.2 353.6 1506.6 355.0 1506.0 356.4 1505.4 357.7 1504.7 359.1 1504.1 360.5 1503.5 361.8 1502.9 363.2 1502.2 364.6 1501.6 366.0 1501.0 367.3 1500.4 368.6 1499.8 370.0 1499.2 371.3 1498.6 372.6 1498.0 374.0 1497.4 375.3 1496.8 376.7 1496.2 378.0 1495.6 379.3 1495.0 380.7 1494.4 382.0 1493.8 383.4 1493.2 384.8 1492.6 386.1 1492.0 387.5 1491.4 388.8 1490.8 390.2 1490.2 391.6 1489.6 392.9 1489.0 394.3 1488.4 395.7 1487.8 397.0 1487.2 398.4 1486.6 399.8 1486.1 401.1 1485.5 402.5 1484.9 403.9 1484.3 405.3 1483.7 406.6 1483.1 408.0 1482.5 409.4 1481.9 410.7 1481.4 412.1 1480.8 413.5 1480.2 414.9 1479.6 416.2 1479.1 417.6 1478.5 419.0 1477.9 420.3 1477.4 421.7 1476.8 423.1 1476.2 424.5 1475.7 425.9 1475.1 427.3 1474.5 428.7 1474.0 430.1 1473.4 431.4 1472.9 432.8 1472.3 434.2 1471.8 435.6 1471.2 437.0 1470.7 438.4 1470.2 439.8 1469.6 441.2 1469.1 442.6 1468.5 444.0 1468.0 445.4 1467.5 446.8 1466.9 448.2 1466.4 449.6 1465.9 451.0 1465.3 452.4 1464.8 453.8 1464.3 455.2 1463.8 456.6 1463.2 458.0 1462.7 459.4 1462.2 460.8 1461.7 462.2 1461.1 463.6 1460.6 465.0 1460.1 466.4 1459.6 467.8 1459.1 469.2 1458.5 470.6 1458.0 472.0 1457.5 473.4 1457.0 474.8 1456.4 476.2 1455.9 477.6 1455.4 479.0 1454.9 480.4 1454.3 481.8 1453.8 483.3 1453.3 484.7 1452.7 486.1 1452.2 487.6 1451.7 489.0 1451.1 490.5 1450.6 492.0 1450.0 493.4 1449.5 494.9 1448.9 496.4 1448.4 497.8 1447.9 499.3 1447.3 500.8 1446.8 502.3 1446.2 503.7 1445.7 505.2 1445.2 506.6 1444.6 508.1 1444.1 509.5 1443.6 511.0 1443.0 512.4 1442.5 513.8 1442.0 515.2 1441.5 516.6 1441.0 518.0 1440.5 519.4 1440.0 520.7 1439.5 522.1 1439.0 523.4 1438.5 524.8 1438.1 526.1 1437.6 527.3 1437.1 528.6 1436.7 529.9 1436.3 531.1 1435.8 532.3 1435.4 533.5 1435.0 535.1 1434.4 536.7 1433.9 538.2 1433.4 539.6 1432.8 541.1 1432.3 542.5 1431.8 543.9 1431.3 545.3 1430.8 546.6 1430.3 547.9 1429.8 549.3 1429.3 550.6 1428.9 551.9 1428.4 553.3 1428.0 554.6 1427.6 555.9 1427.2 557.3 1426.8 558.7 1426.5 560.1 1426.1 561.5 1425.8 563.0 1425.5 564.4 1425.2 565.8 1425.0 567.2 1424.8 568.6 1424.6 570.1 1424.4 571.6 1424.2 573.0 1424.1 574.5 1423.9 576.0 1423.8 577.5 1423.7 578.9 1423.6 580.4 1423.5 581.9 1423.4 583.4 1423.3 584.9 1423.3 586.4 1423.2 587.9 1423.2 589.4 1423.1 590.8 1423.1 592.3 1423.1 593.7 1423.1 595.2 1423.0 596.6 1423.0 598.0 1423.0 599.5 1423.0 600.9 1423.0 602.4 1423.0 603.8 1423.1 605.3 1423.1 606.7 1423.2 608.1 1423.3 609.5 1423.4 610.9 1423.5 612.3 1423.6 613.7 1423.7 615.1 1423.8 616.5 1423.9 617.9 1424.0 619.3 1424.1 620.8 1424.2 622.2 1424.3 623.6 1424.3 625.1 1424.4 626.5 1424.5 628.0 1424.5 629.4 1424.5 630.8 1424.6 632.3 1424.6 633.8 1424.6 635.2 1424.6 636.7 1424.6 638.2 1424.7 639.7 1424.7 641.2 1424.7 642.8 1424.7 644.3 1424.7 645.8 1424.7 647.3 1424.7 648.8 1424.7 650.3 1424.6 651.8 1424.6 653.2 1424.6 654.7 1424.6 656.1 1424.6 657.5 1424.6 658.9 1424.6 660.2 1424.5 661.5 1424.5 662.8 1424.5 664.4 1424.5 665.9 1424.4 667.3 1424.4 668.8 1424.3 670.2 1424.2 671.6 1424.1 673.0 1424.0 674.3 1424.0 675.7 1423.9 677.0 1423.8 678.3 1423.8 679.7 1423.8 681.0 1423.8 682.4 1423.8 683.8 1423.8 685.2 1423.9 686.6 1423.9 688.0 1424.0 689.4 1424.1 690.8 1424.2 692.2 1424.3 693.6 1424.4 695.0 1424.6 696.4 1424.7 697.8 1424.9 699.2 1425.1 700.5 1425.3 701.9 1425.5 703.3 1425.7 704.7 1426.0 706.1 1426.3 707.5 1426.6 708.9 1426.9 710.3 1427.3 711.6 1427.6 713.0 1428.0 714.4 1428.4 715.8 1428.8 717.1 1429.3 718.5 1429.7 719.9 1430.2 721.3 1430.7 722.8 1431.2 724.2 1431.7 725.7 1432.2 727.0 1432.7 728.2 1433.1 729.5 1433.6 730.8 1434.2 732.1 1434.7 733.4 1435.3 734.7 1435.8 736.1 1436.4 737.4 1437.0 738.7 1437.6 740.1 1438.2 741.4 1438.8 742.8 1439.4 744.2 1440.0 745.5 1440.6 746.9 1441.2 748.2 1441.8 749.6 1442.3 750.9 1442.9 752.3 1443.5 753.6 1444.0 755.0 1444.6 756.4 1445.1 757.8 1445.6 759.3 1446.2 760.7 1446.7 762.1 1447.2 763.6 1447.7 765.0 1448.3 766.4 1448.8 767.9 1449.3 769.3 1449.8 770.7 1450.3 772.1 1450.8 773.5 1451.3 774.9 1451.9 776.3 1452.4 777.6 1452.9 779.0 1453.4 780.3 1454.0 781.6 1454.5 783.0 1455.1 784.4 1455.7 785.8 1456.3 787.2 1456.9 788.5 1457.5 789.9 1458.1 791.2 1458.7 792.6 1459.4 793.9 1460.0 795.2 1460.6 796.4 1461.2 797.7 1461.8 798.9 1462.4 800.1 1463.1 801.3 1463.7 802.5 1464.3 803.9 1465.0 805.3 1465.8 806.6 1466.5 807.9 1467.2 809.2 1467.9 810.4 1468.6 811.6 1469.3 812.9 1470.1 814.1 1470.9 815.3 1471.8 816.5 1472.7 817.5 1473.5 818.6 1474.4 819.6 1475.3 820.6 1476.3 821.6 1477.2 822.6 1478.2 823.6 1479.2 824.6 1480.2 825.5 1481.3 826.5 1482.3 827.5 1483.4 828.5 1484.5 829.4 1485.5 830.4 1486.6 831.3 1487.7 832.3 1488.8 833.2 1489.9 834.1 1491.0 835.1 1492.2 836.0 1493.4 836.9 1494.6 837.8 1495.7 838.7 1496.9 839.6 1498.1 840.6 1499.2 841.5 1500.3 842.5 1501.4 843.4 1502.4 844.4 1503.4 845.5 1504.5 846.6 1505.5 847.7 1506.6 848.8 1507.6 849.9 1508.6 851.0 1509.5 852.2 1510.5 853.3 1511.4 854.5 1512.2 855.8 1513.0 857.1 1513.8 858.4 1514.6 859.6 1515.2 860.9 1515.9 862.2 1516.4 863.6 1517.0 864.9 1517.5 866.3 1518.0 867.8 1518.5 869.2 1519.0 870.6 1519.4 872.1 1519.8 873.5 1520.2 875.0 1520.6 876.4 1521.0 877.9 1521.3 879.3 1521.6 880.8 1521.9 882.2 1522.2 883.7 1522.4 885.2 1522.6 886.7 1522.8 888.1 1523.0 889.6 1523.1 891.1 1523.3 892.6 1523.4 894.1 1523.5 895.6 1523.6 897.0 1523.6 898.5 1523.7 900.0 1523.7 901.5 1523.7 903.0 1523.7 904.5 1523.6 906.1 1523.5 907.6 1523.4 909.1 1523.3 910.7 1523.2 912.2 1523.1 913.7 1522.9 915.2 1522.8 916.6 1522.7 918.0 1522.6 919.4 1522.6 920.7 1522.5 922.2 1522.5 923.6 1522.5 925.0 1522.5 926.3 1522.5 927.6 1522.5 928.9 1522.6 930.2 1522.6 931.6 1522.7 932.9 1522.8 934.4 1522.9 935.9 1523.0 937.4 1523.1 938.9 1523.2 940.4 1523.4 941.9 1523.5 943.4 1523.7 944.8 1523.9 946.3 1524.1 947.8 1524.3 949.2 1524.6 950.7 1524.8 952.1 1525.1 953.5 1525.4 955.0 1525.7 956.4 1526.0 957.8 1526.3 959.2 1526.6 960.7 1526.9 962.1 1527.2 963.6 1527.5 965.0 1527.8 966.4 1528.2 967.8 1528.5 969.3 1528.9 970.7 1529.2 972.1 1529.5 973.6 1529.9 975.0 1530.2 976.4 1530.5 977.9 1530.9 979.3 1531.2 980.7 1531.5 982.2 1531.9 983.6 1532.2 985.0 1532.6 986.5 1532.9 987.9 1533.3 989.3 1533.7 990.8 1534.0 992.2 1534.4 993.6 1534.8 995.1 1535.2 996.5 1535.6 997.9 1535.9 999.4 1536.3 1000.8 1536.7 1002.2 1537.0 1003.7 1537.4 1005.1 1537.8 1006.5 1538.1 1008.0 1538.5 1009.4 1538.9 1010.9 1539.2 1012.3 1539.5 1013.7 1539.9 1015.1 1540.2 1016.6 1540.5 1018.0 1540.8 1019.4 1541.1 1020.8 1541.4 1022.3 1541.7 1023.7 1542.0 1025.1 1542.3 1026.5 1542.6 1027.9 1542.9 1029.3 1543.1 1030.7 1543.4 1032.1 1543.7 1033.5 1543.9 1034.9 1544.2 1036.3 1544.5 1037.8 1544.7 1039.2 1545.0 1040.6 1545.2 1042.1 1545.4 1043.5 1545.6 1045.0 1545.9 1046.4 1546.1 1047.9 1546.3 1049.3 1546.5 1050.8 1546.7 1052.2 1546.8 1053.6 1547.0 1055.1 1547.2 1056.5 1547.3 1058.0 1547.5 1059.4 1547.6 1060.9 1547.7 1062.3 1547.9 1063.8 1548.0 1065.3 1548.1 1066.8 1548.3 1068.2 1548.4 1069.7 1548.5 1071.2 1548.6 1072.7 1548.7 1074.1 1548.8 1075.6 1548.9 1076.9 1548.9 1078.3 1549.0 1079.6 1549.1 1081.0 1549.1 1082.3 1549.2 1083.6 1549.2 1085.0 1549.2 1086.3 1549.2 1087.7 1549.2 1089.0 1549.2 1090.4 1549.2 1091.8 1549.2 1093.1 1549.2 1094.5 1549.2 1095.9 1549.1 1097.2 1549.1 1098.6 1549.0 1100.0 1548.9 1101.4 1548.8 1102.8 1548.7 1104.3 1548.6 1105.7 1548.4 1107.1 1548.3 1108.6 1548.1 1110.0 1548.0 1111.5 1547.8 1112.9 1547.6 1114.4 1547.4 1115.9 1547.2 1117.3 1547.0 1118.8 1546.7 1120.3 1546.5 1121.8 1546.3 1123.3 1546.0 1124.7 1545.8 1126.2 1545.5 1127.5 1545.3 1128.9 1545.0 1130.2 1544.8 1131.5 1544.5 1132.9 1544.3 1134.2 1544.0 1135.5 1543.7 1136.8 1543.5 1138.1 1543.2 1139.4 1542.9 1140.8 1542.7 1142.1 1542.4 1143.4 1542.1 1144.7 1541.9 1146.0 1541.6 1147.3 1541.3 1148.7 1541.0 1150.0 1540.7 1151.4 1540.4 1152.9 1540.1 1154.3 1539.8 1155.8 1539.5 1157.2 1539.2 1158.7 1538.9 1160.2 1538.6 1161.6 1538.3 1163.1 1537.9 1164.5 1537.6 1166.0 1537.3 1167.4 1537.0 1168.8 1536.6 1170.3 1536.3 1171.7 1535.9 1173.1 1535.6 1174.5 1535.3 1176.0 1534.9 1177.4 1534.6 1178.8 1534.2 1180.3 1533.8 1181.7 1533.5 1183.1 1533.1 1184.6 1532.8 1186.0 1532.4 1187.4 1532.0 1188.9 1531.6 1190.3 1531.3 1191.7 1530.9 1193.1 1530.5 1194.6 1530.1 1196.0 1529.8 1197.4 1529.4 1198.9 1529.0 1200.3 1528.6 1201.7 1528.2 1203.1 1527.8 1204.6 1527.4 1206.0 1527.1 1207.4 1526.7 1208.9 1526.3 1210.3 1525.9 1211.7 1525.5 1213.1 1525.1 1214.6 1524.7 1216.0 1524.3 1217.4 1523.9 1218.9 1523.5 1220.3 1523.2 1221.8 1522.8 1223.2 1522.4 1224.6 1522.0 1226.1 1521.6 1227.5 1521.2 1229.0 1520.8 1230.4 1520.4 1231.8 1520.0 1233.3 1519.6 1234.7 1519.2 1236.1 1518.8 1237.6 1518.4 1239.0 1518.0 1240.5 1517.5 1241.9 1517.1 1243.3 1516.7 1244.8 1516.3 1246.2 1515.8 1247.7 1515.4 1249.1 1515.0 1250.5 1514.5 1252.0 1514.1 1253.3 1513.7 1254.6 1513.3 1255.9 1512.8 1257.2 1512.4 1258.4 1512.0 1259.7 1511.6 1260.9 1511.2 1262.2 1510.8 1263.5 1510.4 1264.8 1509.9 1266.1 1509.4 1267.5 1508.9 1268.9 1508.4 1270.4 1507.9 1271.8 1507.3 1273.2 1506.8 1274.6 1506.2 1276.0 1505.7 1277.3 1505.1 1278.6 1504.6 1279.9 1504.1 1281.1 1503.5 1282.4 1503.0 1283.6 1502.5 1284.9 1501.9 1286.1 1501.4 1287.3 1500.8 1288.6 1500.3 1289.8 1499.7 1291.0 1499.2 1292.3 1498.6 1293.5 1498.0 1294.7 1497.5 1296.0 1496.9 1297.2 1496.3 1298.5 1495.8 1299.7 1495.2 1301.1 1494.6 1302.4 1494.0 1303.8 1493.4 1305.1 1492.8 1306.5 1492.2 1307.9 1491.6 1309.2 1491.0 1310.6 1490.4 1311.9 1489.9 1313.2 1489.4 1314.5 1488.8 1315.8 1488.3 1317.1 1487.8 1318.3 1487.4 1319.6 1486.9 1320.9 1486.4 1322.2 1486.0 1323.5 1485.5 1324.8 1485.1 1326.1 1484.6 1327.4 1484.2 1328.7 1483.8 1330.0 1483.4 1331.4 1483.0 1332.7 1482.6 1334.0 1482.2 1335.4 1481.8 1336.7 1481.4 1338.1 1481.0 1339.5 1480.7 1340.9 1480.3 1342.3 1479.9 1343.7 1479.6 1345.1 1479.2 1346.5 1478.9 1348.0 1478.6 1349.4 1478.3 1350.8 1478.0 1352.2 1477.7 1353.6 1477.5 1355.0 1477.2 1356.4 1477.0 1357.8 1476.7 1359.3 1476.5 1360.7 1476.3 1362.0 1476.1 1363.4 1476.0 1364.7 1475.8 1366.1 1475.7 1367.4 1475.6 1368.8 1475.5 1370.2 1475.4 1371.5 1475.3 1372.8 1475.2 1374.2 1475.1 1375.5 1475.0 1376.9 1475.0 1378.3 1474.9 1379.6 1474.9 1381.0 1474.9 1382.3 1474.9 1383.6 1474.8 1385.0 1474.8 1386.3 1474.8 1387.7 1474.8 1389.1 1474.7 1390.5 1474.7 1391.9 1474.7 1393.2 1474.7 1394.6 1474.7 1396.0 1474.7 1397.4 1474.6 1398.8 1474.6 1400.2 1474.6 1401.6 1474.6 1403.0 1474.6 1404.4 1474.6 1405.8 1474.6 1407.2 1474.6 1408.6 1474.6 1410.0 1474.6 1411.4 1474.5 1412.8 1474.5 1414.3 1474.5 1415.9 1474.4 1417.4 1474.3 1419.0 1474.3 1420.4 1474.2 1421.8 1474.1 1422.9 1474.1 1423.9 1474.0 1425.3 1473.9 1426.7 1473.8 1427.6 1473.8 1428.7 1474.0 1430.0 1474.2 1431.4 1474.4 1432.9 1474.7 1434.5 1474.9 1436.1 1475.1 1437.7 1475.3 1439.3 1475.4 1440.9 1475.4 1442.4 1475.3 1443.8 1475.0 1445.0 1474.6 1446.3 1474.1 1447.5 1473.6 1448.7 1472.9 1449.9 1472.2 1451.0 1471.4 1452.2 1470.6 1453.4 1469.7 1454.5 1468.8 1455.7 1467.9 1456.8 1466.9 1457.9 1466.0 1459.1 1465.0 1460.2 1464.1 1461.3 1463.2 1462.3 1462.3 1463.4 1461.4 1464.4 1460.4 1465.5 1459.4 1466.5 1458.4 1467.5 1457.4 1468.5 1456.3 1469.6 1455.3 1470.6 1454.2 1471.6 1453.2 1472.6 1452.1 1473.6 1451.0 1474.6 1449.9 1475.6 1448.8 1476.6 1447.7 1477.5 1446.7 1478.5 1445.6 1479.4 1444.5 1480.4 1443.4 1481.3 1442.3 1482.3 1441.2 1483.2 1440.1 1484.1 1439.0 1485.1 1437.8 1486.0 1436.7 1486.9 1435.6 1487.8 1434.4 1488.7 1433.3 1489.6 1432.2 1490.5 1431.1 1491.3 1430.1 1492.2 1429.0 1493.0 1428.0 1494.0 1426.7 1495.0 1425.5 1495.9 1424.3 1496.8 1423.1 1497.7 1421.9 1498.6 1420.7 1499.5 1419.5 1500.4 1418.3 1501.3 1417.2 1502.2 1416.0 1503.1 1414.9 1504.0 1413.8 1505.0 1412.6 1505.9 1411.5 1506.9 1410.3 1507.9 1409.1 1508.8 1408.0 1509.8 1406.8 1510.8 1405.7 1511.8 1404.7 1512.8 1403.7 1513.9 1402.7 1514.9 1401.8 1516.0 1400.9 1517.2 1400.0 1518.3 1399.2 1519.5 1398.5 1520.7 1397.7 1521.9 1397.1 1523.1 1396.4 1524.4 1395.8 1525.8 1395.2 1527.0 1394.7 1528.3 1394.3 1529.6 1393.9 1531.0 1393.5 1532.4 1393.2 1533.8 1392.8 1535.2 1392.5 1536.6 1392.2 1538.0 1391.9 1539.4 1391.6 1540.8 1391.2 1542.2 1390.8 1543.6 1390.4 1544.9 1389.9 1546.3 1389.5 1547.6 1389.1 1548.9 1388.6 1550.3 1388.1 1551.6 1387.7 1553.0 1387.2 1554.3 1386.7 1555.7 1386.2 1557.2 1385.8 1558.6 1385.3 1559.9 1384.9 1561.3 1384.4 1562.7 1384.0 1564.1 1383.5 1565.5 1383.1 1567.0 1382.6 1568.4 1382.2 1569.9 1381.7 1571.3 1381.3 1572.8 1380.9 1574.3 1380.4 1575.7 1380.0 1577.2 1379.6 1578.6 1379.2 1580.0 1378.8 1581.4 1378.4 1582.8 1378.0 1584.2 1377.7 1585.6 1377.3 1587.0 1377.0 1588.3 1376.6 1589.7 1376.3 1591.1 1376.0 1592.5 1375.6 1593.9 1375.3 1595.4 1375.0 1596.9 1374.7 1598.4 1374.3 1600.0 1374.0 1601.2 1373.7 1602.5 1373.5 1603.8 1373.2 1605.2 1372.9 1606.5 1372.7 1607.9 1372.4 1609.3 1372.1 1610.7 1371.8 1612.1 1371.5 1613.6 1371.3 1615.0 1371.0 1616.5 1370.7 1618.0 1370.4 1619.5 1370.2 1621.0 1369.9 1622.5 1369.7 1623.9 1369.4 1625.4 1369.2 1626.9 1369.0 1628.4 1368.7 1629.9 1368.5 1631.4 1368.3 1632.8 1368.2 1634.3 1368.0 1635.8 1367.8 1637.2 1367.7 1638.7 1367.6 1640.2 1367.5 1641.7 1367.4 1643.2 1367.3 1644.7 1367.2 1646.2 1367.1 1647.7 1367.0 1649.2 1367.0 1650.7 1366.9 1652.2 1366.8 1653.7 1366.8 1655.2 1366.8 1656.7 1366.7 1658.1 1366.7 1659.6 1366.7 1661.1 1366.6 1662.6 1366.6 1664.1 1366.6 1665.6 1366.6 1667.1 1366.5 1668.5 1366.5 1670.0 1366.5 1671.5 1366.5 1673.0 1366.4 1674.4 1366.4 1675.9 1366.3 1677.4 1366.2 1678.8 1366.1 1680.3 1366.0 1681.8 1365.9 1683.2 1365.9 1684.7 1365.8 1686.1 1365.7 1687.6 1365.7 1689.1 1365.6 1690.5 1365.6 1692.0 1365.6 1693.4 1365.7 1694.9 1365.7 1696.3 1365.8 1697.7 1365.9 1699.2 1366.1 1700.6 1366.3 1702.1 1366.5 1703.5 1366.8 1704.9 1367.1 1706.2 1367.5 1707.6 1367.8 1709.0 1368.2 1710.4 1368.7 1711.8 1369.2 1713.2 1369.7 1714.6 1370.2 1716.0 1370.8 1717.4 1371.3 1718.8 1371.9 1720.1 1372.5 1721.5 1373.2 1722.9 1373.8 1724.3 1374.5 1725.6 1375.1 1726.9 1375.8 1728.3 1376.5 1729.6 1377.2 1730.8 1377.8 1732.1 1378.5 1733.3 1379.2 1734.5 1379.9 1735.7 1380.5 1736.9 1381.2 1738.0 1381.8 1739.4 1382.6 1740.8 1383.5 1742.1 1384.3 1743.4 1385.2 1744.7 1386.0 1745.9 1386.9 1747.1 1387.8 1748.3 1388.6 1749.4 1389.5 1750.6 1390.4 1751.7 1391.3 1752.8 1392.2 1754.0 1393.1 1755.1 1394.0 1756.2 1394.9 1757.3 1395.8 1758.5 1396.8 1759.6 1397.7 1760.8 1398.7 1761.9 1399.6 1763.0 1400.6 1764.1 1401.6 1765.2 1402.5 1766.3 1403.5 1767.4 1404.5 1768.5 1405.5 1769.5 1406.4 1770.5 1407.4 1771.6 1408.4 1772.6 1409.4 1773.6 1410.4 1774.7 1411.5 1775.7 1412.5 1776.7 1413.5 1777.7 1414.6 1778.7 1415.7 1779.7 1416.7 1780.7 1417.8 1781.6 1418.8 1782.6 1419.8 1783.5 1420.8 1784.3 1421.8 1785.2 1422.8 1786.2 1423.9 1787.1 1425.0 1787.9 1426.0 1788.7 1427.0 1789.5 1428.0 1790.3 1429.0 1791.2 1430.1 1792.1 1431.2 1793.0 1432.4 1793.8 1433.4 1794.6 1434.5 1795.5 1435.6 1796.4 1436.7 1797.3 1437.9 1798.2 1439.1 1799.1 1440.3 1800.1 1441.5 1801.0 1442.7 1801.9 1443.9 1802.8 1445.1 1803.7 1446.2 1804.5 1447.3 1805.3 1448.3 1806.0 1449.2 1807.0 1450.4 1807.8 1451.6 1808.6 1452.7 1809.4 1453.7 1810.2 1454.7 1811.1 1455.8 1812.0 1456.8 1812.9 1457.7 1813.8 1458.6 1814.8 1459.5 1815.8 1460.4 1816.8 1461.3 1817.8 1462.2 1818.8 1463.1 1819.9 1464.1 1820.9 1465.1 1821.8 1466.1 1822.7 1467.0 1823.6 1468.1 1824.5 1469.1 1825.4 1470.2 1826.4 1471.2 1827.3 1472.3 1828.2 1473.5 1829.2 1474.6 1830.1 1475.7 1831.0 1476.9 1832.0 1478.0 1832.9 1479.1 1833.8 1480.2 1834.7 1481.4 1835.6 1482.5 1836.6 1483.7 1837.5 1484.9 1838.4 1486.1 1839.4 1487.2 1840.3 1488.4 1841.2 1489.6 1842.2 1490.7 1843.1 1491.9 1844.1 1492.9 1845.0 1494.0 1846.0 1495.1 1847.0 1496.2 1848.0 1497.2 1848.9 1498.2 1849.9 1499.3 1850.9 1500.3 1851.9 1501.3 1852.9 1502.2 1853.9 1503.2 1854.9 1504.1 1856.0 1505.1 1857.0 1506.0 1858.1 1507.0 1859.3 1508.0 1860.4 1508.9 1861.6 1509.9 1862.7 1510.8 1863.9 1511.7 1865.1 1512.6 1866.3 1513.5 1867.5 1514.3 1868.7 1515.2 1870.0 1516.0 1871.2 1516.7 1872.4 1517.5 1873.6 1518.2 1874.9 1518.9 1876.1 1519.6 1877.4 1520.3 1878.6 1520.9 1879.9 1521.6 1881.2 1522.2 1882.5 1522.8 1883.7 1523.4 1885.0 1524.0 1886.3 1524.6 1887.6 1525.2 1888.9 1525.8 1890.2 1526.4 1891.5 1526.9 1892.9 1527.5 1894.2 1528.0 1895.6 1528.5 1897.0 1529.0 1898.5 1529.5 1900.0 1530.0 1901.3 1530.4 1902.6 1530.7 1904.0 1531.0 1905.4 1531.4 1906.9 1531.7 1908.4 1532.0 1909.9 1532.3 1911.5 1532.5 1913.0 1532.8 1914.6 1533.1 1916.1 1533.4 1917.6 1533.7 1919.1 1534.0 1920.5 1534.3 1921.9 1534.6 1923.3 1534.9 1924.5 1535.2 1925.7 1535.6 1927.3 1536.1 1928.7 1536.6 1930.1 1537.2 1931.4 1537.8 1932.7 1538.3 1933.9 1538.9 1935.2 1539.5 1936.5 1540.0 1937.8 1540.6 1939.2 1541.1 1940.6 1541.6 1941.9 1542.1 1943.3 1542.6 1944.7 1543.2 1946.1 1543.7 1947.5 1544.2 1948.9 1544.7 1950.2 1545.3 1951.6 1545.8 1952.9 1546.4 1954.3 1546.9 1955.6 1547.5 1957.0 1548.0 1958.3 1548.6 1959.7 1549.2 1961.0 1549.8 1962.3 1550.5 1963.6 1551.1 1965.0 1551.8 1966.3 1552.5 1967.6 1553.2 1968.8 1553.9 1970.1 1554.6 1971.4 1555.3 1972.7 1556.1 1974.0 1556.8 1975.3 1557.5 1976.6 1558.2 1977.8 1559.0 1979.1 1559.7 1980.4 1560.5 1981.7 1561.2 1982.9 1561.9 1984.2 1562.7 1985.5 1563.4 1986.7 1564.2 1987.9 1564.9 1989.1 1565.6 1990.4 1566.4 1991.6 1567.1 1992.8 1567.8 1994.0 1568.6 1995.2 1569.3 1996.4 1570.1 1997.7 1570.8 1998.9 1571.5 2000.1 1572.3 2001.3 1573.0 2002.5 1573.8 2003.8 1574.5 2005.0 1575.3 2006.2 1576.0 2007.4 1576.7 2008.6 1577.5 2009.9 1578.2 2011.1 1579.0 2012.3 1579.7 2013.5 1580.5 2014.8 1581.2 2016.0 1582.0 2017.2 1582.7 2018.4 1583.4 2019.7 1584.2 2020.9 1584.9 2022.1 1585.6 2023.3 1586.4 2024.6 1587.1 2025.8 1587.8 2027.0 1588.5 2028.3 1589.3 2029.5 1590.0 2030.8 1590.8 2032.0 1591.5 2033.3 1592.3 2034.6 1593.0 2035.9 1593.8 2037.2 1594.5 2038.5 1595.3 2039.8 1596.0 2041.1 1596.7 2042.4 1597.4 2043.7 1598.1 2045.0 1598.8 2046.2 1599.5 2047.5 1600.2 2048.8 1600.9 2050.2 1601.5 2051.5 1602.2 2052.8 1602.8 2054.1 1603.4 2055.5 1604.0 2056.8 1604.5 2058.2 1605.1 2059.5 1605.6 2060.9 1606.2 2062.3 1606.7 2063.6 1607.2 2065.0 1607.7 2066.4 1608.1 2067.7 1608.6 2069.1 1609.0 2070.5 1609.4 2071.9 1609.9 2073.3 1610.3 2074.6 1610.6 2076.0 1611.0 2077.4 1611.4 2078.8 1611.7 2080.2 1612.0 2081.5 1612.3 2082.9 1612.6 2084.3 1612.9 2085.7 1613.2 2087.1 1613.4 2088.5 1613.6 2089.9 1613.8 2091.3 1614.1 2092.7 1614.2 2094.2 1614.4 2095.7 1614.6 2097.1 1614.7 2098.6 1614.8 2100.0 1615.0 2101.5 1615.1 2102.9 1615.1 2104.4 1615.2 2105.8 1615.3 2107.3 1615.3 2108.7 1615.4 2110.1 1615.4 2111.6 1615.4 2113.0 1615.4 2114.4 1615.4 2115.9 1615.4 2117.4 1615.4 2118.8 1615.4 2120.3 1615.4 2121.7 1615.3 2123.2 1615.3 2124.7 1615.3 2126.1 1615.2 2127.6 1615.2 2129.1 1615.2 2130.6 1615.1 2132.1 1615.1 2133.6 1615.1 2135.1 1615.1 2136.6 1615.0 2138.1 1615.0 2139.6 1615.0 2141.1 1615.0 2142.5 1614.9 2144.0 1614.9 2145.4 1614.9 2146.9 1614.9 2148.3 1614.9 2149.7 1614.9 2151.1 1614.9 2152.6 1614.9 2154.0 1614.9 2155.5 1614.9 2156.9 1614.9 2158.4 1614.9 2159.8 1614.9 2161.3 1614.9 2162.8 1614.9 2164.3 1614.9 2165.7 1614.9 2167.2 1614.9 2168.7 1614.9 2170.2 1614.9 2171.6 1614.9 2173.1 1614.9 2174.6 1614.9 2176.1 1614.9 2177.6 1614.9 2179.0 1614.9 2180.5 1614.9 2182.0 1614.9 2183.4 1614.9 2184.9 1614.9 2186.3 1614.9 2187.7 1614.9 2189.2 1614.9 2190.6 1614.9 2192.0 1614.9 2193.4 1614.9 2194.8 1614.9 2196.2 1614.9 2197.5 1614.9 2198.9 1614.9 2200.2 1614.9 2201.5 1614.9 2202.8 1614.9 2204.2 1614.9 2205.5 1614.9 2206.8 1614.9 2208.2 1614.9 2209.6 1614.9 2211.0 1614.9 2212.3 1614.9 2213.7 1614.9 2215.1 1614.9 2216.5 1614.9 2217.9 1614.9 2219.3 1614.9 2220.7 1614.9 2222.1 1614.9 2223.5 1614.9 2224.9 1614.9 2226.4 1614.9 2227.8 1614.9 2229.2 1614.9 2230.6 1614.9 2232.0 1614.9 2233.5 1614.9 2234.9 1614.9 2236.4 1614.9 2237.8 1614.9 2239.3 1614.9 2240.7 1614.9 2242.1 1614.9 2243.6 1614.9 2245.0 1614.9 2246.5 1614.9 2247.9 1614.9 2249.4 1614.9 2250.9 1614.9 2252.3 1614.9 2253.8 1614.9 2255.2 1614.9 2256.7 1614.9 2258.2 1614.9 2259.6 1614.9 2261.1 1614.9 2262.5 1614.9 2264.0 1614.9 2265.5 1614.9 2266.9 1614.9 2268.4 1614.9 2269.8 1614.9 2271.3 1614.9 2272.7 1614.9 2274.2 1614.9 2275.7 1614.9 2277.1 1614.9 2278.6 1614.9 2280.0 1614.9 2281.5 1614.9 2282.9 1614.9 2284.3 1614.9 2285.8 1614.9 2287.2 1614.9 2288.7 1614.9 2290.1 1614.9 2291.5 1614.9 2292.9 1614.9 2294.4 1614.9 2295.8 1614.9 2297.2 1614.9 2298.6 1614.9 2300.0 1614.9 2301.4 1614.9 2302.8 1614.9 2304.2 1614.9 2305.6 1614.9 2307.0 1614.9 2308.4 1614.9 2309.8 1614.9 2311.2 1614.9 2312.5 1614.9 2313.9 1614.9 2315.2 1614.9 2316.6 1614.9 2317.9 1614.9 2319.3 1614.9 2320.6 1614.9 2322.0 1614.9" stroke="#808000" stroke-width="10"/><path d="M316.0 1530.8L317.4 1530.3 318.8 1529.8 320.2 1529.3 321.6 1528.8 323.0 1528.3 324.4 1527.8 325.8 1527.3 327.1 1526.8 328.5 1526.3 329.9 1525.8 331.3 1525.3 332.7 1524.8 334.1 1524.3 335.5 1523.8 336.9 1523.3 338.3 1522.8 339.8 1522.3 341.2 1521.8 342.6 1521.3 344.1 1520.7 345.5 1520.2 347.0 1519.7 348.3 1519.2 349.7 1518.8 351.0 1518.3 352.4 1517.8 353.7 1517.3 355.1 1516.8 356.5 1516.3 357.8 1515.9 359.2 1515.4 360.6 1514.9 362.0 1514.4 363.4 1513.9 364.8 1513.4 366.2 1512.9 367.6 1512.4 369.0 1511.9 370.5 1511.4 371.9 1510.9 373.3 1510.4 374.7 1510.0 376.1 1509.5 377.5 1509.0 378.9 1508.5 380.3 1508.0 381.7 1507.5 383.1 1507.1 384.5 1506.6 385.9 1506.1 387.3 1505.7 388.6 1505.2 390.0 1504.8 391.4 1504.3 392.8 1503.9 394.1 1503.4 395.5 1503.0 396.9 1502.5 398.3 1502.1 399.7 1501.6 401.0 1501.2 402.4 1500.8 403.8 1500.3 405.2 1499.9 406.6 1499.4 407.9 1499.0 409.3 1498.6 410.7 1498.1 412.1 1497.7 413.4 1497.2 414.8 1496.8 416.2 1496.3 417.6 1495.9 418.9 1495.4 420.3 1495.0 421.7 1494.5 423.1 1494.0 424.5 1493.6 425.8 1493.1 427.2 1492.6 428.6 1492.1 430.0 1491.7 431.4 1491.2 432.8 1490.7 434.1 1490.2 435.5 1489.7 436.9 1489.3 438.3 1488.8 439.7 1488.3 441.1 1487.8 442.4 1487.3 443.8 1486.8 445.2 1486.4 446.6 1485.9 448.0 1485.4 449.3 1484.9 450.7 1484.4 452.1 1483.9 453.5 1483.4 454.9 1483.0 456.2 1482.5 457.6 1482.0 459.0 1481.5 460.4 1481.0 461.7 1480.5 463.1 1480.1 464.5 1479.6 465.9 1479.1 467.2 1478.6 468.6 1478.1 470.0 1477.7 471.3 1477.2 472.7 1476.7 474.1 1476.2 475.4 1475.7 476.8 1475.2 478.2 1474.8 479.5 1474.3 480.9 1473.8 482.3 1473.3 483.7 1472.8 485.0 1472.4 486.4 1471.9 487.8 1471.4 489.1 1470.9 490.5 1470.4 491.9 1469.9 493.3 1469.5 494.6 1469.0 496.0 1468.5 497.4 1468.0 498.8 1467.5 500.2 1467.0 501.7 1466.5 503.1 1466.0 504.6 1465.5 506.0 1465.0 507.5 1464.5 509.0 1464.0 510.4 1463.4 511.9 1462.9 513.4 1462.4 514.8 1461.9 516.3 1461.4 517.7 1460.9 519.1 1460.4 520.6 1459.9 522.0 1459.4 523.3 1458.9 524.7 1458.5 526.0 1458.0 527.4 1457.5 528.6 1457.1 529.9 1456.7 531.1 1456.2 532.3 1455.8 533.5 1455.4 535.0 1454.9 536.5 1454.4 538.0 1453.9 539.4 1453.4 540.7 1452.9 542.1 1452.5 543.4 1452.1 544.7 1451.6 545.9 1451.2 547.2 1450.8 548.4 1450.3 549.6 1449.9 550.8 1449.5 552.0 1449.0 553.4 1448.4 554.8 1447.7 556.2 1446.9 557.6 1446.1 558.9 1445.4 560.3 1444.7 561.5 1444.1 562.7 1443.7 563.9 1443.5 565.0 1443.5 566.3 1443.9 567.6 1444.7 568.7 1445.8 569.8 1447.0 570.9 1448.1 572.0 1449.0 573.1 1449.8 574.1 1450.6 575.2 1451.3 576.5 1452.0 578.0 1452.5 578.9 1452.7 579.9 1452.9 580.9 1453.0 582.0 1453.1 583.1 1453.2 584.3 1453.2 585.6 1453.2 586.9 1453.2 588.3 1453.2 589.7 1453.1 591.2 1453.1 592.7 1453.0 594.3 1452.9 595.9 1452.9 597.5 1452.8 599.2 1452.7 600.9 1452.6 602.6 1452.6 604.4 1452.5 606.2 1452.5 608.0 1452.5 609.1 1452.5 610.2 1452.5 611.4 1452.5 612.6 1452.5 613.8 1452.4 615.1 1452.4 616.4 1452.4 617.8 1452.4 619.2 1452.3 620.6 1452.3 622.0 1452.2 623.5 1452.2 625.0 1452.1 626.5 1452.1 628.0 1452.0 629.6 1452.0 631.2 1451.9 632.8 1451.9 634.4 1451.8 636.0 1451.8 637.7 1451.7 639.4 1451.7 641.0 1451.6 642.7 1451.5 644.4 1451.5 646.2 1451.4 647.9 1451.4 649.6 1451.3 651.3 1451.3 653.1 1451.2 654.8 1451.2 656.5 1451.1 658.3 1451.1 660.0 1451.1 661.7 1451.0 663.4 1451.0 665.1 1450.9 666.8 1450.9 668.5 1450.9 670.2 1450.9 671.9 1450.9 673.5 1450.9 675.2 1450.8 676.8 1450.8 678.4 1450.8 680.0 1450.9 681.6 1450.9 683.1 1450.9 684.6 1450.9 686.1 1451.0 687.6 1451.0 689.1 1451.0 690.5 1451.1 691.9 1451.2 693.2 1451.2 694.5 1451.3 695.8 1451.4 697.1 1451.5 698.3 1451.6 699.5 1451.7 700.6 1451.8 701.7 1452.0 702.7 1452.1 703.7 1452.2 704.7 1452.4 706.6 1452.8 708.3 1453.2 709.9 1453.6 711.4 1454.0 712.8 1454.5 714.1 1455.0 715.4 1455.6 716.7 1456.1 717.9 1456.6 719.1 1457.2 720.3 1457.8 721.6 1458.3 722.9 1458.9 724.2 1459.5 725.7 1460.0 727.0 1460.5 728.3 1460.9 729.7 1461.4 731.0 1461.9 732.4 1462.4 733.8 1462.9 735.2 1463.4 736.6 1463.9 738.0 1464.4 739.4 1464.9 740.8 1465.4 742.2 1466.0 743.7 1466.5 745.1 1467.0 746.5 1467.5 747.9 1468.0 749.4 1468.5 750.8 1469.0 752.2 1469.5 753.6 1470.0 755.0 1470.5 756.4 1471.0 757.8 1471.5 759.2 1472.0 760.6 1472.4 762.0 1472.9 763.4 1473.4 764.8 1473.9 766.2 1474.4 767.6 1474.9 769.0 1475.4 770.4 1475.8 771.8 1476.3 773.2 1476.8 774.6 1477.3 776.0 1477.8 777.4 1478.2 778.8 1478.7 780.2 1479.2 781.6 1479.7 783.0 1480.2 784.4 1480.7 785.9 1481.2 787.3 1481.7 788.7 1482.2 790.2 1482.7 791.6 1483.3 793.1 1483.8 794.5 1484.3 796.0 1484.8 797.4 1485.3 798.8 1485.8 800.2 1486.3 801.6 1486.8 803.0 1487.3 804.4 1487.7 805.7 1488.2 807.0 1488.6 808.3 1489.0 809.5 1489.4 811.1 1489.9 812.6 1490.5 814.2 1491.0 815.8 1491.6 817.3 1492.1 818.8 1492.6 820.2 1493.1 821.6 1493.5 822.9 1493.8 824.1 1494.0 825.2 1494.1 826.3 1494.0 827.6 1493.5 828.8 1492.7 829.8 1491.8 830.8 1491.1 831.8 1490.8 832.9 1491.1 833.9 1491.8 835.0 1492.8 836.1 1493.9 837.4 1495.0 838.3 1495.8 839.4 1496.6 840.4 1497.5 841.6 1498.4 842.8 1499.4 844.0 1500.5 845.2 1501.5 846.4 1502.5 847.7 1503.5 848.9 1504.5 850.2 1505.4 851.4 1506.2 852.6 1507.0 853.9 1507.8 855.2 1508.6 856.4 1509.3 857.7 1510.0 859.0 1510.7 860.3 1511.4 861.5 1512.0 862.8 1512.7 864.1 1513.3 865.4 1513.9 866.8 1514.5 868.1 1515.2 869.4 1515.8 870.7 1516.4 872.0 1517.0 873.4 1517.5 874.8 1518.0 876.2 1518.6 877.7 1519.0 879.3 1519.5 880.5 1519.8 881.7 1520.1 883.0 1520.4 884.3 1520.7 885.6 1520.9 887.0 1521.2 888.4 1521.4 889.8 1521.6 891.2 1521.8 892.7 1522.0 894.1 1522.2 895.6 1522.4 897.1 1522.6 898.6 1522.8 900.2 1522.9 901.7 1523.1 903.2 1523.2 904.8 1523.4 906.2 1523.5 907.5 1523.6 908.9 1523.7 910.4 1523.8 911.8 1523.8 913.2 1523.9 914.7 1523.9 916.2 1524.0 917.7 1524.0 919.2 1524.0 920.7 1524.0 922.2 1524.0 923.7 1524.0 925.3 1524.1 926.8 1524.1 928.3 1524.1 929.9 1524.2 931.4 1524.2 932.9 1524.3 934.5 1524.4 936.0 1524.4 937.5 1524.6 939.0 1524.7 940.5 1524.8 942.0 1525.0 943.4 1525.2 944.9 1525.4 946.3 1525.6 947.8 1525.8 949.2 1526.1 950.6 1526.3 952.1 1526.6 953.5 1526.9 954.9 1527.2 956.4 1527.4 957.8 1527.7 959.2 1528.1 960.7 1528.4 962.1 1528.7 963.5 1529.0 965.0 1529.3 966.4 1529.7 967.8 1530.0 969.3 1530.4 970.7 1530.7 972.1 1531.0 973.6 1531.4 975.0 1531.7 976.4 1532.0 977.9 1532.4 979.3 1532.7 980.7 1533.0 982.2 1533.4 983.6 1533.7 985.0 1534.1 986.5 1534.4 987.9 1534.8 989.3 1535.2 990.8 1535.5 992.2 1535.9 993.6 1536.3 995.1 1536.7 996.5 1537.0 997.9 1537.4 999.4 1537.8 1000.8 1538.2 1002.2 1538.6 1003.7 1538.9 1005.1 1539.3 1006.5 1539.7 1008.0 1540.0 1009.4 1540.4 1010.9 1540.7 1012.3 1541.0 1013.7 1541.4 1015.2 1541.7 1016.6 1542.0 1018.0 1542.3 1019.4 1542.6 1020.9 1542.9 1022.3 1543.2 1023.7 1543.5 1025.1 1543.8 1026.5 1544.1 1027.9 1544.3 1029.3 1544.6 1030.7 1544.9 1032.1 1545.2 1033.5 1545.4 1034.9 1545.7 1036.3 1546.0 1037.7 1546.2 1039.2 1546.5 1040.6 1546.7 1042.0 1546.9 1043.5 1547.1 1044.9 1547.4 1046.4 1547.6 1047.8 1547.8 1049.3 1548.0 1050.8 1548.2 1052.3 1548.3 1053.8 1548.5 1055.2 1548.7 1056.6 1548.8 1058.0 1548.9 1059.5 1549.1 1060.9 1549.2 1062.3 1549.4 1063.8 1549.5 1065.2 1549.6 1066.7 1549.8 1068.2 1549.9 1069.6 1550.0 1071.1 1550.1 1072.6 1550.2 1074.1 1550.3 1075.6 1550.4 1077.1 1550.5 1078.6 1550.5 1080.1 1550.6 1081.6 1550.6 1083.1 1550.7 1084.6 1550.7 1086.1 1550.7 1087.7 1550.7 1089.2 1550.7 1090.7 1550.7 1092.3 1550.7 1093.8 1550.7 1095.3 1550.6 1096.9 1550.6 1098.4 1550.5 1100.0 1550.4 1101.4 1550.3 1102.8 1550.2 1104.2 1550.1 1105.7 1549.9 1107.1 1549.8 1108.6 1549.6 1110.0 1549.5 1111.5 1549.3 1112.9 1549.1 1114.4 1548.9 1115.8 1548.7 1117.3 1548.5 1118.8 1548.3 1120.3 1548.0 1121.7 1547.8 1123.2 1547.5 1124.7 1547.3 1126.2 1547.0 1127.7 1546.7 1129.2 1546.5 1130.7 1546.2 1132.1 1545.9 1133.6 1545.6 1135.1 1545.3 1136.6 1545.0 1138.1 1544.7 1139.6 1544.4 1141.1 1544.1 1142.6 1543.8 1144.1 1543.5 1145.6 1543.2 1147.0 1542.9 1148.5 1542.6 1150.0 1542.2 1151.5 1541.9 1153.0 1541.6 1154.4 1541.3 1155.9 1541.0 1157.3 1540.7 1158.8 1540.4 1160.2 1540.1 1161.6 1539.8 1163.1 1539.4 1164.5 1539.1 1166.0 1538.8 1167.4 1538.5 1168.8 1538.1 1170.3 1537.8 1171.7 1537.5 1173.1 1537.1 1174.5 1536.8 1176.0 1536.4 1177.4 1536.1 1178.8 1535.7 1180.3 1535.3 1181.7 1535.0 1183.1 1534.6 1184.6 1534.3 1186.0 1533.9 1187.4 1533.5 1188.9 1533.1 1190.3 1532.8 1191.7 1532.4 1193.1 1532.0 1194.6 1531.6 1196.0 1531.3 1197.4 1530.9 1198.9 1530.5 1200.3 1530.1 1201.7 1529.7 1203.1 1529.3 1204.6 1528.9 1206.0 1528.6 1207.4 1528.2 1208.8 1527.8 1210.3 1527.4 1211.7 1527.0 1213.1 1526.6 1214.6 1526.2 1216.0 1525.8 1217.4 1525.4 1218.9 1525.0 1220.3 1524.6 1221.8 1524.3 1223.2 1523.9 1224.6 1523.5 1226.1 1523.1 1227.5 1522.7 1229.0 1522.3 1230.4 1521.9 1231.8 1521.5 1233.3 1521.1 1234.7 1520.7 1236.1 1520.3 1237.6 1519.9 1239.0 1519.5 1240.5 1519.0 1241.9 1518.6 1243.3 1518.2 1244.8 1517.8 1246.2 1517.4 1247.6 1516.9 1249.1 1516.5 1250.5 1516.1 1251.9 1515.6 1253.3 1515.2 1254.8 1514.7 1256.2 1514.3 1257.6 1513.8 1259.1 1513.3 1260.5 1512.9 1261.9 1512.4 1263.3 1511.9 1264.8 1511.4 1266.2 1510.9 1267.6 1510.4 1269.0 1509.9 1270.4 1509.4 1271.7 1508.9 1273.1 1508.3 1274.5 1507.8 1275.9 1507.2 1277.3 1506.6 1278.7 1506.0 1280.1 1505.5 1281.5 1504.9 1282.9 1504.2 1284.3 1503.6 1285.8 1503.0 1287.2 1502.4 1288.6 1501.8 1290.0 1501.1 1291.4 1500.5 1292.8 1499.9 1294.2 1499.2 1295.6 1498.6 1296.9 1498.0 1298.3 1497.3 1299.7 1496.7 1301.1 1496.1 1302.5 1495.5 1303.8 1494.9 1305.2 1494.3 1306.6 1493.7 1307.9 1493.1 1309.3 1492.5 1310.6 1491.9 1311.9 1491.4 1313.3 1490.8 1314.6 1490.3 1315.9 1489.8 1317.2 1489.3 1318.5 1488.8 1319.7 1488.3 1321.0 1487.9 1322.3 1487.4 1323.5 1487.0 1325.0 1486.5 1326.6 1486.0 1328.1 1485.5 1329.6 1485.1 1331.0 1484.6 1332.5 1484.2 1333.9 1483.7 1335.4 1483.3 1336.8 1482.9 1338.2 1482.5 1339.6 1482.1 1341.0 1481.8 1342.4 1481.4 1343.8 1481.1 1345.2 1480.7 1346.6 1480.4 1348.0 1480.1 1349.3 1479.8 1350.7 1479.5 1352.1 1479.2 1353.5 1479.0 1355.0 1478.7 1356.4 1478.5 1357.8 1478.2 1359.2 1478.0 1360.7 1477.8 1362.1 1477.6 1363.6 1477.4 1365.1 1477.3 1366.6 1477.1 1368.1 1477.0 1369.6 1476.9 1371.1 1476.8 1372.6 1476.7 1374.2 1476.6 1375.7 1476.5 1377.2 1476.5 1378.8 1476.4 1380.3 1476.4 1381.8 1476.4 1383.3 1476.3 1384.8 1476.3 1386.3 1476.3 1387.8 1476.3 1389.3 1476.3 1390.7 1476.2 1392.1 1476.2 1393.5 1476.2 1394.9 1476.2 1396.2 1476.2 1397.5 1476.2 1398.8 1476.1 1400.0 1476.1 1401.6 1476.1 1403.2 1476.0 1404.6 1476.0 1406.0 1476.0 1407.4 1476.0 1408.7 1476.0 1410.0 1476.0 1411.4 1476.0 1412.7 1476.0 1414.0 1476.0 1415.4 1476.0 1416.9 1476.0 1418.4 1475.9 1420.0 1475.8 1421.3 1475.7 1422.6 1475.6 1423.9 1475.5 1425.3 1475.4 1426.7 1475.3 1428.1 1475.1 1429.6 1475.0 1431.1 1474.9 1432.6 1474.7 1434.1 1474.5 1435.6 1474.4 1437.1 1474.2 1438.7 1474.0 1440.2 1473.9 1441.8 1473.7 1443.3 1473.5 1444.9 1473.3 1446.5 1473.1 1448.0 1472.9 1449.6 1472.7 1451.1 1472.5 1452.7 1472.3 1454.2 1472.1 1455.7 1471.9 1457.2 1471.7 1458.6 1471.5 1460.1 1471.3 1461.5 1471.1 1462.9 1470.9 1464.4 1470.7 1465.8 1470.5 1467.2 1470.3 1468.7 1470.1 1470.1 1469.8 1471.6 1469.6 1473.0 1469.4 1474.4 1469.2 1475.9 1468.9 1477.3 1468.7 1478.7 1468.5 1480.2 1468.2 1481.6 1468.0 1483.0 1467.8 1484.5 1467.5 1485.9 1467.3 1487.3 1467.1 1488.8 1466.8 1490.2 1466.6 1491.6 1466.4 1493.1 1466.1 1494.5 1465.9 1495.9 1465.7 1497.4 1465.4 1498.8 1465.2 1500.2 1465.0 1501.7 1464.7 1503.1 1464.5 1504.5 1464.3 1506.0 1464.0 1507.4 1463.8 1508.8 1463.6 1510.2 1463.3 1511.7 1463.1 1513.1 1462.8 1514.5 1462.6 1516.0 1462.4 1517.4 1462.1 1518.8 1461.9 1520.3 1461.6 1521.7 1461.4 1523.1 1461.1 1524.5 1460.9 1526.0 1460.6 1527.4 1460.4 1528.8 1460.1 1530.3 1459.9 1531.7 1459.6 1533.1 1459.3 1534.6 1459.1 1536.0 1458.8 1537.5 1458.5 1538.9 1458.3 1540.4 1458.0 1541.9 1457.8 1543.3 1457.5 1544.8 1457.2 1546.2 1456.9 1547.7 1456.7 1549.2 1456.4 1550.6 1456.1 1552.1 1455.8 1553.5 1455.6 1555.0 1455.3 1556.4 1455.0 1557.8 1454.7 1559.3 1454.4 1560.7 1454.1 1562.1 1453.8 1563.5 1453.5 1564.9 1453.2 1566.3 1452.9 1567.6 1452.6 1569.0 1452.3 1570.5 1451.9 1572.0 1451.6 1573.4 1451.2 1574.9 1450.8 1576.3 1450.4 1577.7 1450.0 1579.1 1449.6 1580.5 1449.2 1581.9 1448.7 1583.3 1448.3 1584.7 1447.9 1586.1 1447.5 1587.5 1447.1 1588.9 1446.7 1590.3 1446.3 1591.7 1445.9 1593.1 1445.5 1594.6 1445.2 1596.0 1444.8 1597.5 1444.5 1599.0 1444.2 1600.4 1443.9 1601.9 1443.7 1603.3 1443.4 1604.8 1443.1 1606.4 1442.9 1607.9 1442.7 1609.5 1442.4 1611.0 1442.2 1612.6 1442.0 1614.2 1441.7 1615.7 1441.5 1617.3 1441.3 1618.9 1441.1 1620.5 1441.0 1622.0 1440.8 1623.6 1440.6 1625.1 1440.5 1626.6 1440.3 1628.1 1440.2 1629.5 1440.1 1630.9 1439.9 1632.3 1439.8 1633.6 1439.7 1634.9 1439.7 1636.2 1439.6 1637.8 1439.5 1639.3 1439.5 1640.8 1439.4 1642.2 1439.4 1643.5 1439.4 1644.9 1439.4 1646.2 1439.4 1647.5 1439.4 1648.8 1439.5 1650.2 1439.6 1651.7 1439.7 1653.2 1439.8 1654.8 1440.0 1656.0 1440.1 1657.3 1440.3 1658.5 1440.5 1659.8 1440.6 1661.2 1440.9 1662.5 1441.1 1663.9 1441.3 1665.3 1441.6 1666.8 1441.8 1668.2 1442.1 1669.7 1442.4 1671.1 1442.6 1672.6 1442.9 1674.1 1443.2 1675.6 1443.6 1677.1 1443.9 1678.6 1444.2 1680.1 1444.5 1681.7 1444.8 1683.2 1445.1 1684.7 1445.5 1686.2 1445.8 1687.6 1446.1 1689.1 1446.4 1690.6 1446.7 1692.0 1447.0 1693.4 1447.3 1694.9 1447.6 1696.3 1447.9 1697.8 1448.2 1699.2 1448.6 1700.7 1448.9 1702.1 1449.2 1703.6 1449.6 1705.1 1449.9 1706.5 1450.2 1708.0 1450.6 1709.4 1450.9 1710.9 1451.3 1712.3 1451.6 1713.8 1451.9 1715.2 1452.3 1716.6 1452.6 1718.1 1452.9 1719.5 1453.3 1720.9 1453.6 1722.3 1453.9 1723.8 1454.2 1725.2 1454.5 1726.5 1454.8 1727.9 1455.1 1729.3 1455.4 1730.8 1455.7 1732.4 1456.0 1733.9 1456.3 1735.4 1456.6 1736.9 1457.0 1738.4 1457.3 1739.9 1457.6 1741.4 1457.9 1742.9 1458.1 1744.4 1458.4 1745.9 1458.7 1747.3 1459.0 1748.8 1459.2 1750.2 1459.5 1751.7 1459.7 1753.1 1460.0 1754.5 1460.2 1755.9 1460.4 1757.3 1460.6 1758.6 1460.7 1760.0 1460.9 1761.6 1461.0 1763.1 1461.2 1764.7 1461.2 1766.2 1461.3 1767.7 1461.3 1769.2 1461.3 1770.6 1461.3 1772.1 1461.3 1773.6 1461.3 1775.0 1461.3 1776.5 1461.3 1777.9 1461.4 1779.4 1461.5 1780.8 1461.6 1782.3 1461.8 1783.7 1462.0 1785.1 1462.3 1786.5 1462.6 1787.9 1462.8 1789.3 1463.2 1790.7 1463.5 1792.2 1463.9 1793.6 1464.2 1795.0 1464.6 1796.4 1465.0 1797.8 1465.5 1799.1 1465.9 1800.5 1466.3 1801.9 1466.8 1803.3 1467.2 1804.7 1467.7 1806.0 1468.2 1807.4 1468.6 1808.7 1469.1 1810.0 1469.6 1811.3 1470.0 1812.6 1470.5 1814.0 1471.1 1815.3 1471.6 1816.6 1472.1 1817.9 1472.7 1819.2 1473.2 1820.5 1473.8 1821.8 1474.4 1823.1 1475.0 1824.4 1475.6 1825.7 1476.2 1827.0 1476.9 1828.3 1477.6 1829.5 1478.2 1830.8 1478.9 1832.1 1479.6 1833.3 1480.4 1834.6 1481.1 1835.8 1481.8 1837.1 1482.6 1838.3 1483.4 1839.6 1484.2 1840.8 1485.0 1842.0 1485.8 1843.3 1486.6 1844.5 1487.4 1845.7 1488.3 1847.0 1489.1 1848.2 1489.9 1849.4 1490.8 1850.6 1491.7 1851.8 1492.5 1853.0 1493.5 1854.2 1494.4 1855.5 1495.4 1856.7 1496.3 1857.9 1497.3 1859.1 1498.3 1860.3 1499.3 1861.5 1500.3 1862.7 1501.2 1863.9 1502.2 1865.0 1503.2 1866.2 1504.1 1867.3 1505.0 1868.4 1505.9 1869.5 1506.8 1870.6 1507.6 1871.7 1508.4 1873.0 1509.3 1874.2 1510.2 1875.4 1511.1 1876.5 1511.9 1877.6 1512.7 1878.7 1513.4 1879.9 1514.2 1881.0 1514.9 1882.2 1515.7 1883.4 1516.5 1884.7 1517.2 1886.0 1518.0 1887.1 1518.7 1888.3 1519.3 1889.5 1520.0 1890.8 1520.6 1892.0 1521.3 1893.3 1521.9 1894.6 1522.6 1895.9 1523.2 1897.3 1523.9 1898.6 1524.5 1900.0 1525.2 1901.4 1525.8 1902.7 1526.4 1904.1 1527.1 1905.5 1527.7 1906.9 1528.3 1908.2 1529.0 1909.6 1529.6 1910.9 1530.2 1912.2 1530.8 1913.5 1531.4 1914.9 1532.0 1916.2 1532.5 1917.5 1533.1 1918.9 1533.7 1920.3 1534.3 1921.6 1534.9 1923.0 1535.4 1924.3 1536.0 1925.7 1536.6 1927.1 1537.2 1928.4 1537.7 1929.8 1538.3 1931.1 1538.8 1932.5 1539.4 1933.8 1539.9 1935.1 1540.5 1936.4 1541.0 1937.8 1541.6 1939.2 1542.1 1940.6 1542.7 1942.0 1543.2 1943.4 1543.7 1944.8 1544.2 1946.1 1544.7 1947.5 1545.2 1948.9 1545.7 1950.2 1546.3 1951.6 1546.8 1952.9 1547.3 1954.3 1547.8 1955.6 1548.4 1957.0 1549.0 1958.3 1549.6 1959.7 1550.2 1961.0 1550.8 1962.3 1551.5 1963.6 1552.1 1964.9 1552.8 1966.2 1553.5 1967.5 1554.2 1968.8 1554.9 1970.1 1555.6 1971.4 1556.3 1972.7 1557.1 1974.0 1557.8 1975.3 1558.5 1976.6 1559.3 1977.9 1560.0 1979.1 1560.8 1980.4 1561.5 1981.7 1562.3 1983.0 1563.0 1984.2 1563.7 1985.5 1564.4 1986.7 1565.2 1987.9 1565.9 1989.1 1566.6 1990.3 1567.3 1991.6 1568.1 1992.8 1568.8 1994.0 1569.6 1995.2 1570.3 1996.4 1571.1 1997.7 1571.8 1998.9 1572.5 2000.1 1573.3 2001.3 1574.0 2002.5 1574.8 2003.8 1575.5 2005.0 1576.3 2006.2 1577.0 2007.4 1577.7 2008.6 1578.5 2009.9 1579.2 2011.1 1580.0 2012.3 1580.7 2013.5 1581.5 2014.8 1582.2 2016.0 1583.0 2017.2 1583.7 2018.4 1584.4 2019.7 1585.2 2020.9 1585.9 2022.1 1586.7 2023.3 1587.4 2024.6 1588.1 2025.8 1588.8 2027.0 1589.6 2028.3 1590.3 2029.5 1591.0 2030.8 1591.7 2032.1 1592.5 2033.4 1593.2 2034.6 1594.0 2035.9 1594.8 2037.2 1595.5 2038.5 1596.3 2039.8 1597.0 2041.1 1597.7 2042.4 1598.5 2043.7 1599.2 2045.0 1599.9 2046.3 1600.6 2047.6 1601.3 2048.9 1601.9 2050.2 1602.6 2051.5 1603.2 2052.8 1603.8 2054.1 1604.4 2055.5 1605.0 2056.8 1605.5 2058.2 1606.1 2059.5 1606.6 2060.9 1607.2 2062.3 1607.7 2063.6 1608.2 2065.0 1608.7 2066.4 1609.1 2067.7 1609.6 2069.1 1610.0 2070.5 1610.4 2071.9 1610.9 2073.2 1611.3 2074.6 1611.6 2076.0 1612.0 2077.4 1612.4 2078.8 1612.7 2080.2 1613.0 2081.6 1613.3 2082.9 1613.6 2084.3 1613.9 2085.7 1614.2 2087.0 1614.4 2088.4 1614.6 2089.9 1614.8 2091.3 1615.1 2092.8 1615.2 2094.4 1615.4 2095.9 1615.6 2097.6 1615.8 2099.3 1615.9 2100.5 1616.0 2101.7 1616.1 2102.9 1616.1 2104.2 1616.2 2105.4 1616.3 2106.7 1616.3 2108.0 1616.3 2109.2 1616.4 2110.5 1616.4 2111.9 1616.4 2113.2 1616.4 2114.5 1616.4 2115.9 1616.4 2117.3 1616.4 2118.7 1616.4 2120.1 1616.3 2121.5 1616.3 2123.0 1616.3 2124.5 1616.3 2126.0 1616.2 2127.5 1616.2 2129.1 1616.2 2130.7 1616.1 2132.3 1616.1 2133.9 1616.1 2135.6 1616.0 2137.3 1616.0 2139.0 1616.0 2140.8 1616.0 2142.5 1615.9 2144.4 1615.9 2146.2 1615.9 2148.1 1615.9 2150.0 1615.9 2151.1 1615.9 2152.1 1615.9 2153.2 1615.9 2154.3 1615.9 2155.5 1615.9 2156.6 1615.9 2157.7 1615.9 2158.9 1615.9 2160.1 1615.9 2161.3 1615.9 2162.5 1615.9 2163.7 1615.9 2164.9 1615.9 2166.2 1615.9 2167.4 1615.9 2168.7 1615.9 2170.0 1615.9 2171.2 1615.9 2172.6 1615.9 2173.9 1615.9 2175.2 1615.9 2176.5 1615.9 2177.9 1615.9 2179.2 1615.9 2180.6 1615.9 2182.0 1615.9 2183.4 1615.9 2184.8 1615.9 2186.2 1615.9 2187.6 1615.9 2189.0 1615.9 2190.5 1615.9 2191.9 1615.9 2193.4 1615.9 2194.8 1615.9 2196.3 1615.9 2197.8 1615.9 2199.3 1615.9 2200.8 1615.9 2202.3 1615.9 2203.8 1615.9 2205.3 1615.9 2206.8 1615.9 2208.4 1615.9 2209.9 1615.9 2211.5 1615.9 2213.0 1615.9 2214.6 1615.9 2216.1 1615.9 2217.7 1615.9 2219.3 1615.9 2220.9 1615.9 2222.4 1615.9 2224.0 1615.9 2225.6 1615.9 2227.2 1615.9 2228.8 1615.9 2230.4 1615.9 2232.0 1615.9 2233.7 1615.9 2235.3 1615.9 2236.9 1615.9 2238.5 1615.9 2240.1 1615.9 2241.8 1615.9 2243.4 1615.9 2245.0 1615.9 2246.7 1615.9 2248.3 1615.9 2249.9 1615.9 2251.6 1615.9 2253.2 1615.9 2254.9 1615.9 2256.5 1615.9 2258.2 1615.9 2259.8 1615.9 2261.4 1615.9 2263.1 1615.9 2264.7 1615.9 2266.4 1615.9 2268.0 1615.9 2269.7 1615.9 2271.3 1615.9 2272.9 1615.9 2274.6 1615.9 2276.2 1615.9 2277.8 1615.9 2279.5 1615.9 2281.1 1615.9 2282.7 1615.9 2284.3 1615.9 2286.0 1615.9 2287.6 1615.9 2289.2 1615.9 2290.8 1615.9 2292.4 1615.9 2294.0 1615.9 2295.6 1615.9 2297.2 1615.9 2298.8 1615.9 2300.4 1615.9 2302.0 1615.9 2303.6 1615.9 2305.1 1615.9 2306.7 1615.9 2308.3 1615.9 2309.8 1615.9 2311.4 1615.9 2312.9 1615.9 2314.4 1615.9 2316.0 1615.9 2317.5 1615.9 2319.0 1615.9 2320.5 1615.9 2322.0 1615.9" stroke="#000080" stroke-width="10"/></g><line x1="1964" y1="143" x2="1964" y2="1313" stroke="#000" stroke-width="2" stroke-dasharray="11 8"/><rect x="315.5" y="31.5" width="2005" height="1618" fill="none" stroke="#000" stroke-width="7"/><path d="M284 1649.5H312 M284 1368.2H312 M284 1086.9H312 M284 805.6H312 M284 524.3H312 M284 243.0H312 M300 1508.8H312 M300 1227.5H312 M300 946.2H312 M300 664.9H312 M300 383.6H312 M300 102.3H312 M516.0 1653V1681 M850.2 1653V1681 M1184.4 1653V1681 M1518.6 1653V1681 M1852.8 1653V1681 M2187.0 1653V1681 M348.9 1653V1665 M683.1 1653V1665 M1017.3 1653V1665 M1351.5 1653V1665 M1685.7 1653V1665 M2019.9 1653V1665" stroke="#000" stroke-width="6" fill="none"/><text transform="translate(265 1672.7) scale(1 1.02)" font-size="76" text-anchor="end" font-family="Liberation Serif, Times New Roman, serif" font-weight="bold">0.0</text><text transform="translate(265 1391.4) scale(1 1.02)" font-size="76" text-anchor="end" font-family="Liberation Serif, Times New Roman, serif" font-weight="bold">0.2</text><text transform="translate(265 1110.1) scale(1 1.02)" font-size="76" text-anchor="end" font-family="Liberation Serif, Times New Roman, serif" font-weight="bold">0.4</text><text transform="translate(265 828.8) scale(1 1.02)" font-size="76" text-anchor="end" font-family="Liberation Serif, Times New Roman, serif" font-weight="bold">0.6</text><text transform="translate(265 547.5) scale(1 1.02)" font-size="76" text-anchor="end" font-family="Liberation Serif, Times New Roman, serif" font-weight="bold">0.8</text><text transform="translate(265 266.2) scale(1 1.02)" font-size="76" text-anchor="end" font-family="Liberation Serif, Times New Roman, serif" font-weight="bold">1.0</text><text transform="translate(516.8 1748.6) scale(1 1.05)" font-size="61.3" text-anchor="middle" font-family="Liberation Serif, Times New Roman, serif" font-weight="bold">300</text><text transform="translate(851.0 1748.6) scale(1 1.05)" font-size="61.3" text-anchor="middle" font-family="Liberation Serif, Times New Roman, serif" font-weight="bold">400</text><text transform="translate(1185.2 1748.6) scale(1 1.05)" font-size="61.3" text-anchor="middle" font-family="Liberation Serif, Times New Roman, serif" font-weight="bold">500</text><text transform="translate(1519.4 1748.6) scale(1 1.05)" font-size="61.3" text-anchor="middle" font-family="Liberation Serif, Times New Roman, serif" font-weight="bold">600</text><text transform="translate(1853.6 1748.6) scale(1 1.05)" font-size="61.3" text-anchor="middle" font-family="Liberation Serif, Times New Roman, serif" font-weight="bold">700</text><text transform="translate(2187.8 1748.6) scale(1 1.05)" font-size="61.3" text-anchor="middle" font-family="Liberation Serif, Times New Roman, serif" font-weight="bold">800</text><text x="1318" y="1867" font-size="75.1" text-anchor="middle" font-family="Liberation Serif, Times New Roman, serif" font-weight="bold">Wavelength (nm)</text><text transform="translate(79.3 812.8) rotate(-90)" x="0" y="0" font-size="75.8" text-anchor="middle" font-family="Liberation Serif, Times New Roman, serif" font-weight="bold">Absorbance (a.u.)</text><text x="1942.9" y="118.5" font-size="53" font-family="Liberation Sans, Arial, sans-serif" font-weight="bold">0 min</text><text x="1951.8" y="1377.5" font-size="53" font-family="Liberation Sans, Arial, sans-serif" font-weight="bold">30 min</text></svg>
</body></html>
